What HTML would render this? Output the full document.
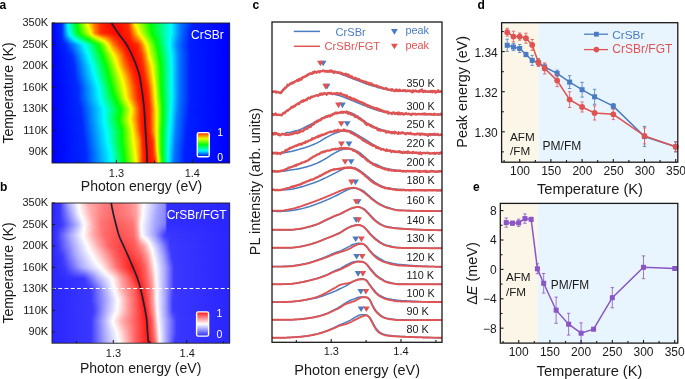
<!DOCTYPE html>
<html><head><meta charset="utf-8"><style>html,body{margin:0;padding:0;background:#fff}svg{display:block}text{font-family:"Liberation Sans",sans-serif}</style></head>
<body><div style="will-change:transform;width:685px;height:379px"><svg xmlns="http://www.w3.org/2000/svg" width="685" height="379" viewBox="0 0 685 379"><defs><linearGradient id="fg" x1="0" y1="0" x2="0" y2="1"><stop offset="0" stop-color="#fff" stop-opacity="0"/><stop offset="1" stop-color="#fff" stop-opacity="1"/></linearGradient><mask id="fm" maskContentUnits="objectBoundingBox" style="mask-type:alpha"><rect width="1" height="1" fill="url(#fg)"/></mask><linearGradient id="ga0" gradientUnits="userSpaceOnUse" x1="52" x2="229.7" y1="0" y2="0"><stop offset="0.000" stop-color="#0000ff"/><stop offset="0.056" stop-color="#0029ff"/><stop offset="0.084" stop-color="#00e8ff"/><stop offset="0.090" stop-color="#00fff4"/><stop offset="0.135" stop-color="#00ff14"/><stop offset="0.141" stop-color="#07ff00"/><stop offset="0.197" stop-color="#fcff00"/><stop offset="0.236" stop-color="#ff7b00"/><stop offset="0.276" stop-color="#ff2900"/><stop offset="0.338" stop-color="#ff0000"/><stop offset="0.428" stop-color="#ff2a00"/><stop offset="0.445" stop-color="#ff8000"/><stop offset="0.461" stop-color="#ffed00"/><stop offset="0.467" stop-color="#f7ff00"/><stop offset="0.551" stop-color="#00ff00"/><stop offset="0.670" stop-color="#00feff"/><stop offset="0.720" stop-color="#007bff"/><stop offset="0.793" stop-color="#001fff"/><stop offset="1.000" stop-color="#0000ff"/></linearGradient><linearGradient id="ga1" gradientUnits="userSpaceOnUse" x1="52" x2="229.7" y1="0" y2="0"><stop offset="0.000" stop-color="#0000ff"/><stop offset="0.056" stop-color="#0029ff"/><stop offset="0.084" stop-color="#00e1ff"/><stop offset="0.090" stop-color="#00fffc"/><stop offset="0.141" stop-color="#00ff04"/><stop offset="0.163" stop-color="#5eff00"/><stop offset="0.197" stop-color="#edff00"/><stop offset="0.203" stop-color="#fffc00"/><stop offset="0.236" stop-color="#ff8200"/><stop offset="0.264" stop-color="#ff4100"/><stop offset="0.276" stop-color="#ff2900"/><stop offset="0.338" stop-color="#ff0300"/><stop offset="0.400" stop-color="#ff1a00"/><stop offset="0.428" stop-color="#ff2800"/><stop offset="0.445" stop-color="#ff7400"/><stop offset="0.461" stop-color="#ffd800"/><stop offset="0.467" stop-color="#fff300"/><stop offset="0.473" stop-color="#f9ff00"/><stop offset="0.551" stop-color="#07ff00"/><stop offset="0.557" stop-color="#00ff06"/><stop offset="0.670" stop-color="#00feff"/><stop offset="0.720" stop-color="#007bff"/><stop offset="0.788" stop-color="#0024ff"/><stop offset="0.799" stop-color="#001dff"/><stop offset="1.000" stop-color="#0000ff"/></linearGradient><linearGradient id="ga2" gradientUnits="userSpaceOnUse" x1="52" x2="229.7" y1="0" y2="0"><stop offset="0.000" stop-color="#0000ff"/><stop offset="0.056" stop-color="#0029ff"/><stop offset="0.090" stop-color="#00fbff"/><stop offset="0.113" stop-color="#00ff95"/><stop offset="0.141" stop-color="#00ff0e"/><stop offset="0.146" stop-color="#0bff00"/><stop offset="0.197" stop-color="#deff00"/><stop offset="0.203" stop-color="#f2ff00"/><stop offset="0.208" stop-color="#fff700"/><stop offset="0.225" stop-color="#ffb700"/><stop offset="0.236" stop-color="#ff8800"/><stop offset="0.248" stop-color="#ff6800"/><stop offset="0.276" stop-color="#ff2900"/><stop offset="0.343" stop-color="#ff0600"/><stop offset="0.383" stop-color="#ff0f00"/><stop offset="0.428" stop-color="#ff2700"/><stop offset="0.439" stop-color="#ff4d00"/><stop offset="0.450" stop-color="#ff8600"/><stop offset="0.461" stop-color="#ffc400"/><stop offset="0.473" stop-color="#fff200"/><stop offset="0.478" stop-color="#f8ff00"/><stop offset="0.546" stop-color="#20ff00"/><stop offset="0.557" stop-color="#00ff00"/><stop offset="0.670" stop-color="#00feff"/><stop offset="0.720" stop-color="#007bff"/><stop offset="0.782" stop-color="#0027ff"/><stop offset="0.799" stop-color="#001dff"/><stop offset="1.000" stop-color="#0000ff"/></linearGradient><linearGradient id="ga3" gradientUnits="userSpaceOnUse" x1="52" x2="229.7" y1="0" y2="0"><stop offset="0.000" stop-color="#0000ff"/><stop offset="0.056" stop-color="#0029ff"/><stop offset="0.090" stop-color="#00f3ff"/><stop offset="0.096" stop-color="#00ffee"/><stop offset="0.146" stop-color="#00ff00"/><stop offset="0.203" stop-color="#e3ff00"/><stop offset="0.208" stop-color="#f8ff00"/><stop offset="0.214" stop-color="#fff200"/><stop offset="0.225" stop-color="#ffc300"/><stop offset="0.242" stop-color="#ff7900"/><stop offset="0.276" stop-color="#ff2900"/><stop offset="0.343" stop-color="#ff0800"/><stop offset="0.377" stop-color="#ff0900"/><stop offset="0.428" stop-color="#ff2500"/><stop offset="0.439" stop-color="#ff4300"/><stop offset="0.456" stop-color="#ff9400"/><stop offset="0.467" stop-color="#ffca00"/><stop offset="0.478" stop-color="#fff500"/><stop offset="0.484" stop-color="#f4ff00"/><stop offset="0.512" stop-color="#95ff00"/><stop offset="0.557" stop-color="#06ff00"/><stop offset="0.568" stop-color="#00ff18"/><stop offset="0.670" stop-color="#00feff"/><stop offset="0.720" stop-color="#007bff"/><stop offset="0.777" stop-color="#0028ff"/><stop offset="0.799" stop-color="#001dff"/><stop offset="1.000" stop-color="#0000ff"/></linearGradient><linearGradient id="ga4" gradientUnits="userSpaceOnUse" x1="52" x2="229.7" y1="0" y2="0"><stop offset="0.000" stop-color="#0000ff"/><stop offset="0.056" stop-color="#0029ff"/><stop offset="0.090" stop-color="#00ebff"/><stop offset="0.096" stop-color="#00fff5"/><stop offset="0.146" stop-color="#00ff0b"/><stop offset="0.152" stop-color="#0eff00"/><stop offset="0.214" stop-color="#feff00"/><stop offset="0.219" stop-color="#ffeb00"/><stop offset="0.242" stop-color="#ff7c00"/><stop offset="0.276" stop-color="#ff2900"/><stop offset="0.349" stop-color="#ff0900"/><stop offset="0.377" stop-color="#ff0600"/><stop offset="0.428" stop-color="#ff2400"/><stop offset="0.439" stop-color="#ff3800"/><stop offset="0.478" stop-color="#ffe400"/><stop offset="0.484" stop-color="#fffb00"/><stop offset="0.506" stop-color="#b4ff00"/><stop offset="0.557" stop-color="#0bff00"/><stop offset="0.563" stop-color="#00ff06"/><stop offset="0.670" stop-color="#00ffff"/><stop offset="0.720" stop-color="#007bff"/><stop offset="0.777" stop-color="#0024ff"/><stop offset="0.827" stop-color="#0018ff"/><stop offset="1.000" stop-color="#0000ff"/></linearGradient><linearGradient id="ga5" gradientUnits="userSpaceOnUse" x1="52" x2="229.7" y1="0" y2="0"><stop offset="0.000" stop-color="#0000ff"/><stop offset="0.056" stop-color="#0029ff"/><stop offset="0.096" stop-color="#00fffd"/><stop offset="0.146" stop-color="#00ff15"/><stop offset="0.152" stop-color="#04ff00"/><stop offset="0.214" stop-color="#efff00"/><stop offset="0.219" stop-color="#fff900"/><stop offset="0.242" stop-color="#ff7f00"/><stop offset="0.276" stop-color="#ff2900"/><stop offset="0.371" stop-color="#ff0200"/><stop offset="0.433" stop-color="#ff2800"/><stop offset="0.439" stop-color="#ff2e00"/><stop offset="0.467" stop-color="#ffa100"/><stop offset="0.484" stop-color="#ffeb00"/><stop offset="0.490" stop-color="#faff00"/><stop offset="0.563" stop-color="#00ff01"/><stop offset="0.670" stop-color="#00ffff"/><stop offset="0.720" stop-color="#007bff"/><stop offset="0.777" stop-color="#0021ff"/><stop offset="1.000" stop-color="#0000ff"/></linearGradient><linearGradient id="ga6" gradientUnits="userSpaceOnUse" x1="52" x2="229.7" y1="0" y2="0"><stop offset="0.000" stop-color="#0000ff"/><stop offset="0.056" stop-color="#0028ff"/><stop offset="0.096" stop-color="#00eaff"/><stop offset="0.101" stop-color="#00fffc"/><stop offset="0.152" stop-color="#00ff25"/><stop offset="0.163" stop-color="#03ff00"/><stop offset="0.219" stop-color="#d2ff00"/><stop offset="0.225" stop-color="#f0ff00"/><stop offset="0.231" stop-color="#fff000"/><stop offset="0.242" stop-color="#ffb400"/><stop offset="0.276" stop-color="#ff5800"/><stop offset="0.355" stop-color="#ff1300"/><stop offset="0.377" stop-color="#ff0700"/><stop offset="0.439" stop-color="#ff2600"/><stop offset="0.467" stop-color="#ff8b00"/><stop offset="0.495" stop-color="#fffc00"/><stop offset="0.523" stop-color="#9bff00"/><stop offset="0.563" stop-color="#0dff00"/><stop offset="0.568" stop-color="#00ff02"/><stop offset="0.664" stop-color="#00fff4"/><stop offset="0.670" stop-color="#00fcff"/><stop offset="0.720" stop-color="#0078ff"/><stop offset="0.777" stop-color="#001fff"/><stop offset="1.000" stop-color="#0000ff"/></linearGradient><linearGradient id="ga7" gradientUnits="userSpaceOnUse" x1="52" x2="229.7" y1="0" y2="0"><stop offset="0.000" stop-color="#0000ff"/><stop offset="0.056" stop-color="#0025ff"/><stop offset="0.084" stop-color="#0097ff"/><stop offset="0.101" stop-color="#00deff"/><stop offset="0.107" stop-color="#00f3ff"/><stop offset="0.113" stop-color="#00fff5"/><stop offset="0.158" stop-color="#00ff4e"/><stop offset="0.180" stop-color="#00ff05"/><stop offset="0.191" stop-color="#23ff00"/><stop offset="0.219" stop-color="#89ff00"/><stop offset="0.242" stop-color="#f7ff00"/><stop offset="0.248" stop-color="#fff700"/><stop offset="0.276" stop-color="#ffa200"/><stop offset="0.343" stop-color="#ff3000"/><stop offset="0.377" stop-color="#ff1000"/><stop offset="0.422" stop-color="#ff1600"/><stop offset="0.439" stop-color="#ff2100"/><stop offset="0.467" stop-color="#ff7400"/><stop offset="0.484" stop-color="#ffad00"/><stop offset="0.501" stop-color="#ffed00"/><stop offset="0.506" stop-color="#fcff00"/><stop offset="0.551" stop-color="#4cff00"/><stop offset="0.568" stop-color="#11ff00"/><stop offset="0.574" stop-color="#01ff00"/><stop offset="0.664" stop-color="#00fff8"/><stop offset="0.670" stop-color="#00f8ff"/><stop offset="0.709" stop-color="#008eff"/><stop offset="0.726" stop-color="#006bff"/><stop offset="0.777" stop-color="#001fff"/><stop offset="1.000" stop-color="#0000ff"/></linearGradient><linearGradient id="ga8" gradientUnits="userSpaceOnUse" x1="52" x2="229.7" y1="0" y2="0"><stop offset="0.000" stop-color="#0000ff"/><stop offset="0.056" stop-color="#0023ff"/><stop offset="0.079" stop-color="#0067ff"/><stop offset="0.107" stop-color="#00cdff"/><stop offset="0.118" stop-color="#00f2ff"/><stop offset="0.124" stop-color="#00fff9"/><stop offset="0.163" stop-color="#00ff7b"/><stop offset="0.191" stop-color="#00ff23"/><stop offset="0.203" stop-color="#04ff00"/><stop offset="0.219" stop-color="#40ff00"/><stop offset="0.242" stop-color="#a4ff00"/><stop offset="0.264" stop-color="#e8ff00"/><stop offset="0.270" stop-color="#fdff00"/><stop offset="0.315" stop-color="#ff8700"/><stop offset="0.343" stop-color="#ff4500"/><stop offset="0.377" stop-color="#ff1800"/><stop offset="0.422" stop-color="#ff1000"/><stop offset="0.439" stop-color="#ff1b00"/><stop offset="0.473" stop-color="#ff6c00"/><stop offset="0.484" stop-color="#ff8a00"/><stop offset="0.512" stop-color="#fff800"/><stop offset="0.518" stop-color="#edff00"/><stop offset="0.551" stop-color="#63ff00"/><stop offset="0.574" stop-color="#11ff00"/><stop offset="0.580" stop-color="#00ff01"/><stop offset="0.625" stop-color="#00ff89"/><stop offset="0.664" stop-color="#00fffb"/><stop offset="0.687" stop-color="#00c4ff"/><stop offset="0.709" stop-color="#0087ff"/><stop offset="0.743" stop-color="#004eff"/><stop offset="0.777" stop-color="#001eff"/><stop offset="1.000" stop-color="#0000ff"/></linearGradient><linearGradient id="ga9" gradientUnits="userSpaceOnUse" x1="52" x2="229.7" y1="0" y2="0"><stop offset="0.000" stop-color="#0000ff"/><stop offset="0.056" stop-color="#0021ff"/><stop offset="0.079" stop-color="#0051ff"/><stop offset="0.129" stop-color="#00e7ff"/><stop offset="0.135" stop-color="#00f7ff"/><stop offset="0.141" stop-color="#00fff7"/><stop offset="0.186" stop-color="#00ff7c"/><stop offset="0.219" stop-color="#00ff09"/><stop offset="0.225" stop-color="#0eff00"/><stop offset="0.242" stop-color="#51ff00"/><stop offset="0.264" stop-color="#99ff00"/><stop offset="0.281" stop-color="#daff00"/><stop offset="0.293" stop-color="#fffd00"/><stop offset="0.326" stop-color="#ff8e00"/><stop offset="0.343" stop-color="#ff5a00"/><stop offset="0.377" stop-color="#ff2100"/><stop offset="0.416" stop-color="#ff0b00"/><stop offset="0.439" stop-color="#ff1600"/><stop offset="0.484" stop-color="#ff6700"/><stop offset="0.506" stop-color="#ffbc00"/><stop offset="0.518" stop-color="#fff200"/><stop offset="0.523" stop-color="#f1ff00"/><stop offset="0.546" stop-color="#91ff00"/><stop offset="0.580" stop-color="#0dff00"/><stop offset="0.585" stop-color="#00ff08"/><stop offset="0.664" stop-color="#00ffff"/><stop offset="0.703" stop-color="#008dff"/><stop offset="0.732" stop-color="#005cff"/><stop offset="0.771" stop-color="#0022ff"/><stop offset="0.855" stop-color="#0013ff"/><stop offset="1.000" stop-color="#0000ff"/></linearGradient><linearGradient id="ga10" gradientUnits="userSpaceOnUse" x1="52" x2="229.7" y1="0" y2="0"><stop offset="0.000" stop-color="#0000ff"/><stop offset="0.056" stop-color="#001fff"/><stop offset="0.079" stop-color="#003aff"/><stop offset="0.158" stop-color="#00f9ff"/><stop offset="0.169" stop-color="#00ffeb"/><stop offset="0.186" stop-color="#00ffc2"/><stop offset="0.236" stop-color="#00ff16"/><stop offset="0.242" stop-color="#00ff02"/><stop offset="0.264" stop-color="#49ff00"/><stop offset="0.304" stop-color="#f4ff00"/><stop offset="0.310" stop-color="#fff200"/><stop offset="0.343" stop-color="#ff7000"/><stop offset="0.377" stop-color="#ff2900"/><stop offset="0.416" stop-color="#ff0600"/><stop offset="0.439" stop-color="#ff1000"/><stop offset="0.484" stop-color="#ff4400"/><stop offset="0.506" stop-color="#ff9a00"/><stop offset="0.523" stop-color="#fff000"/><stop offset="0.529" stop-color="#f1ff00"/><stop offset="0.585" stop-color="#05ff00"/><stop offset="0.597" stop-color="#00ff23"/><stop offset="0.658" stop-color="#00fff1"/><stop offset="0.664" stop-color="#00fbff"/><stop offset="0.703" stop-color="#0086ff"/><stop offset="0.737" stop-color="#0050ff"/><stop offset="0.771" stop-color="#0020ff"/><stop offset="1.000" stop-color="#0000ff"/></linearGradient><linearGradient id="ga11" gradientUnits="userSpaceOnUse" x1="52" x2="229.7" y1="0" y2="0"><stop offset="0.000" stop-color="#0000ff"/><stop offset="0.079" stop-color="#0028ff"/><stop offset="0.180" stop-color="#00f7ff"/><stop offset="0.186" stop-color="#00fff8"/><stop offset="0.259" stop-color="#00ff0d"/><stop offset="0.264" stop-color="#0aff00"/><stop offset="0.315" stop-color="#feff00"/><stop offset="0.343" stop-color="#ff8700"/><stop offset="0.377" stop-color="#ff3500"/><stop offset="0.411" stop-color="#ff0b00"/><stop offset="0.422" stop-color="#ff0300"/><stop offset="0.484" stop-color="#ff2900"/><stop offset="0.506" stop-color="#ff7d00"/><stop offset="0.529" stop-color="#fff500"/><stop offset="0.535" stop-color="#efff00"/><stop offset="0.585" stop-color="#12ff00"/><stop offset="0.591" stop-color="#00ff05"/><stop offset="0.658" stop-color="#00fff2"/><stop offset="0.664" stop-color="#00f9ff"/><stop offset="0.703" stop-color="#0082ff"/><stop offset="0.726" stop-color="#005eff"/><stop offset="0.771" stop-color="#001fff"/><stop offset="1.000" stop-color="#0000ff"/></linearGradient><linearGradient id="ga12" gradientUnits="userSpaceOnUse" x1="52" x2="229.7" y1="0" y2="0"><stop offset="0.000" stop-color="#0000ff"/><stop offset="0.079" stop-color="#0026ff"/><stop offset="0.118" stop-color="#006bff"/><stop offset="0.186" stop-color="#00fcff"/><stop offset="0.219" stop-color="#00ff99"/><stop offset="0.264" stop-color="#00ff05"/><stop offset="0.276" stop-color="#2eff00"/><stop offset="0.321" stop-color="#fcff00"/><stop offset="0.343" stop-color="#ffa100"/><stop offset="0.383" stop-color="#ff3e00"/><stop offset="0.416" stop-color="#ff0c00"/><stop offset="0.433" stop-color="#ff0c00"/><stop offset="0.456" stop-color="#ff1300"/><stop offset="0.484" stop-color="#ff2600"/><stop offset="0.501" stop-color="#ff5b00"/><stop offset="0.512" stop-color="#ff8d00"/><stop offset="0.535" stop-color="#feff00"/><stop offset="0.580" stop-color="#36ff00"/><stop offset="0.591" stop-color="#07ff00"/><stop offset="0.597" stop-color="#00ff0e"/><stop offset="0.664" stop-color="#00feff"/><stop offset="0.703" stop-color="#0086ff"/><stop offset="0.726" stop-color="#0060ff"/><stop offset="0.771" stop-color="#0020ff"/><stop offset="1.000" stop-color="#0000ff"/></linearGradient><linearGradient id="ga13" gradientUnits="userSpaceOnUse" x1="52" x2="229.7" y1="0" y2="0"><stop offset="0.000" stop-color="#0000ff"/><stop offset="0.079" stop-color="#0024ff"/><stop offset="0.113" stop-color="#0054ff"/><stop offset="0.191" stop-color="#00fffc"/><stop offset="0.225" stop-color="#00ff95"/><stop offset="0.264" stop-color="#00ff13"/><stop offset="0.270" stop-color="#04ff00"/><stop offset="0.326" stop-color="#fbff00"/><stop offset="0.343" stop-color="#ffbc00"/><stop offset="0.383" stop-color="#ff5100"/><stop offset="0.416" stop-color="#ff1300"/><stop offset="0.450" stop-color="#ff0c00"/><stop offset="0.484" stop-color="#ff2400"/><stop offset="0.501" stop-color="#ff4f00"/><stop offset="0.518" stop-color="#ff9a00"/><stop offset="0.535" stop-color="#fff100"/><stop offset="0.540" stop-color="#f1ff00"/><stop offset="0.585" stop-color="#29ff00"/><stop offset="0.597" stop-color="#00ff04"/><stop offset="0.664" stop-color="#00fffb"/><stop offset="0.687" stop-color="#00bdff"/><stop offset="0.709" stop-color="#007dff"/><stop offset="0.771" stop-color="#0022ff"/><stop offset="0.850" stop-color="#0014ff"/><stop offset="1.000" stop-color="#0000ff"/></linearGradient><linearGradient id="ga14" gradientUnits="userSpaceOnUse" x1="52" x2="229.7" y1="0" y2="0"><stop offset="0.000" stop-color="#0000ff"/><stop offset="0.079" stop-color="#0022ff"/><stop offset="0.113" stop-color="#0048ff"/><stop offset="0.191" stop-color="#00f7ff"/><stop offset="0.197" stop-color="#00fff8"/><stop offset="0.242" stop-color="#00ff6c"/><stop offset="0.264" stop-color="#00ff22"/><stop offset="0.270" stop-color="#00ff0c"/><stop offset="0.276" stop-color="#0aff00"/><stop offset="0.298" stop-color="#68ff00"/><stop offset="0.332" stop-color="#f9ff00"/><stop offset="0.343" stop-color="#ffd700"/><stop offset="0.383" stop-color="#ff6500"/><stop offset="0.416" stop-color="#ff1a00"/><stop offset="0.450" stop-color="#ff0800"/><stop offset="0.484" stop-color="#ff2100"/><stop offset="0.501" stop-color="#ff4300"/><stop offset="0.518" stop-color="#ff8a00"/><stop offset="0.529" stop-color="#ffc400"/><stop offset="0.540" stop-color="#feff00"/><stop offset="0.557" stop-color="#b0ff00"/><stop offset="0.597" stop-color="#07ff00"/><stop offset="0.602" stop-color="#00ff10"/><stop offset="0.664" stop-color="#00fff6"/><stop offset="0.670" stop-color="#00f5ff"/><stop offset="0.709" stop-color="#0080ff"/><stop offset="0.732" stop-color="#005cff"/><stop offset="0.777" stop-color="#001fff"/><stop offset="1.000" stop-color="#0000ff"/></linearGradient><linearGradient id="ga15" gradientUnits="userSpaceOnUse" x1="52" x2="229.7" y1="0" y2="0"><stop offset="0.000" stop-color="#0000ff"/><stop offset="0.084" stop-color="#0024ff"/><stop offset="0.107" stop-color="#0034ff"/><stop offset="0.124" stop-color="#0055ff"/><stop offset="0.197" stop-color="#00fbff"/><stop offset="0.203" stop-color="#00fff6"/><stop offset="0.270" stop-color="#00ff1c"/><stop offset="0.276" stop-color="#00ff08"/><stop offset="0.281" stop-color="#0cff00"/><stop offset="0.338" stop-color="#f6ff00"/><stop offset="0.343" stop-color="#fff100"/><stop offset="0.388" stop-color="#ff6900"/><stop offset="0.416" stop-color="#ff2100"/><stop offset="0.450" stop-color="#ff0400"/><stop offset="0.484" stop-color="#ff1e00"/><stop offset="0.501" stop-color="#ff3700"/><stop offset="0.523" stop-color="#ff9300"/><stop offset="0.540" stop-color="#fff300"/><stop offset="0.546" stop-color="#edff00"/><stop offset="0.597" stop-color="#12ff00"/><stop offset="0.602" stop-color="#00ff06"/><stop offset="0.664" stop-color="#00fff1"/><stop offset="0.670" stop-color="#00f9ff"/><stop offset="0.709" stop-color="#0083ff"/><stop offset="0.720" stop-color="#006eff"/><stop offset="0.777" stop-color="#001fff"/><stop offset="1.000" stop-color="#0000ff"/></linearGradient><linearGradient id="ga16" gradientUnits="userSpaceOnUse" x1="52" x2="229.7" y1="0" y2="0"><stop offset="0.000" stop-color="#0000ff"/><stop offset="0.107" stop-color="#0029ff"/><stop offset="0.124" stop-color="#004aff"/><stop offset="0.203" stop-color="#00fcff"/><stop offset="0.214" stop-color="#00ffe1"/><stop offset="0.281" stop-color="#00ff08"/><stop offset="0.287" stop-color="#0cff00"/><stop offset="0.343" stop-color="#f2ff00"/><stop offset="0.349" stop-color="#fff600"/><stop offset="0.400" stop-color="#ff5900"/><stop offset="0.416" stop-color="#ff2800"/><stop offset="0.450" stop-color="#ff0100"/><stop offset="0.501" stop-color="#ff2b00"/><stop offset="0.523" stop-color="#ff8200"/><stop offset="0.540" stop-color="#ffe600"/><stop offset="0.546" stop-color="#f9ff00"/><stop offset="0.602" stop-color="#04ff00"/><stop offset="0.625" stop-color="#00ff54"/><stop offset="0.670" stop-color="#00fdff"/><stop offset="0.715" stop-color="#0078ff"/><stop offset="0.777" stop-color="#001fff"/><stop offset="1.000" stop-color="#0000ff"/></linearGradient><linearGradient id="ga17" gradientUnits="userSpaceOnUse" x1="52" x2="229.7" y1="0" y2="0"><stop offset="0.000" stop-color="#0000ff"/><stop offset="0.107" stop-color="#0027ff"/><stop offset="0.124" stop-color="#0043ff"/><stop offset="0.208" stop-color="#00fffc"/><stop offset="0.281" stop-color="#00ff16"/><stop offset="0.287" stop-color="#00ff03"/><stop offset="0.326" stop-color="#9cff00"/><stop offset="0.349" stop-color="#f6ff00"/><stop offset="0.355" stop-color="#fff500"/><stop offset="0.405" stop-color="#ff5300"/><stop offset="0.416" stop-color="#ff3300"/><stop offset="0.450" stop-color="#ff0500"/><stop offset="0.484" stop-color="#ff1800"/><stop offset="0.501" stop-color="#ff2700"/><stop offset="0.523" stop-color="#ff7900"/><stop offset="0.546" stop-color="#fff700"/><stop offset="0.551" stop-color="#efff00"/><stop offset="0.602" stop-color="#0bff00"/><stop offset="0.608" stop-color="#00ff0c"/><stop offset="0.670" stop-color="#00ffff"/><stop offset="0.715" stop-color="#0078ff"/><stop offset="0.777" stop-color="#001fff"/><stop offset="1.000" stop-color="#0000ff"/></linearGradient><linearGradient id="ga18" gradientUnits="userSpaceOnUse" x1="52" x2="229.7" y1="0" y2="0"><stop offset="0.000" stop-color="#0000ff"/><stop offset="0.107" stop-color="#0026ff"/><stop offset="0.124" stop-color="#003dff"/><stop offset="0.208" stop-color="#00f9ff"/><stop offset="0.214" stop-color="#00fff6"/><stop offset="0.253" stop-color="#00ff7d"/><stop offset="0.287" stop-color="#00ff10"/><stop offset="0.293" stop-color="#05ff00"/><stop offset="0.355" stop-color="#faff00"/><stop offset="0.366" stop-color="#ffdc00"/><stop offset="0.411" stop-color="#ff4d00"/><stop offset="0.422" stop-color="#ff3300"/><stop offset="0.445" stop-color="#ff1000"/><stop offset="0.450" stop-color="#ff0a00"/><stop offset="0.478" stop-color="#ff1000"/><stop offset="0.501" stop-color="#ff2500"/><stop offset="0.512" stop-color="#ff4500"/><stop offset="0.523" stop-color="#ff7100"/><stop offset="0.546" stop-color="#ffe800"/><stop offset="0.551" stop-color="#feff00"/><stop offset="0.602" stop-color="#13ff00"/><stop offset="0.608" stop-color="#00ff06"/><stop offset="0.670" stop-color="#00fffc"/><stop offset="0.715" stop-color="#0078ff"/><stop offset="0.777" stop-color="#001fff"/><stop offset="1.000" stop-color="#0000ff"/></linearGradient><linearGradient id="ga19" gradientUnits="userSpaceOnUse" x1="52" x2="229.7" y1="0" y2="0"><stop offset="0.000" stop-color="#0000ff"/><stop offset="0.113" stop-color="#002aff"/><stop offset="0.124" stop-color="#0038ff"/><stop offset="0.208" stop-color="#00efff"/><stop offset="0.214" stop-color="#00feff"/><stop offset="0.231" stop-color="#00ffd2"/><stop offset="0.293" stop-color="#00ff09"/><stop offset="0.298" stop-color="#0bff00"/><stop offset="0.332" stop-color="#92ff00"/><stop offset="0.360" stop-color="#fffe00"/><stop offset="0.405" stop-color="#ff6700"/><stop offset="0.422" stop-color="#ff3d00"/><stop offset="0.439" stop-color="#ff1c00"/><stop offset="0.450" stop-color="#ff0f00"/><stop offset="0.478" stop-color="#ff0c00"/><stop offset="0.501" stop-color="#ff2200"/><stop offset="0.512" stop-color="#ff3d00"/><stop offset="0.523" stop-color="#ff6800"/><stop offset="0.551" stop-color="#fff100"/><stop offset="0.557" stop-color="#f4ff00"/><stop offset="0.608" stop-color="#00ff00"/><stop offset="0.670" stop-color="#00fffa"/><stop offset="0.681" stop-color="#00e0ff"/><stop offset="0.715" stop-color="#0078ff"/><stop offset="0.777" stop-color="#001fff"/><stop offset="1.000" stop-color="#0000ff"/></linearGradient><linearGradient id="ga20" gradientUnits="userSpaceOnUse" x1="52" x2="229.7" y1="0" y2="0"><stop offset="0.000" stop-color="#0000ff"/><stop offset="0.113" stop-color="#0028ff"/><stop offset="0.124" stop-color="#0032ff"/><stop offset="0.219" stop-color="#00fffd"/><stop offset="0.242" stop-color="#00ffbb"/><stop offset="0.298" stop-color="#00ff04"/><stop offset="0.304" stop-color="#0fff00"/><stop offset="0.360" stop-color="#f1ff00"/><stop offset="0.366" stop-color="#fff700"/><stop offset="0.405" stop-color="#ff7100"/><stop offset="0.428" stop-color="#ff3a00"/><stop offset="0.439" stop-color="#ff2100"/><stop offset="0.461" stop-color="#ff0e00"/><stop offset="0.473" stop-color="#ff0700"/><stop offset="0.501" stop-color="#ff2000"/><stop offset="0.512" stop-color="#ff3500"/><stop offset="0.529" stop-color="#ff7900"/><stop offset="0.557" stop-color="#fffc00"/><stop offset="0.568" stop-color="#cdff00"/><stop offset="0.608" stop-color="#06ff00"/><stop offset="0.619" stop-color="#00ff2a"/><stop offset="0.670" stop-color="#00fff7"/><stop offset="0.675" stop-color="#00f3ff"/><stop offset="0.715" stop-color="#0078ff"/><stop offset="0.777" stop-color="#001fff"/><stop offset="1.000" stop-color="#0000ff"/></linearGradient><linearGradient id="ga21" gradientUnits="userSpaceOnUse" x1="52" x2="229.7" y1="0" y2="0"><stop offset="0.000" stop-color="#0000ff"/><stop offset="0.124" stop-color="#002cff"/><stop offset="0.225" stop-color="#00fffc"/><stop offset="0.304" stop-color="#00ff01"/><stop offset="0.366" stop-color="#faff00"/><stop offset="0.377" stop-color="#ffdb00"/><stop offset="0.405" stop-color="#ff7b00"/><stop offset="0.439" stop-color="#ff2700"/><stop offset="0.473" stop-color="#ff0500"/><stop offset="0.484" stop-color="#ff0b00"/><stop offset="0.512" stop-color="#ff2d00"/><stop offset="0.540" stop-color="#ffa000"/><stop offset="0.557" stop-color="#ffed00"/><stop offset="0.563" stop-color="#f7ff00"/><stop offset="0.608" stop-color="#0cff00"/><stop offset="0.613" stop-color="#00ff0e"/><stop offset="0.670" stop-color="#00fff5"/><stop offset="0.675" stop-color="#00f5ff"/><stop offset="0.715" stop-color="#0078ff"/><stop offset="0.777" stop-color="#001fff"/><stop offset="1.000" stop-color="#0000ff"/></linearGradient><linearGradient id="ga22" gradientUnits="userSpaceOnUse" x1="52" x2="229.7" y1="0" y2="0"><stop offset="0.000" stop-color="#0000ff"/><stop offset="0.124" stop-color="#0029ff"/><stop offset="0.225" stop-color="#00f9ff"/><stop offset="0.231" stop-color="#00fff6"/><stop offset="0.304" stop-color="#00ff0d"/><stop offset="0.310" stop-color="#07ff00"/><stop offset="0.366" stop-color="#ecff00"/><stop offset="0.371" stop-color="#fffd00"/><stop offset="0.405" stop-color="#ff8700"/><stop offset="0.439" stop-color="#ff2f00"/><stop offset="0.473" stop-color="#ff0500"/><stop offset="0.484" stop-color="#ff0a00"/><stop offset="0.512" stop-color="#ff2800"/><stop offset="0.535" stop-color="#ff7c00"/><stop offset="0.563" stop-color="#fffc00"/><stop offset="0.580" stop-color="#a8ff00"/><stop offset="0.608" stop-color="#11ff00"/><stop offset="0.613" stop-color="#00ff0a"/><stop offset="0.670" stop-color="#00fff3"/><stop offset="0.675" stop-color="#00f6ff"/><stop offset="0.715" stop-color="#0078ff"/><stop offset="0.777" stop-color="#001fff"/><stop offset="1.000" stop-color="#0000ff"/></linearGradient><linearGradient id="ga23" gradientUnits="userSpaceOnUse" x1="52" x2="229.7" y1="0" y2="0"><stop offset="0.000" stop-color="#0000ff"/><stop offset="0.124" stop-color="#0028ff"/><stop offset="0.231" stop-color="#00fffc"/><stop offset="0.276" stop-color="#00ff70"/><stop offset="0.310" stop-color="#00ff02"/><stop offset="0.360" stop-color="#c6ff00"/><stop offset="0.371" stop-color="#f2ff00"/><stop offset="0.377" stop-color="#fff800"/><stop offset="0.411" stop-color="#ff8700"/><stop offset="0.439" stop-color="#ff3b00"/><stop offset="0.467" stop-color="#ff1000"/><stop offset="0.478" stop-color="#ff0700"/><stop offset="0.501" stop-color="#ff1700"/><stop offset="0.512" stop-color="#ff2500"/><stop offset="0.529" stop-color="#ff5e00"/><stop offset="0.557" stop-color="#ffda00"/><stop offset="0.563" stop-color="#fff500"/><stop offset="0.568" stop-color="#ecff00"/><stop offset="0.608" stop-color="#15ff00"/><stop offset="0.613" stop-color="#00ff07"/><stop offset="0.670" stop-color="#00fff3"/><stop offset="0.675" stop-color="#00f6ff"/><stop offset="0.715" stop-color="#0078ff"/><stop offset="0.777" stop-color="#001fff"/><stop offset="1.000" stop-color="#0000ff"/></linearGradient><linearGradient id="ga24" gradientUnits="userSpaceOnUse" x1="52" x2="229.7" y1="0" y2="0"><stop offset="0.000" stop-color="#0000ff"/><stop offset="0.124" stop-color="#0028ff"/><stop offset="0.141" stop-color="#0044ff"/><stop offset="0.231" stop-color="#00fcff"/><stop offset="0.248" stop-color="#00ffd2"/><stop offset="0.310" stop-color="#00ff0b"/><stop offset="0.315" stop-color="#09ff00"/><stop offset="0.377" stop-color="#f7ff00"/><stop offset="0.383" stop-color="#fff300"/><stop offset="0.411" stop-color="#ff9600"/><stop offset="0.439" stop-color="#ff4600"/><stop offset="0.467" stop-color="#ff1400"/><stop offset="0.478" stop-color="#ff0a00"/><stop offset="0.495" stop-color="#ff0d00"/><stop offset="0.512" stop-color="#ff2200"/><stop offset="0.523" stop-color="#ff4000"/><stop offset="0.546" stop-color="#ff9d00"/><stop offset="0.563" stop-color="#ffee00"/><stop offset="0.568" stop-color="#f3ff00"/><stop offset="0.608" stop-color="#19ff00"/><stop offset="0.613" stop-color="#00ff05"/><stop offset="0.670" stop-color="#00fff3"/><stop offset="0.675" stop-color="#00f6ff"/><stop offset="0.715" stop-color="#0078ff"/><stop offset="0.777" stop-color="#001fff"/><stop offset="1.000" stop-color="#0000ff"/></linearGradient><linearGradient id="ga25" gradientUnits="userSpaceOnUse" x1="52" x2="229.7" y1="0" y2="0"><stop offset="0.000" stop-color="#0000ff"/><stop offset="0.124" stop-color="#0027ff"/><stop offset="0.135" stop-color="#0035ff"/><stop offset="0.231" stop-color="#00f6ff"/><stop offset="0.236" stop-color="#00fffb"/><stop offset="0.259" stop-color="#00ffb7"/><stop offset="0.315" stop-color="#00ff01"/><stop offset="0.383" stop-color="#fcff00"/><stop offset="0.416" stop-color="#ff9400"/><stop offset="0.445" stop-color="#ff4500"/><stop offset="0.461" stop-color="#ff1f00"/><stop offset="0.484" stop-color="#ff0b00"/><stop offset="0.495" stop-color="#ff0900"/><stop offset="0.512" stop-color="#ff1f00"/><stop offset="0.523" stop-color="#ff3800"/><stop offset="0.551" stop-color="#ffb000"/><stop offset="0.563" stop-color="#ffe700"/><stop offset="0.568" stop-color="#faff00"/><stop offset="0.613" stop-color="#00ff02"/><stop offset="0.670" stop-color="#00fff3"/><stop offset="0.675" stop-color="#00f6ff"/><stop offset="0.715" stop-color="#0078ff"/><stop offset="0.777" stop-color="#001fff"/><stop offset="1.000" stop-color="#0000ff"/></linearGradient><linearGradient id="ga26" gradientUnits="userSpaceOnUse" x1="52" x2="229.7" y1="0" y2="0"><stop offset="0.000" stop-color="#0000ff"/><stop offset="0.129" stop-color="#002aff"/><stop offset="0.231" stop-color="#00f0ff"/><stop offset="0.236" stop-color="#00fcff"/><stop offset="0.242" stop-color="#00fff6"/><stop offset="0.315" stop-color="#00ff0b"/><stop offset="0.321" stop-color="#08ff00"/><stop offset="0.383" stop-color="#edff00"/><stop offset="0.388" stop-color="#fffc00"/><stop offset="0.439" stop-color="#ff5e00"/><stop offset="0.461" stop-color="#ff2400"/><stop offset="0.490" stop-color="#ff0700"/><stop offset="0.495" stop-color="#ff0600"/><stop offset="0.518" stop-color="#ff2600"/><stop offset="0.523" stop-color="#ff3000"/><stop offset="0.546" stop-color="#ff8d00"/><stop offset="0.568" stop-color="#fffd00"/><stop offset="0.613" stop-color="#01ff00"/><stop offset="0.670" stop-color="#00fff3"/><stop offset="0.675" stop-color="#00f6ff"/><stop offset="0.715" stop-color="#0078ff"/><stop offset="0.777" stop-color="#001fff"/><stop offset="1.000" stop-color="#0000ff"/></linearGradient><linearGradient id="ga27" gradientUnits="userSpaceOnUse" x1="52" x2="229.7" y1="0" y2="0"><stop offset="0.000" stop-color="#0000ff"/><stop offset="0.129" stop-color="#0028ff"/><stop offset="0.152" stop-color="#0050ff"/><stop offset="0.242" stop-color="#00fffe"/><stop offset="0.321" stop-color="#00ff03"/><stop offset="0.355" stop-color="#78ff00"/><stop offset="0.388" stop-color="#f3ff00"/><stop offset="0.394" stop-color="#fff700"/><stop offset="0.450" stop-color="#ff4800"/><stop offset="0.461" stop-color="#ff2800"/><stop offset="0.490" stop-color="#ff0500"/><stop offset="0.495" stop-color="#ff0300"/><stop offset="0.523" stop-color="#ff2900"/><stop offset="0.546" stop-color="#ff8400"/><stop offset="0.568" stop-color="#fff500"/><stop offset="0.574" stop-color="#e9ff00"/><stop offset="0.613" stop-color="#03ff00"/><stop offset="0.670" stop-color="#00fff3"/><stop offset="0.675" stop-color="#00f6ff"/><stop offset="0.715" stop-color="#0078ff"/><stop offset="0.777" stop-color="#001fff"/><stop offset="1.000" stop-color="#0000ff"/></linearGradient><linearGradient id="ga28" gradientUnits="userSpaceOnUse" x1="52" x2="229.7" y1="0" y2="0"><stop offset="0.000" stop-color="#0000ff"/><stop offset="0.129" stop-color="#0027ff"/><stop offset="0.152" stop-color="#004aff"/><stop offset="0.242" stop-color="#00f8ff"/><stop offset="0.248" stop-color="#00fff5"/><stop offset="0.281" stop-color="#00ff8d"/><stop offset="0.321" stop-color="#00ff0d"/><stop offset="0.326" stop-color="#08ff00"/><stop offset="0.394" stop-color="#fdff00"/><stop offset="0.456" stop-color="#ff3f00"/><stop offset="0.467" stop-color="#ff2700"/><stop offset="0.495" stop-color="#ff0400"/><stop offset="0.523" stop-color="#ff2600"/><stop offset="0.540" stop-color="#ff6200"/><stop offset="0.557" stop-color="#ffb300"/><stop offset="0.568" stop-color="#ffed00"/><stop offset="0.574" stop-color="#f1ff00"/><stop offset="0.613" stop-color="#04ff00"/><stop offset="0.636" stop-color="#00ff60"/><stop offset="0.670" stop-color="#00fff3"/><stop offset="0.675" stop-color="#00f6ff"/><stop offset="0.715" stop-color="#0078ff"/><stop offset="0.777" stop-color="#001fff"/><stop offset="1.000" stop-color="#0000ff"/></linearGradient><linearGradient id="ga29" gradientUnits="userSpaceOnUse" x1="52" x2="229.7" y1="0" y2="0"><stop offset="0.000" stop-color="#0000ff"/><stop offset="0.129" stop-color="#0027ff"/><stop offset="0.146" stop-color="#003aff"/><stop offset="0.242" stop-color="#00f1ff"/><stop offset="0.248" stop-color="#00fffe"/><stop offset="0.270" stop-color="#00ffbe"/><stop offset="0.326" stop-color="#00ff02"/><stop offset="0.394" stop-color="#f3ff00"/><stop offset="0.400" stop-color="#fff800"/><stop offset="0.456" stop-color="#ff4700"/><stop offset="0.473" stop-color="#ff2200"/><stop offset="0.495" stop-color="#ff0600"/><stop offset="0.512" stop-color="#ff1300"/><stop offset="0.523" stop-color="#ff2200"/><stop offset="0.540" stop-color="#ff5800"/><stop offset="0.563" stop-color="#ffc700"/><stop offset="0.574" stop-color="#f9ff00"/><stop offset="0.613" stop-color="#04ff00"/><stop offset="0.636" stop-color="#00ff60"/><stop offset="0.670" stop-color="#00fff3"/><stop offset="0.675" stop-color="#00f6ff"/><stop offset="0.715" stop-color="#0078ff"/><stop offset="0.777" stop-color="#001fff"/><stop offset="1.000" stop-color="#0000ff"/></linearGradient><linearGradient id="ga30" gradientUnits="userSpaceOnUse" x1="52" x2="229.7" y1="0" y2="0"><stop offset="0.000" stop-color="#0000ff"/><stop offset="0.135" stop-color="#002aff"/><stop offset="0.152" stop-color="#003fff"/><stop offset="0.242" stop-color="#00e9ff"/><stop offset="0.253" stop-color="#00fffa"/><stop offset="0.264" stop-color="#00ffde"/><stop offset="0.326" stop-color="#00ff0c"/><stop offset="0.332" stop-color="#08ff00"/><stop offset="0.400" stop-color="#fdff00"/><stop offset="0.461" stop-color="#ff3f00"/><stop offset="0.478" stop-color="#ff1d00"/><stop offset="0.495" stop-color="#ff0800"/><stop offset="0.506" stop-color="#ff0900"/><stop offset="0.523" stop-color="#ff1f00"/><stop offset="0.535" stop-color="#ff3a00"/><stop offset="0.540" stop-color="#ff4d00"/><stop offset="0.563" stop-color="#ffbe00"/><stop offset="0.574" stop-color="#fffd00"/><stop offset="0.591" stop-color="#96ff00"/><stop offset="0.613" stop-color="#04ff00"/><stop offset="0.636" stop-color="#00ff60"/><stop offset="0.670" stop-color="#00fff3"/><stop offset="0.675" stop-color="#00f6ff"/><stop offset="0.715" stop-color="#0078ff"/><stop offset="0.777" stop-color="#001fff"/><stop offset="1.000" stop-color="#0000ff"/></linearGradient><linearGradient id="ga31" gradientUnits="userSpaceOnUse" x1="52" x2="229.7" y1="0" y2="0"><stop offset="0.000" stop-color="#0000ff"/><stop offset="0.135" stop-color="#0028ff"/><stop offset="0.146" stop-color="#0030ff"/><stop offset="0.248" stop-color="#00edff"/><stop offset="0.253" stop-color="#00faff"/><stop offset="0.264" stop-color="#00ffeb"/><stop offset="0.332" stop-color="#00ff02"/><stop offset="0.400" stop-color="#f4ff00"/><stop offset="0.405" stop-color="#fff600"/><stop offset="0.461" stop-color="#ff4700"/><stop offset="0.478" stop-color="#ff2000"/><stop offset="0.501" stop-color="#ff0500"/><stop offset="0.512" stop-color="#ff0e00"/><stop offset="0.529" stop-color="#ff2600"/><stop offset="0.535" stop-color="#ff3100"/><stop offset="0.540" stop-color="#ff4300"/><stop offset="0.563" stop-color="#ffb500"/><stop offset="0.574" stop-color="#fff500"/><stop offset="0.580" stop-color="#e6ff00"/><stop offset="0.613" stop-color="#04ff00"/><stop offset="0.636" stop-color="#00ff60"/><stop offset="0.670" stop-color="#00fff3"/><stop offset="0.675" stop-color="#00f6ff"/><stop offset="0.715" stop-color="#0078ff"/><stop offset="0.777" stop-color="#001fff"/><stop offset="1.000" stop-color="#0000ff"/></linearGradient><linearGradient id="ga32" gradientUnits="userSpaceOnUse" x1="52" x2="229.7" y1="0" y2="0"><stop offset="0.000" stop-color="#0000ff"/><stop offset="0.146" stop-color="#002aff"/><stop offset="0.259" stop-color="#00faff"/><stop offset="0.264" stop-color="#00fff8"/><stop offset="0.332" stop-color="#00ff0b"/><stop offset="0.338" stop-color="#09ff00"/><stop offset="0.405" stop-color="#ffff00"/><stop offset="0.461" stop-color="#ff4f00"/><stop offset="0.473" stop-color="#ff2e00"/><stop offset="0.501" stop-color="#ff0400"/><stop offset="0.506" stop-color="#ff0400"/><stop offset="0.535" stop-color="#ff2800"/><stop offset="0.540" stop-color="#ff3900"/><stop offset="0.557" stop-color="#ff8c00"/><stop offset="0.574" stop-color="#ffed00"/><stop offset="0.580" stop-color="#edff00"/><stop offset="0.613" stop-color="#04ff00"/><stop offset="0.636" stop-color="#00ff60"/><stop offset="0.670" stop-color="#00fff3"/><stop offset="0.675" stop-color="#00f6ff"/><stop offset="0.715" stop-color="#0078ff"/><stop offset="0.777" stop-color="#001fff"/><stop offset="1.000" stop-color="#0000ff"/></linearGradient><linearGradient id="ga33" gradientUnits="userSpaceOnUse" x1="52" x2="229.7" y1="0" y2="0"><stop offset="0.000" stop-color="#0000ff"/><stop offset="0.146" stop-color="#0029ff"/><stop offset="0.264" stop-color="#00fffd"/><stop offset="0.338" stop-color="#00ff03"/><stop offset="0.371" stop-color="#78ff00"/><stop offset="0.405" stop-color="#f6ff00"/><stop offset="0.411" stop-color="#fff500"/><stop offset="0.461" stop-color="#ff5400"/><stop offset="0.473" stop-color="#ff3200"/><stop offset="0.495" stop-color="#ff0e00"/><stop offset="0.506" stop-color="#ff0400"/><stop offset="0.535" stop-color="#ff2400"/><stop offset="0.540" stop-color="#ff3400"/><stop offset="0.557" stop-color="#ff8600"/><stop offset="0.574" stop-color="#ffe800"/><stop offset="0.580" stop-color="#f3ff00"/><stop offset="0.613" stop-color="#08ff00"/><stop offset="0.619" stop-color="#00ff14"/><stop offset="0.670" stop-color="#00fff3"/><stop offset="0.675" stop-color="#00f6ff"/><stop offset="0.715" stop-color="#0078ff"/><stop offset="0.777" stop-color="#001fff"/><stop offset="1.000" stop-color="#0000ff"/></linearGradient><linearGradient id="ga34" gradientUnits="userSpaceOnUse" x1="52" x2="229.7" y1="0" y2="0"><stop offset="0.000" stop-color="#0000ff"/><stop offset="0.146" stop-color="#0029ff"/><stop offset="0.264" stop-color="#00feff"/><stop offset="0.338" stop-color="#00ff0f"/><stop offset="0.343" stop-color="#04ff00"/><stop offset="0.377" stop-color="#80ff00"/><stop offset="0.405" stop-color="#eeff00"/><stop offset="0.411" stop-color="#fffc00"/><stop offset="0.456" stop-color="#ff6900"/><stop offset="0.478" stop-color="#ff2900"/><stop offset="0.501" stop-color="#ff0800"/><stop offset="0.512" stop-color="#ff0700"/><stop offset="0.535" stop-color="#ff2200"/><stop offset="0.540" stop-color="#ff3000"/><stop offset="0.546" stop-color="#ff4600"/><stop offset="0.568" stop-color="#ffc300"/><stop offset="0.574" stop-color="#ffe400"/><stop offset="0.580" stop-color="#f8ff00"/><stop offset="0.613" stop-color="#0dff00"/><stop offset="0.619" stop-color="#00ff11"/><stop offset="0.670" stop-color="#00fff2"/><stop offset="0.675" stop-color="#00f6ff"/><stop offset="0.715" stop-color="#0078ff"/><stop offset="0.777" stop-color="#001fff"/><stop offset="1.000" stop-color="#0000ff"/></linearGradient><linearGradient id="ga35" gradientUnits="userSpaceOnUse" x1="52" x2="229.7" y1="0" y2="0"><stop offset="0.000" stop-color="#0000ff"/><stop offset="0.146" stop-color="#0029ff"/><stop offset="0.264" stop-color="#00fcff"/><stop offset="0.276" stop-color="#00ffe1"/><stop offset="0.343" stop-color="#00ff09"/><stop offset="0.349" stop-color="#0aff00"/><stop offset="0.366" stop-color="#47ff00"/><stop offset="0.411" stop-color="#faff00"/><stop offset="0.422" stop-color="#ffdc00"/><stop offset="0.461" stop-color="#ff5c00"/><stop offset="0.478" stop-color="#ff2c00"/><stop offset="0.501" stop-color="#ff0a00"/><stop offset="0.512" stop-color="#ff0500"/><stop offset="0.535" stop-color="#ff2100"/><stop offset="0.540" stop-color="#ff2d00"/><stop offset="0.546" stop-color="#ff4000"/><stop offset="0.580" stop-color="#fcff00"/><stop offset="0.613" stop-color="#12ff00"/><stop offset="0.619" stop-color="#00ff0d"/><stop offset="0.670" stop-color="#00fff2"/><stop offset="0.675" stop-color="#00f6ff"/><stop offset="0.715" stop-color="#0078ff"/><stop offset="0.777" stop-color="#001fff"/><stop offset="1.000" stop-color="#0000ff"/></linearGradient><linearGradient id="ga36" gradientUnits="userSpaceOnUse" x1="52" x2="229.7" y1="0" y2="0"><stop offset="0.000" stop-color="#0000ff"/><stop offset="0.146" stop-color="#0029ff"/><stop offset="0.264" stop-color="#00f9ff"/><stop offset="0.270" stop-color="#00fff8"/><stop offset="0.349" stop-color="#00ff04"/><stop offset="0.360" stop-color="#22ff00"/><stop offset="0.411" stop-color="#f3ff00"/><stop offset="0.416" stop-color="#fff500"/><stop offset="0.456" stop-color="#ff7100"/><stop offset="0.478" stop-color="#ff2f00"/><stop offset="0.495" stop-color="#ff1400"/><stop offset="0.512" stop-color="#ff0300"/><stop offset="0.540" stop-color="#ff2900"/><stop offset="0.546" stop-color="#ff3a00"/><stop offset="0.580" stop-color="#fffd00"/><stop offset="0.613" stop-color="#17ff00"/><stop offset="0.619" stop-color="#00ff0a"/><stop offset="0.670" stop-color="#00fff2"/><stop offset="0.675" stop-color="#00f6ff"/><stop offset="0.715" stop-color="#0078ff"/><stop offset="0.777" stop-color="#001fff"/><stop offset="1.000" stop-color="#0000ff"/></linearGradient><linearGradient id="ga37" gradientUnits="userSpaceOnUse" x1="52" x2="229.7" y1="0" y2="0"><stop offset="0.000" stop-color="#0000ff"/><stop offset="0.146" stop-color="#0029ff"/><stop offset="0.270" stop-color="#00fffc"/><stop offset="0.355" stop-color="#00ff01"/><stop offset="0.366" stop-color="#2bff00"/><stop offset="0.411" stop-color="#ebff00"/><stop offset="0.416" stop-color="#fffb00"/><stop offset="0.461" stop-color="#ff6400"/><stop offset="0.484" stop-color="#ff2500"/><stop offset="0.512" stop-color="#ff0200"/><stop offset="0.540" stop-color="#ff2500"/><stop offset="0.546" stop-color="#ff3300"/><stop offset="0.580" stop-color="#fff800"/><stop offset="0.585" stop-color="#e0ff00"/><stop offset="0.613" stop-color="#1cff00"/><stop offset="0.619" stop-color="#00ff07"/><stop offset="0.670" stop-color="#00fff2"/><stop offset="0.675" stop-color="#00f6ff"/><stop offset="0.715" stop-color="#0078ff"/><stop offset="0.777" stop-color="#001fff"/><stop offset="1.000" stop-color="#0000ff"/></linearGradient><linearGradient id="ga38" gradientUnits="userSpaceOnUse" x1="52" x2="229.7" y1="0" y2="0"><stop offset="0.000" stop-color="#0000ff"/><stop offset="0.146" stop-color="#0029ff"/><stop offset="0.270" stop-color="#00fdff"/><stop offset="0.355" stop-color="#00ff0f"/><stop offset="0.360" stop-color="#04ff00"/><stop offset="0.416" stop-color="#f6ff00"/><stop offset="0.422" stop-color="#fff400"/><stop offset="0.461" stop-color="#ff6c00"/><stop offset="0.484" stop-color="#ff2a00"/><stop offset="0.512" stop-color="#ff0100"/><stop offset="0.540" stop-color="#ff2300"/><stop offset="0.546" stop-color="#ff2f00"/><stop offset="0.580" stop-color="#fff200"/><stop offset="0.585" stop-color="#e7ff00"/><stop offset="0.613" stop-color="#21ff00"/><stop offset="0.619" stop-color="#00ff04"/><stop offset="0.670" stop-color="#00fff3"/><stop offset="0.675" stop-color="#00f5ff"/><stop offset="0.709" stop-color="#0086ff"/><stop offset="0.720" stop-color="#006fff"/><stop offset="0.777" stop-color="#001fff"/><stop offset="1.000" stop-color="#0000ff"/></linearGradient><linearGradient id="ga39" gradientUnits="userSpaceOnUse" x1="52" x2="229.7" y1="0" y2="0"><stop offset="0.000" stop-color="#0000ff"/><stop offset="0.146" stop-color="#0028ff"/><stop offset="0.180" stop-color="#005cff"/><stop offset="0.270" stop-color="#00f6ff"/><stop offset="0.276" stop-color="#00fffa"/><stop offset="0.343" stop-color="#00ff3e"/><stop offset="0.360" stop-color="#00ff0b"/><stop offset="0.366" stop-color="#0bff00"/><stop offset="0.400" stop-color="#95ff00"/><stop offset="0.422" stop-color="#f3ff00"/><stop offset="0.428" stop-color="#fff600"/><stop offset="0.461" stop-color="#ff7c00"/><stop offset="0.484" stop-color="#ff3400"/><stop offset="0.506" stop-color="#ff0c00"/><stop offset="0.512" stop-color="#ff0400"/><stop offset="0.529" stop-color="#ff1300"/><stop offset="0.546" stop-color="#ff2c00"/><stop offset="0.557" stop-color="#ff6800"/><stop offset="0.580" stop-color="#ffea00"/><stop offset="0.585" stop-color="#f0ff00"/><stop offset="0.619" stop-color="#01ff00"/><stop offset="0.670" stop-color="#00fff6"/><stop offset="0.675" stop-color="#00f3ff"/><stop offset="0.709" stop-color="#0084ff"/><stop offset="0.720" stop-color="#006eff"/><stop offset="0.777" stop-color="#001fff"/><stop offset="1.000" stop-color="#0000ff"/></linearGradient><linearGradient id="ga40" gradientUnits="userSpaceOnUse" x1="52" x2="229.7" y1="0" y2="0"><stop offset="0.000" stop-color="#0000ff"/><stop offset="0.146" stop-color="#0027ff"/><stop offset="0.169" stop-color="#0044ff"/><stop offset="0.270" stop-color="#00efff"/><stop offset="0.276" stop-color="#00fcff"/><stop offset="0.298" stop-color="#00ffcb"/><stop offset="0.360" stop-color="#00ff1b"/><stop offset="0.366" stop-color="#00ff06"/><stop offset="0.377" stop-color="#22ff00"/><stop offset="0.394" stop-color="#65ff00"/><stop offset="0.422" stop-color="#dcff00"/><stop offset="0.428" stop-color="#f2ff00"/><stop offset="0.433" stop-color="#fff600"/><stop offset="0.478" stop-color="#ff5000"/><stop offset="0.495" stop-color="#ff2200"/><stop offset="0.512" stop-color="#ff0600"/><stop offset="0.523" stop-color="#ff0a00"/><stop offset="0.546" stop-color="#ff2900"/><stop offset="0.551" stop-color="#ff4000"/><stop offset="0.580" stop-color="#ffe200"/><stop offset="0.585" stop-color="#f8ff00"/><stop offset="0.619" stop-color="#05ff00"/><stop offset="0.630" stop-color="#00ff35"/><stop offset="0.670" stop-color="#00fff8"/><stop offset="0.675" stop-color="#00f1ff"/><stop offset="0.709" stop-color="#0082ff"/><stop offset="0.720" stop-color="#006dff"/><stop offset="0.777" stop-color="#001eff"/><stop offset="1.000" stop-color="#0000ff"/></linearGradient><linearGradient id="ga41" gradientUnits="userSpaceOnUse" x1="52" x2="229.7" y1="0" y2="0"><stop offset="0.000" stop-color="#0000ff"/><stop offset="0.152" stop-color="#002bff"/><stop offset="0.169" stop-color="#003fff"/><stop offset="0.276" stop-color="#00f4ff"/><stop offset="0.281" stop-color="#00fffe"/><stop offset="0.298" stop-color="#00ffd7"/><stop offset="0.360" stop-color="#00ff2a"/><stop offset="0.371" stop-color="#00ff05"/><stop offset="0.383" stop-color="#21ff00"/><stop offset="0.394" stop-color="#4dff00"/><stop offset="0.428" stop-color="#dcff00"/><stop offset="0.433" stop-color="#f3ff00"/><stop offset="0.439" stop-color="#fff400"/><stop offset="0.484" stop-color="#ff4800"/><stop offset="0.495" stop-color="#ff2600"/><stop offset="0.512" stop-color="#ff0800"/><stop offset="0.518" stop-color="#ff0400"/><stop offset="0.546" stop-color="#ff2700"/><stop offset="0.551" stop-color="#ff3800"/><stop offset="0.585" stop-color="#fffd00"/><stop offset="0.597" stop-color="#b1ff00"/><stop offset="0.619" stop-color="#09ff00"/><stop offset="0.625" stop-color="#00ff17"/><stop offset="0.670" stop-color="#00fffb"/><stop offset="0.692" stop-color="#00b7ff"/><stop offset="0.709" stop-color="#0080ff"/><stop offset="0.737" stop-color="#0053ff"/><stop offset="0.771" stop-color="#0022ff"/><stop offset="0.850" stop-color="#0014ff"/><stop offset="1.000" stop-color="#0000ff"/></linearGradient><linearGradient id="ga42" gradientUnits="userSpaceOnUse" x1="52" x2="229.7" y1="0" y2="0"><stop offset="0.000" stop-color="#0000ff"/><stop offset="0.152" stop-color="#0029ff"/><stop offset="0.163" stop-color="#0031ff"/><stop offset="0.287" stop-color="#00fffd"/><stop offset="0.298" stop-color="#00ffe3"/><stop offset="0.371" stop-color="#00ff18"/><stop offset="0.377" stop-color="#00ff07"/><stop offset="0.383" stop-color="#0aff00"/><stop offset="0.394" stop-color="#35ff00"/><stop offset="0.439" stop-color="#f6ff00"/><stop offset="0.445" stop-color="#fff100"/><stop offset="0.484" stop-color="#ff5200"/><stop offset="0.495" stop-color="#ff2b00"/><stop offset="0.518" stop-color="#ff0300"/><stop offset="0.546" stop-color="#ff2400"/><stop offset="0.551" stop-color="#ff3100"/><stop offset="0.585" stop-color="#fff400"/><stop offset="0.591" stop-color="#e4ff00"/><stop offset="0.619" stop-color="#0dff00"/><stop offset="0.625" stop-color="#00ff15"/><stop offset="0.670" stop-color="#00fffe"/><stop offset="0.709" stop-color="#007dff"/><stop offset="0.771" stop-color="#0020ff"/><stop offset="1.000" stop-color="#0000ff"/></linearGradient><linearGradient id="ga43" gradientUnits="userSpaceOnUse" x1="52" x2="229.7" y1="0" y2="0"><stop offset="0.000" stop-color="#0000ff"/><stop offset="0.163" stop-color="#002cff"/><stop offset="0.293" stop-color="#00ffff"/><stop offset="0.383" stop-color="#00ff0c"/><stop offset="0.388" stop-color="#05ff00"/><stop offset="0.445" stop-color="#faff00"/><stop offset="0.456" stop-color="#ffd300"/><stop offset="0.484" stop-color="#ff5c00"/><stop offset="0.495" stop-color="#ff2f00"/><stop offset="0.518" stop-color="#ff0200"/><stop offset="0.551" stop-color="#ff2a00"/><stop offset="0.585" stop-color="#ffeb00"/><stop offset="0.591" stop-color="#edff00"/><stop offset="0.619" stop-color="#12ff00"/><stop offset="0.625" stop-color="#00ff12"/><stop offset="0.670" stop-color="#00fdff"/><stop offset="0.709" stop-color="#007bff"/><stop offset="0.771" stop-color="#001fff"/><stop offset="1.000" stop-color="#0000ff"/></linearGradient><linearGradient id="ga44" gradientUnits="userSpaceOnUse" x1="52" x2="229.7" y1="0" y2="0"><stop offset="0.000" stop-color="#0000ff"/><stop offset="0.163" stop-color="#002cff"/><stop offset="0.293" stop-color="#00ffff"/><stop offset="0.383" stop-color="#00ff05"/><stop offset="0.388" stop-color="#0dff00"/><stop offset="0.445" stop-color="#ffff00"/><stop offset="0.495" stop-color="#ff2f00"/><stop offset="0.518" stop-color="#ff0300"/><stop offset="0.529" stop-color="#ff0c00"/><stop offset="0.551" stop-color="#ff2a00"/><stop offset="0.585" stop-color="#ffeb00"/><stop offset="0.591" stop-color="#edff00"/><stop offset="0.619" stop-color="#12ff00"/><stop offset="0.625" stop-color="#00ff12"/><stop offset="0.664" stop-color="#00ffe8"/><stop offset="0.670" stop-color="#00fbff"/><stop offset="0.709" stop-color="#0079ff"/><stop offset="0.771" stop-color="#001eff"/><stop offset="1.000" stop-color="#0000ff"/></linearGradient><linearGradient id="ga45" gradientUnits="userSpaceOnUse" x1="52" x2="229.7" y1="0" y2="0"><stop offset="0.000" stop-color="#0000ff"/><stop offset="0.163" stop-color="#002bff"/><stop offset="0.219" stop-color="#0085ff"/><stop offset="0.293" stop-color="#00ffff"/><stop offset="0.383" stop-color="#02ff00"/><stop offset="0.394" stop-color="#2dff00"/><stop offset="0.439" stop-color="#ecff00"/><stop offset="0.445" stop-color="#fffb00"/><stop offset="0.495" stop-color="#ff2f00"/><stop offset="0.518" stop-color="#ff0400"/><stop offset="0.523" stop-color="#ff0400"/><stop offset="0.551" stop-color="#ff2a00"/><stop offset="0.585" stop-color="#ffeb00"/><stop offset="0.591" stop-color="#edff00"/><stop offset="0.619" stop-color="#12ff00"/><stop offset="0.625" stop-color="#00ff13"/><stop offset="0.664" stop-color="#00ffec"/><stop offset="0.670" stop-color="#00f8ff"/><stop offset="0.703" stop-color="#0086ff"/><stop offset="0.715" stop-color="#006fff"/><stop offset="0.771" stop-color="#001eff"/><stop offset="1.000" stop-color="#0000ff"/></linearGradient><linearGradient id="ga46" gradientUnits="userSpaceOnUse" x1="52" x2="229.7" y1="0" y2="0"><stop offset="0.000" stop-color="#0000ff"/><stop offset="0.163" stop-color="#002aff"/><stop offset="0.180" stop-color="#0041ff"/><stop offset="0.293" stop-color="#00ffff"/><stop offset="0.377" stop-color="#00ff0b"/><stop offset="0.383" stop-color="#09ff00"/><stop offset="0.416" stop-color="#93ff00"/><stop offset="0.439" stop-color="#f2ff00"/><stop offset="0.445" stop-color="#fff600"/><stop offset="0.495" stop-color="#ff2f00"/><stop offset="0.518" stop-color="#ff0500"/><stop offset="0.523" stop-color="#ff0300"/><stop offset="0.551" stop-color="#ff2a00"/><stop offset="0.585" stop-color="#ffeb00"/><stop offset="0.591" stop-color="#edff00"/><stop offset="0.619" stop-color="#12ff00"/><stop offset="0.625" stop-color="#00ff13"/><stop offset="0.664" stop-color="#00ffef"/><stop offset="0.670" stop-color="#00f5ff"/><stop offset="0.703" stop-color="#0083ff"/><stop offset="0.720" stop-color="#0065ff"/><stop offset="0.771" stop-color="#001eff"/><stop offset="1.000" stop-color="#0000ff"/></linearGradient><linearGradient id="ga47" gradientUnits="userSpaceOnUse" x1="52" x2="229.7" y1="0" y2="0"><stop offset="0.000" stop-color="#0000ff"/><stop offset="0.169" stop-color="#002cff"/><stop offset="0.293" stop-color="#00ffff"/><stop offset="0.377" stop-color="#00ff05"/><stop offset="0.388" stop-color="#25ff00"/><stop offset="0.439" stop-color="#f7ff00"/><stop offset="0.445" stop-color="#fff100"/><stop offset="0.495" stop-color="#ff2f00"/><stop offset="0.518" stop-color="#ff0600"/><stop offset="0.523" stop-color="#ff0200"/><stop offset="0.551" stop-color="#ff2a00"/><stop offset="0.585" stop-color="#ffeb00"/><stop offset="0.591" stop-color="#edff00"/><stop offset="0.619" stop-color="#12ff00"/><stop offset="0.625" stop-color="#00ff13"/><stop offset="0.664" stop-color="#00fff3"/><stop offset="0.670" stop-color="#00f3ff"/><stop offset="0.703" stop-color="#007fff"/><stop offset="0.765" stop-color="#0021ff"/><stop offset="1.000" stop-color="#0000ff"/></linearGradient><linearGradient id="ga48" gradientUnits="userSpaceOnUse" x1="52" x2="229.7" y1="0" y2="0"><stop offset="0.000" stop-color="#0000ff"/><stop offset="0.169" stop-color="#002aff"/><stop offset="0.293" stop-color="#00ffff"/><stop offset="0.377" stop-color="#00ff00"/><stop offset="0.439" stop-color="#fdff00"/><stop offset="0.478" stop-color="#ff7200"/><stop offset="0.495" stop-color="#ff2f00"/><stop offset="0.523" stop-color="#ff0100"/><stop offset="0.551" stop-color="#ff2a00"/><stop offset="0.585" stop-color="#ffeb00"/><stop offset="0.591" stop-color="#edff00"/><stop offset="0.619" stop-color="#12ff00"/><stop offset="0.625" stop-color="#00ff14"/><stop offset="0.664" stop-color="#00fff7"/><stop offset="0.670" stop-color="#00f0ff"/><stop offset="0.703" stop-color="#007cff"/><stop offset="0.765" stop-color="#0020ff"/><stop offset="1.000" stop-color="#0000ff"/></linearGradient><linearGradient id="ga49" gradientUnits="userSpaceOnUse" x1="52" x2="229.7" y1="0" y2="0"><stop offset="0.000" stop-color="#0000ff"/><stop offset="0.169" stop-color="#0029ff"/><stop offset="0.293" stop-color="#00fdff"/><stop offset="0.332" stop-color="#00ff8d"/><stop offset="0.377" stop-color="#00ff04"/><stop offset="0.394" stop-color="#3fff00"/><stop offset="0.439" stop-color="#f8ff00"/><stop offset="0.445" stop-color="#fff200"/><stop offset="0.484" stop-color="#ff5f00"/><stop offset="0.495" stop-color="#ff3200"/><stop offset="0.506" stop-color="#ff1a00"/><stop offset="0.523" stop-color="#ff0100"/><stop offset="0.551" stop-color="#ff2a00"/><stop offset="0.585" stop-color="#ffeb00"/><stop offset="0.591" stop-color="#edff00"/><stop offset="0.619" stop-color="#0fff00"/><stop offset="0.625" stop-color="#00ff16"/><stop offset="0.664" stop-color="#00fffa"/><stop offset="0.675" stop-color="#00daff"/><stop offset="0.703" stop-color="#007aff"/><stop offset="0.765" stop-color="#001fff"/><stop offset="1.000" stop-color="#0000ff"/></linearGradient><linearGradient id="ga50" gradientUnits="userSpaceOnUse" x1="52" x2="229.7" y1="0" y2="0"><stop offset="0.000" stop-color="#0000ff"/><stop offset="0.169" stop-color="#0029ff"/><stop offset="0.293" stop-color="#00f8ff"/><stop offset="0.298" stop-color="#00fff7"/><stop offset="0.355" stop-color="#00ff52"/><stop offset="0.377" stop-color="#00ff0e"/><stop offset="0.383" stop-color="#07ff00"/><stop offset="0.411" stop-color="#77ff00"/><stop offset="0.439" stop-color="#ecff00"/><stop offset="0.445" stop-color="#fffc00"/><stop offset="0.484" stop-color="#ff6400"/><stop offset="0.495" stop-color="#ff3500"/><stop offset="0.501" stop-color="#ff2500"/><stop offset="0.523" stop-color="#ff0200"/><stop offset="0.551" stop-color="#ff2a00"/><stop offset="0.574" stop-color="#ffa800"/><stop offset="0.585" stop-color="#ffeb00"/><stop offset="0.591" stop-color="#edff00"/><stop offset="0.619" stop-color="#0aff00"/><stop offset="0.625" stop-color="#00ff1a"/><stop offset="0.664" stop-color="#00fffd"/><stop offset="0.698" stop-color="#0088ff"/><stop offset="0.703" stop-color="#0078ff"/><stop offset="0.760" stop-color="#0024ff"/><stop offset="0.782" stop-color="#001cff"/><stop offset="1.000" stop-color="#0000ff"/></linearGradient><linearGradient id="ga51" gradientUnits="userSpaceOnUse" x1="52" x2="229.7" y1="0" y2="0"><stop offset="0.000" stop-color="#0000ff"/><stop offset="0.169" stop-color="#0028ff"/><stop offset="0.219" stop-color="#0079ff"/><stop offset="0.298" stop-color="#00fffd"/><stop offset="0.321" stop-color="#00ffbf"/><stop offset="0.383" stop-color="#00ff04"/><stop offset="0.394" stop-color="#24ff00"/><stop offset="0.445" stop-color="#f7ff00"/><stop offset="0.450" stop-color="#fff100"/><stop offset="0.495" stop-color="#ff3900"/><stop offset="0.501" stop-color="#ff2600"/><stop offset="0.523" stop-color="#ff0300"/><stop offset="0.540" stop-color="#ff1800"/><stop offset="0.551" stop-color="#ff2a00"/><stop offset="0.574" stop-color="#ffa700"/><stop offset="0.585" stop-color="#ffeb00"/><stop offset="0.591" stop-color="#ecff00"/><stop offset="0.619" stop-color="#06ff00"/><stop offset="0.630" stop-color="#00ff3e"/><stop offset="0.664" stop-color="#00feff"/><stop offset="0.698" stop-color="#0085ff"/><stop offset="0.703" stop-color="#0076ff"/><stop offset="0.765" stop-color="#001eff"/><stop offset="1.000" stop-color="#0000ff"/></linearGradient><linearGradient id="ga52" gradientUnits="userSpaceOnUse" x1="52" x2="229.7" y1="0" y2="0"><stop offset="0.000" stop-color="#0000ff"/><stop offset="0.174" stop-color="#002cff"/><stop offset="0.298" stop-color="#00fbff"/><stop offset="0.310" stop-color="#00ffe9"/><stop offset="0.383" stop-color="#00ff0f"/><stop offset="0.388" stop-color="#04ff00"/><stop offset="0.400" stop-color="#2eff00"/><stop offset="0.445" stop-color="#edff00"/><stop offset="0.450" stop-color="#fffa00"/><stop offset="0.490" stop-color="#ff5600"/><stop offset="0.501" stop-color="#ff2700"/><stop offset="0.523" stop-color="#ff0300"/><stop offset="0.535" stop-color="#ff0f00"/><stop offset="0.551" stop-color="#ff2a00"/><stop offset="0.568" stop-color="#ff8300"/><stop offset="0.585" stop-color="#ffea00"/><stop offset="0.591" stop-color="#ecff00"/><stop offset="0.619" stop-color="#01ff00"/><stop offset="0.658" stop-color="#00ffe5"/><stop offset="0.664" stop-color="#00fcff"/><stop offset="0.698" stop-color="#0081ff"/><stop offset="0.732" stop-color="#004bff"/><stop offset="0.760" stop-color="#0021ff"/><stop offset="1.000" stop-color="#0000ff"/></linearGradient><linearGradient id="ga53" gradientUnits="userSpaceOnUse" x1="52" x2="229.7" y1="0" y2="0"><stop offset="0.000" stop-color="#0000ff"/><stop offset="0.174" stop-color="#002bff"/><stop offset="0.304" stop-color="#00fffe"/><stop offset="0.349" stop-color="#00ff7e"/><stop offset="0.388" stop-color="#00ff09"/><stop offset="0.394" stop-color="#09ff00"/><stop offset="0.450" stop-color="#faff00"/><stop offset="0.461" stop-color="#ffd400"/><stop offset="0.501" stop-color="#ff2800"/><stop offset="0.523" stop-color="#ff0400"/><stop offset="0.529" stop-color="#ff0500"/><stop offset="0.551" stop-color="#ff2a00"/><stop offset="0.568" stop-color="#ff8100"/><stop offset="0.585" stop-color="#ffea00"/><stop offset="0.591" stop-color="#ecff00"/><stop offset="0.613" stop-color="#2aff00"/><stop offset="0.619" stop-color="#00ff03"/><stop offset="0.658" stop-color="#00ffe9"/><stop offset="0.664" stop-color="#00f9ff"/><stop offset="0.698" stop-color="#007eff"/><stop offset="0.760" stop-color="#0020ff"/><stop offset="1.000" stop-color="#0000ff"/></linearGradient><linearGradient id="ga54" gradientUnits="userSpaceOnUse" x1="52" x2="229.7" y1="0" y2="0"><stop offset="0.000" stop-color="#0000ff"/><stop offset="0.174" stop-color="#0029ff"/><stop offset="0.304" stop-color="#00faff"/><stop offset="0.310" stop-color="#00fff8"/><stop offset="0.394" stop-color="#00ff02"/><stop offset="0.450" stop-color="#f1ff00"/><stop offset="0.456" stop-color="#fff400"/><stop offset="0.501" stop-color="#ff2c00"/><stop offset="0.523" stop-color="#ff0500"/><stop offset="0.529" stop-color="#ff0400"/><stop offset="0.551" stop-color="#ff2900"/><stop offset="0.568" stop-color="#ff7c00"/><stop offset="0.585" stop-color="#ffe900"/><stop offset="0.591" stop-color="#ebff00"/><stop offset="0.613" stop-color="#27ff00"/><stop offset="0.619" stop-color="#00ff07"/><stop offset="0.658" stop-color="#00ffec"/><stop offset="0.664" stop-color="#00f6ff"/><stop offset="0.698" stop-color="#007bff"/><stop offset="0.760" stop-color="#001fff"/><stop offset="1.000" stop-color="#0000ff"/></linearGradient><linearGradient id="ga55" gradientUnits="userSpaceOnUse" x1="52" x2="229.7" y1="0" y2="0"><stop offset="0.000" stop-color="#0000ff"/><stop offset="0.174" stop-color="#0029ff"/><stop offset="0.304" stop-color="#00f8ff"/><stop offset="0.310" stop-color="#00fffa"/><stop offset="0.394" stop-color="#00ff02"/><stop offset="0.450" stop-color="#ecff00"/><stop offset="0.456" stop-color="#fffa00"/><stop offset="0.495" stop-color="#ff5200"/><stop offset="0.501" stop-color="#ff3500"/><stop offset="0.506" stop-color="#ff2200"/><stop offset="0.523" stop-color="#ff0600"/><stop offset="0.529" stop-color="#ff0400"/><stop offset="0.551" stop-color="#ff2600"/><stop offset="0.568" stop-color="#ff6f00"/><stop offset="0.585" stop-color="#ffe600"/><stop offset="0.591" stop-color="#ebff00"/><stop offset="0.613" stop-color="#27ff00"/><stop offset="0.619" stop-color="#00ff07"/><stop offset="0.658" stop-color="#00fff0"/><stop offset="0.664" stop-color="#00f4ff"/><stop offset="0.692" stop-color="#008aff"/><stop offset="0.698" stop-color="#0079ff"/><stop offset="0.760" stop-color="#001eff"/><stop offset="1.000" stop-color="#0000ff"/></linearGradient><linearGradient id="ga56" gradientUnits="userSpaceOnUse" x1="52" x2="229.7" y1="0" y2="0"><stop offset="0.000" stop-color="#0000ff"/><stop offset="0.174" stop-color="#0028ff"/><stop offset="0.197" stop-color="#0048ff"/><stop offset="0.310" stop-color="#00fffd"/><stop offset="0.394" stop-color="#00ff02"/><stop offset="0.456" stop-color="#ffff00"/><stop offset="0.495" stop-color="#ff5f00"/><stop offset="0.501" stop-color="#ff3e00"/><stop offset="0.506" stop-color="#ff2400"/><stop offset="0.523" stop-color="#ff0800"/><stop offset="0.529" stop-color="#ff0300"/><stop offset="0.551" stop-color="#ff2200"/><stop offset="0.568" stop-color="#ff6100"/><stop offset="0.585" stop-color="#ffe300"/><stop offset="0.591" stop-color="#ebff00"/><stop offset="0.613" stop-color="#27ff00"/><stop offset="0.619" stop-color="#00ff07"/><stop offset="0.658" stop-color="#00fff4"/><stop offset="0.664" stop-color="#00f1ff"/><stop offset="0.692" stop-color="#0087ff"/><stop offset="0.698" stop-color="#0077ff"/><stop offset="0.760" stop-color="#001eff"/><stop offset="1.000" stop-color="#0000ff"/></linearGradient><linearGradient id="ga57" gradientUnits="userSpaceOnUse" x1="52" x2="229.7" y1="0" y2="0"><stop offset="0.000" stop-color="#0000ff"/><stop offset="0.174" stop-color="#0028ff"/><stop offset="0.191" stop-color="#003cff"/><stop offset="0.310" stop-color="#00feff"/><stop offset="0.321" stop-color="#00ffe2"/><stop offset="0.394" stop-color="#00ff02"/><stop offset="0.456" stop-color="#f9ff00"/><stop offset="0.467" stop-color="#ffd900"/><stop offset="0.495" stop-color="#ff6b00"/><stop offset="0.506" stop-color="#ff2600"/><stop offset="0.529" stop-color="#ff0300"/><stop offset="0.551" stop-color="#ff1f00"/><stop offset="0.563" stop-color="#ff3d00"/><stop offset="0.568" stop-color="#ff5400"/><stop offset="0.580" stop-color="#ffae00"/><stop offset="0.585" stop-color="#ffe100"/><stop offset="0.591" stop-color="#ebff00"/><stop offset="0.613" stop-color="#27ff00"/><stop offset="0.619" stop-color="#00ff07"/><stop offset="0.658" stop-color="#00fff7"/><stop offset="0.664" stop-color="#00eeff"/><stop offset="0.692" stop-color="#0083ff"/><stop offset="0.709" stop-color="#0065ff"/><stop offset="0.754" stop-color="#0022ff"/><stop offset="0.822" stop-color="#0016ff"/><stop offset="1.000" stop-color="#0000ff"/></linearGradient><linearGradient id="ga58" gradientUnits="userSpaceOnUse" x1="52" x2="229.7" y1="0" y2="0"><stop offset="0.000" stop-color="#0000ff"/><stop offset="0.180" stop-color="#002aff"/><stop offset="0.287" stop-color="#00d5ff"/><stop offset="0.310" stop-color="#00fbff"/><stop offset="0.315" stop-color="#00fff7"/><stop offset="0.394" stop-color="#00ff02"/><stop offset="0.456" stop-color="#f4ff00"/><stop offset="0.461" stop-color="#fff400"/><stop offset="0.495" stop-color="#ff7800"/><stop offset="0.506" stop-color="#ff2900"/><stop offset="0.529" stop-color="#ff0200"/><stop offset="0.557" stop-color="#ff2600"/><stop offset="0.563" stop-color="#ff3100"/><stop offset="0.568" stop-color="#ff4600"/><stop offset="0.580" stop-color="#ffa600"/><stop offset="0.585" stop-color="#ffde00"/><stop offset="0.591" stop-color="#ebff00"/><stop offset="0.613" stop-color="#27ff00"/><stop offset="0.619" stop-color="#00ff07"/><stop offset="0.658" stop-color="#00fffb"/><stop offset="0.681" stop-color="#00aaff"/><stop offset="0.692" stop-color="#007fff"/><stop offset="0.754" stop-color="#0021ff"/><stop offset="1.000" stop-color="#0000ff"/></linearGradient><linearGradient id="ga59" gradientUnits="userSpaceOnUse" x1="52" x2="229.7" y1="0" y2="0"><stop offset="0.000" stop-color="#0000ff"/><stop offset="0.180" stop-color="#0028ff"/><stop offset="0.293" stop-color="#00dcff"/><stop offset="0.315" stop-color="#00fffb"/><stop offset="0.394" stop-color="#00ff02"/><stop offset="0.456" stop-color="#eeff00"/><stop offset="0.461" stop-color="#fffa00"/><stop offset="0.495" stop-color="#ff8400"/><stop offset="0.501" stop-color="#ff5b00"/><stop offset="0.506" stop-color="#ff2b00"/><stop offset="0.529" stop-color="#ff0200"/><stop offset="0.563" stop-color="#ff2600"/><stop offset="0.568" stop-color="#ff3900"/><stop offset="0.580" stop-color="#ff9f00"/><stop offset="0.585" stop-color="#ffdb00"/><stop offset="0.591" stop-color="#ebff00"/><stop offset="0.613" stop-color="#27ff00"/><stop offset="0.619" stop-color="#00ff07"/><stop offset="0.658" stop-color="#00fffe"/><stop offset="0.692" stop-color="#007bff"/><stop offset="0.754" stop-color="#001fff"/><stop offset="1.000" stop-color="#0000ff"/></linearGradient><linearGradient id="ga60" gradientUnits="userSpaceOnUse" x1="52" x2="229.7" y1="0" y2="0"><stop offset="0.000" stop-color="#0000ff"/><stop offset="0.186" stop-color="#002cff"/><stop offset="0.315" stop-color="#00ffff"/><stop offset="0.360" stop-color="#00ff73"/><stop offset="0.394" stop-color="#00ff06"/><stop offset="0.400" stop-color="#0fff00"/><stop offset="0.461" stop-color="#feff00"/><stop offset="0.495" stop-color="#ff8600"/><stop offset="0.506" stop-color="#ff3000"/><stop offset="0.518" stop-color="#ff1700"/><stop offset="0.529" stop-color="#ff0300"/><stop offset="0.540" stop-color="#ff0b00"/><stop offset="0.563" stop-color="#ff2400"/><stop offset="0.568" stop-color="#ff3500"/><stop offset="0.580" stop-color="#ff9700"/><stop offset="0.585" stop-color="#ffd300"/><stop offset="0.591" stop-color="#f1ff00"/><stop offset="0.613" stop-color="#28ff00"/><stop offset="0.619" stop-color="#00ff07"/><stop offset="0.653" stop-color="#00ffdf"/><stop offset="0.658" stop-color="#00fdff"/><stop offset="0.692" stop-color="#0079ff"/><stop offset="0.754" stop-color="#001fff"/><stop offset="1.000" stop-color="#0000ff"/></linearGradient><linearGradient id="ga61" gradientUnits="userSpaceOnUse" x1="52" x2="229.7" y1="0" y2="0"><stop offset="0.000" stop-color="#0000ff"/><stop offset="0.186" stop-color="#002bff"/><stop offset="0.315" stop-color="#00faff"/><stop offset="0.326" stop-color="#00ffe7"/><stop offset="0.394" stop-color="#00ff0b"/><stop offset="0.400" stop-color="#0aff00"/><stop offset="0.461" stop-color="#f9ff00"/><stop offset="0.473" stop-color="#ffdb00"/><stop offset="0.495" stop-color="#ff8600"/><stop offset="0.506" stop-color="#ff3500"/><stop offset="0.512" stop-color="#ff2300"/><stop offset="0.529" stop-color="#ff0400"/><stop offset="0.540" stop-color="#ff0a00"/><stop offset="0.563" stop-color="#ff2400"/><stop offset="0.568" stop-color="#ff3200"/><stop offset="0.580" stop-color="#ff8f00"/><stop offset="0.585" stop-color="#ffcb00"/><stop offset="0.591" stop-color="#f7ff00"/><stop offset="0.613" stop-color="#29ff00"/><stop offset="0.619" stop-color="#00ff07"/><stop offset="0.653" stop-color="#00ffe4"/><stop offset="0.658" stop-color="#00f9ff"/><stop offset="0.687" stop-color="#0089ff"/><stop offset="0.692" stop-color="#0078ff"/><stop offset="0.748" stop-color="#0024ff"/><stop offset="0.771" stop-color="#001cff"/><stop offset="1.000" stop-color="#0000ff"/></linearGradient><linearGradient id="ga62" gradientUnits="userSpaceOnUse" x1="52" x2="229.7" y1="0" y2="0"><stop offset="0.000" stop-color="#0000ff"/><stop offset="0.186" stop-color="#002aff"/><stop offset="0.321" stop-color="#00fffc"/><stop offset="0.332" stop-color="#00ffde"/><stop offset="0.394" stop-color="#00ff10"/><stop offset="0.400" stop-color="#05ff00"/><stop offset="0.461" stop-color="#f4ff00"/><stop offset="0.467" stop-color="#fff500"/><stop offset="0.495" stop-color="#ff8600"/><stop offset="0.506" stop-color="#ff3b00"/><stop offset="0.512" stop-color="#ff2500"/><stop offset="0.529" stop-color="#ff0500"/><stop offset="0.535" stop-color="#ff0300"/><stop offset="0.563" stop-color="#ff2300"/><stop offset="0.568" stop-color="#ff3000"/><stop offset="0.580" stop-color="#ff8800"/><stop offset="0.591" stop-color="#fdff00"/><stop offset="0.613" stop-color="#2aff00"/><stop offset="0.619" stop-color="#00ff07"/><stop offset="0.653" stop-color="#00ffe8"/><stop offset="0.658" stop-color="#00f6ff"/><stop offset="0.687" stop-color="#0085ff"/><stop offset="0.692" stop-color="#0076ff"/><stop offset="0.748" stop-color="#0022ff"/><stop offset="0.810" stop-color="#0017ff"/><stop offset="1.000" stop-color="#0000ff"/></linearGradient><linearGradient id="ga63" gradientUnits="userSpaceOnUse" x1="52" x2="229.7" y1="0" y2="0"><stop offset="0.000" stop-color="#0000ff"/><stop offset="0.186" stop-color="#0029ff"/><stop offset="0.214" stop-color="#0051ff"/><stop offset="0.321" stop-color="#00fcff"/><stop offset="0.326" stop-color="#00fff7"/><stop offset="0.400" stop-color="#00ff00"/><stop offset="0.461" stop-color="#efff00"/><stop offset="0.467" stop-color="#fffa00"/><stop offset="0.495" stop-color="#ff8600"/><stop offset="0.506" stop-color="#ff4100"/><stop offset="0.512" stop-color="#ff2700"/><stop offset="0.529" stop-color="#ff0700"/><stop offset="0.535" stop-color="#ff0200"/><stop offset="0.568" stop-color="#ff2d00"/><stop offset="0.580" stop-color="#ff8000"/><stop offset="0.591" stop-color="#fffb00"/><stop offset="0.613" stop-color="#2bff00"/><stop offset="0.619" stop-color="#00ff08"/><stop offset="0.653" stop-color="#00ffed"/><stop offset="0.658" stop-color="#00f3ff"/><stop offset="0.687" stop-color="#0081ff"/><stop offset="0.698" stop-color="#006cff"/><stop offset="0.748" stop-color="#0021ff"/><stop offset="1.000" stop-color="#0000ff"/></linearGradient><linearGradient id="ga64" gradientUnits="userSpaceOnUse" x1="52" x2="229.7" y1="0" y2="0"><stop offset="0.000" stop-color="#0000ff"/><stop offset="0.191" stop-color="#002cff"/><stop offset="0.326" stop-color="#00ffff"/><stop offset="0.371" stop-color="#00ff67"/><stop offset="0.400" stop-color="#00ff05"/><stop offset="0.411" stop-color="#26ff00"/><stop offset="0.467" stop-color="#ffff00"/><stop offset="0.495" stop-color="#ff8700"/><stop offset="0.512" stop-color="#ff2800"/><stop offset="0.529" stop-color="#ff0800"/><stop offset="0.535" stop-color="#ff0200"/><stop offset="0.568" stop-color="#ff2b00"/><stop offset="0.580" stop-color="#ff7800"/><stop offset="0.585" stop-color="#ffb300"/><stop offset="0.591" stop-color="#fff500"/><stop offset="0.597" stop-color="#d0ff00"/><stop offset="0.613" stop-color="#2cff00"/><stop offset="0.619" stop-color="#00ff08"/><stop offset="0.653" stop-color="#00fff1"/><stop offset="0.658" stop-color="#00f0ff"/><stop offset="0.687" stop-color="#007dff"/><stop offset="0.748" stop-color="#001fff"/><stop offset="1.000" stop-color="#0000ff"/></linearGradient><linearGradient id="ga65" gradientUnits="userSpaceOnUse" x1="52" x2="229.7" y1="0" y2="0"><stop offset="0.000" stop-color="#0000ff"/><stop offset="0.191" stop-color="#002aff"/><stop offset="0.326" stop-color="#00fbff"/><stop offset="0.332" stop-color="#00fff5"/><stop offset="0.400" stop-color="#00ff0a"/><stop offset="0.405" stop-color="#0bff00"/><stop offset="0.467" stop-color="#faff00"/><stop offset="0.478" stop-color="#ffd300"/><stop offset="0.495" stop-color="#ff8700"/><stop offset="0.512" stop-color="#ff2900"/><stop offset="0.535" stop-color="#ff0100"/><stop offset="0.568" stop-color="#ff2900"/><stop offset="0.580" stop-color="#ff6d00"/><stop offset="0.585" stop-color="#ffa700"/><stop offset="0.591" stop-color="#ffea00"/><stop offset="0.597" stop-color="#daff00"/><stop offset="0.613" stop-color="#31ff00"/><stop offset="0.619" stop-color="#00ff05"/><stop offset="0.653" stop-color="#00fff3"/><stop offset="0.658" stop-color="#00efff"/><stop offset="0.687" stop-color="#007bff"/><stop offset="0.748" stop-color="#001fff"/><stop offset="1.000" stop-color="#0000ff"/></linearGradient><linearGradient id="ga66" gradientUnits="userSpaceOnUse" x1="52" x2="229.7" y1="0" y2="0"><stop offset="0.000" stop-color="#0000ff"/><stop offset="0.191" stop-color="#002aff"/><stop offset="0.326" stop-color="#00f9ff"/><stop offset="0.332" stop-color="#00fff8"/><stop offset="0.400" stop-color="#00ff0f"/><stop offset="0.405" stop-color="#06ff00"/><stop offset="0.467" stop-color="#f5ff00"/><stop offset="0.473" stop-color="#fff200"/><stop offset="0.495" stop-color="#ff8800"/><stop offset="0.512" stop-color="#ff2900"/><stop offset="0.535" stop-color="#ff0100"/><stop offset="0.568" stop-color="#ff2700"/><stop offset="0.580" stop-color="#ff6000"/><stop offset="0.585" stop-color="#ff9900"/><stop offset="0.591" stop-color="#ffdb00"/><stop offset="0.597" stop-color="#e8ff00"/><stop offset="0.619" stop-color="#02ff00"/><stop offset="0.653" stop-color="#00fff3"/><stop offset="0.658" stop-color="#00eeff"/><stop offset="0.687" stop-color="#007aff"/><stop offset="0.748" stop-color="#001fff"/><stop offset="1.000" stop-color="#0000ff"/></linearGradient><linearGradient id="ga67" gradientUnits="userSpaceOnUse" x1="52" x2="229.7" y1="0" y2="0"><stop offset="0.000" stop-color="#0000ff"/><stop offset="0.191" stop-color="#002aff"/><stop offset="0.326" stop-color="#00f7ff"/><stop offset="0.332" stop-color="#00fffb"/><stop offset="0.371" stop-color="#00ff76"/><stop offset="0.405" stop-color="#01ff00"/><stop offset="0.467" stop-color="#f0ff00"/><stop offset="0.473" stop-color="#fff700"/><stop offset="0.501" stop-color="#ff6900"/><stop offset="0.512" stop-color="#ff2900"/><stop offset="0.535" stop-color="#ff0100"/><stop offset="0.568" stop-color="#ff2400"/><stop offset="0.580" stop-color="#ff5200"/><stop offset="0.585" stop-color="#ff8b00"/><stop offset="0.591" stop-color="#ffcb00"/><stop offset="0.597" stop-color="#f6ff00"/><stop offset="0.619" stop-color="#08ff00"/><stop offset="0.625" stop-color="#00ff25"/><stop offset="0.653" stop-color="#00fff3"/><stop offset="0.658" stop-color="#00eeff"/><stop offset="0.681" stop-color="#008dff"/><stop offset="0.687" stop-color="#0079ff"/><stop offset="0.748" stop-color="#001fff"/><stop offset="1.000" stop-color="#0000ff"/></linearGradient><linearGradient id="ga68" gradientUnits="userSpaceOnUse" x1="52" x2="229.7" y1="0" y2="0"><stop offset="0.000" stop-color="#0000ff"/><stop offset="0.191" stop-color="#002aff"/><stop offset="0.332" stop-color="#00ffff"/><stop offset="0.349" stop-color="#00ffc9"/><stop offset="0.405" stop-color="#00ff04"/><stop offset="0.416" stop-color="#26ff00"/><stop offset="0.473" stop-color="#fffd00"/><stop offset="0.506" stop-color="#ff4900"/><stop offset="0.512" stop-color="#ff2900"/><stop offset="0.535" stop-color="#ff0100"/><stop offset="0.568" stop-color="#ff2200"/><stop offset="0.580" stop-color="#ff4400"/><stop offset="0.591" stop-color="#ffbc00"/><stop offset="0.597" stop-color="#fffa00"/><stop offset="0.608" stop-color="#89ff00"/><stop offset="0.619" stop-color="#0eff00"/><stop offset="0.625" stop-color="#00ff21"/><stop offset="0.653" stop-color="#00fff2"/><stop offset="0.658" stop-color="#00eeff"/><stop offset="0.681" stop-color="#008bff"/><stop offset="0.687" stop-color="#0078ff"/><stop offset="0.748" stop-color="#001fff"/><stop offset="1.000" stop-color="#0000ff"/></linearGradient><linearGradient id="ga69" gradientUnits="userSpaceOnUse" x1="52" x2="229.7" y1="0" y2="0"><stop offset="0.000" stop-color="#0000ff"/><stop offset="0.191" stop-color="#0029ff"/><stop offset="0.332" stop-color="#00fcff"/><stop offset="0.338" stop-color="#00fff5"/><stop offset="0.405" stop-color="#00ff09"/><stop offset="0.411" stop-color="#0bff00"/><stop offset="0.473" stop-color="#fbff00"/><stop offset="0.478" stop-color="#ffe700"/><stop offset="0.512" stop-color="#ff2900"/><stop offset="0.535" stop-color="#ff0100"/><stop offset="0.568" stop-color="#ff2000"/><stop offset="0.580" stop-color="#ff3600"/><stop offset="0.591" stop-color="#ffad00"/><stop offset="0.597" stop-color="#ffec00"/><stop offset="0.602" stop-color="#d3ff00"/><stop offset="0.619" stop-color="#15ff00"/><stop offset="0.625" stop-color="#00ff1d"/><stop offset="0.653" stop-color="#00fff2"/><stop offset="0.658" stop-color="#00edff"/><stop offset="0.681" stop-color="#0089ff"/><stop offset="0.687" stop-color="#0077ff"/><stop offset="0.748" stop-color="#001fff"/><stop offset="1.000" stop-color="#0000ff"/></linearGradient><linearGradient id="ga70" gradientUnits="userSpaceOnUse" x1="52" x2="229.7" y1="0" y2="0"><stop offset="0.000" stop-color="#0000ff"/><stop offset="0.191" stop-color="#0029ff"/><stop offset="0.332" stop-color="#00f9ff"/><stop offset="0.338" stop-color="#00fff9"/><stop offset="0.405" stop-color="#00ff0e"/><stop offset="0.411" stop-color="#07ff00"/><stop offset="0.473" stop-color="#f6ff00"/><stop offset="0.478" stop-color="#ffeb00"/><stop offset="0.512" stop-color="#ff2900"/><stop offset="0.535" stop-color="#ff0000"/><stop offset="0.580" stop-color="#ff2a00"/><stop offset="0.591" stop-color="#ff9f00"/><stop offset="0.597" stop-color="#ffdf00"/><stop offset="0.602" stop-color="#deff00"/><stop offset="0.619" stop-color="#1aff00"/><stop offset="0.625" stop-color="#00ff1a"/><stop offset="0.653" stop-color="#00fff2"/><stop offset="0.658" stop-color="#00edff"/><stop offset="0.681" stop-color="#0087ff"/><stop offset="0.687" stop-color="#0076ff"/><stop offset="0.748" stop-color="#001fff"/><stop offset="1.000" stop-color="#0000ff"/></linearGradient><linearGradient id="gb0" gradientUnits="userSpaceOnUse" x1="52" x2="229.7" y1="0" y2="0"><stop offset="0.000" stop-color="#2a26ff"/><stop offset="0.045" stop-color="#3b37ff"/><stop offset="0.090" stop-color="#aaa8ff"/><stop offset="0.146" stop-color="#ffffff"/><stop offset="0.203" stop-color="#ffabab"/><stop offset="0.338" stop-color="#ff6a6a"/><stop offset="0.433" stop-color="#ff8a8a"/><stop offset="0.467" stop-color="#ffa0a0"/><stop offset="0.501" stop-color="#ffe2e2"/><stop offset="0.512" stop-color="#fff9f9"/><stop offset="0.518" stop-color="#fcfcff"/><stop offset="0.608" stop-color="#a19fff"/><stop offset="0.636" stop-color="#8a88ff"/><stop offset="0.642" stop-color="#6663ff"/><stop offset="0.647" stop-color="#322fff"/><stop offset="1.000" stop-color="#2a26ff"/></linearGradient><linearGradient id="gb1" gradientUnits="userSpaceOnUse" x1="52" x2="229.7" y1="0" y2="0"><stop offset="0.000" stop-color="#2a26ff"/><stop offset="0.045" stop-color="#3b37ff"/><stop offset="0.090" stop-color="#a4a2ff"/><stop offset="0.146" stop-color="#fbfbff"/><stop offset="0.152" stop-color="#fffafa"/><stop offset="0.203" stop-color="#ffafaf"/><stop offset="0.293" stop-color="#ff7d7d"/><stop offset="0.343" stop-color="#ff6b6b"/><stop offset="0.433" stop-color="#ff8888"/><stop offset="0.473" stop-color="#ffa6a6"/><stop offset="0.512" stop-color="#fffafa"/><stop offset="0.518" stop-color="#fbfbff"/><stop offset="0.602" stop-color="#a4a2ff"/><stop offset="0.636" stop-color="#8a88ff"/><stop offset="0.642" stop-color="#6663ff"/><stop offset="0.647" stop-color="#322fff"/><stop offset="1.000" stop-color="#2a26ff"/></linearGradient><linearGradient id="gb2" gradientUnits="userSpaceOnUse" x1="52" x2="229.7" y1="0" y2="0"><stop offset="0.000" stop-color="#2a26ff"/><stop offset="0.045" stop-color="#3b37ff"/><stop offset="0.090" stop-color="#9f9dff"/><stop offset="0.152" stop-color="#fffefe"/><stop offset="0.208" stop-color="#ffafaf"/><stop offset="0.281" stop-color="#ff8181"/><stop offset="0.343" stop-color="#ff6969"/><stop offset="0.433" stop-color="#ff8686"/><stop offset="0.473" stop-color="#ffa5a5"/><stop offset="0.512" stop-color="#fffbfb"/><stop offset="0.518" stop-color="#fbfbff"/><stop offset="0.597" stop-color="#a7a6ff"/><stop offset="0.636" stop-color="#8a88ff"/><stop offset="0.642" stop-color="#6663ff"/><stop offset="0.647" stop-color="#322fff"/><stop offset="1.000" stop-color="#2a26ff"/></linearGradient><linearGradient id="gb3" gradientUnits="userSpaceOnUse" x1="52" x2="229.7" y1="0" y2="0"><stop offset="0.000" stop-color="#2a26ff"/><stop offset="0.045" stop-color="#3b37ff"/><stop offset="0.096" stop-color="#a2a1ff"/><stop offset="0.152" stop-color="#fdfdff"/><stop offset="0.208" stop-color="#ffb2b2"/><stop offset="0.276" stop-color="#ff8282"/><stop offset="0.343" stop-color="#ff6868"/><stop offset="0.433" stop-color="#ff8585"/><stop offset="0.473" stop-color="#ffa3a3"/><stop offset="0.512" stop-color="#fffcfc"/><stop offset="0.529" stop-color="#eeedff"/><stop offset="0.597" stop-color="#a6a4ff"/><stop offset="0.636" stop-color="#8a88ff"/><stop offset="0.642" stop-color="#6663ff"/><stop offset="0.647" stop-color="#322fff"/><stop offset="1.000" stop-color="#2a26ff"/></linearGradient><linearGradient id="gb4" gradientUnits="userSpaceOnUse" x1="52" x2="229.7" y1="0" y2="0"><stop offset="0.000" stop-color="#2a26ff"/><stop offset="0.045" stop-color="#3b37ff"/><stop offset="0.107" stop-color="#b0afff"/><stop offset="0.152" stop-color="#fafaff"/><stop offset="0.158" stop-color="#fffbfb"/><stop offset="0.214" stop-color="#ffafaf"/><stop offset="0.276" stop-color="#ff8181"/><stop offset="0.343" stop-color="#ff6767"/><stop offset="0.433" stop-color="#ff8383"/><stop offset="0.473" stop-color="#ffa2a2"/><stop offset="0.512" stop-color="#fffdfd"/><stop offset="0.591" stop-color="#a9a7ff"/><stop offset="0.636" stop-color="#8a88ff"/><stop offset="0.642" stop-color="#6663ff"/><stop offset="0.647" stop-color="#322fff"/><stop offset="1.000" stop-color="#2a26ff"/></linearGradient><linearGradient id="gb5" gradientUnits="userSpaceOnUse" x1="52" x2="229.7" y1="0" y2="0"><stop offset="0.000" stop-color="#2a26ff"/><stop offset="0.045" stop-color="#3b37ff"/><stop offset="0.124" stop-color="#c8c7ff"/><stop offset="0.158" stop-color="#fffefe"/><stop offset="0.219" stop-color="#ffabab"/><stop offset="0.276" stop-color="#ff8080"/><stop offset="0.349" stop-color="#ff6767"/><stop offset="0.439" stop-color="#ff8686"/><stop offset="0.473" stop-color="#ffa0a0"/><stop offset="0.495" stop-color="#ffd4d4"/><stop offset="0.512" stop-color="#fffefe"/><stop offset="0.591" stop-color="#a7a5ff"/><stop offset="0.636" stop-color="#8a88ff"/><stop offset="0.642" stop-color="#6663ff"/><stop offset="0.647" stop-color="#322fff"/><stop offset="1.000" stop-color="#2a26ff"/></linearGradient><linearGradient id="gb6" gradientUnits="userSpaceOnUse" x1="52" x2="229.7" y1="0" y2="0"><stop offset="0.000" stop-color="#2a26ff"/><stop offset="0.045" stop-color="#3b37ff"/><stop offset="0.158" stop-color="#fafaff"/><stop offset="0.163" stop-color="#fffdfd"/><stop offset="0.225" stop-color="#ffa8a8"/><stop offset="0.276" stop-color="#ff7e7e"/><stop offset="0.349" stop-color="#ff6565"/><stop offset="0.439" stop-color="#ff8383"/><stop offset="0.473" stop-color="#ff9f9f"/><stop offset="0.478" stop-color="#ffa8a8"/><stop offset="0.506" stop-color="#fff3f3"/><stop offset="0.512" stop-color="#fefeff"/><stop offset="0.585" stop-color="#a9a7ff"/><stop offset="0.636" stop-color="#8987ff"/><stop offset="0.642" stop-color="#6562ff"/><stop offset="0.647" stop-color="#322fff"/><stop offset="1.000" stop-color="#2a26ff"/></linearGradient><linearGradient id="gb7" gradientUnits="userSpaceOnUse" x1="52" x2="229.7" y1="0" y2="0"><stop offset="0.000" stop-color="#2a26ff"/><stop offset="0.045" stop-color="#3a36ff"/><stop offset="0.101" stop-color="#9492ff"/><stop offset="0.163" stop-color="#f9f9ff"/><stop offset="0.169" stop-color="#fffdfd"/><stop offset="0.225" stop-color="#ffabab"/><stop offset="0.276" stop-color="#ff7c7c"/><stop offset="0.349" stop-color="#ff6363"/><stop offset="0.439" stop-color="#ff7f7f"/><stop offset="0.461" stop-color="#ff9090"/><stop offset="0.478" stop-color="#ffa7a7"/><stop offset="0.501" stop-color="#ffebeb"/><stop offset="0.506" stop-color="#fff7f7"/><stop offset="0.512" stop-color="#fbfbff"/><stop offset="0.585" stop-color="#a8a6ff"/><stop offset="0.636" stop-color="#8785ff"/><stop offset="0.642" stop-color="#6461ff"/><stop offset="0.647" stop-color="#322fff"/><stop offset="1.000" stop-color="#2a26ff"/></linearGradient><linearGradient id="gb8" gradientUnits="userSpaceOnUse" x1="52" x2="229.7" y1="0" y2="0"><stop offset="0.000" stop-color="#2a26ff"/><stop offset="0.045" stop-color="#3936ff"/><stop offset="0.068" stop-color="#5754ff"/><stop offset="0.169" stop-color="#fafaff"/><stop offset="0.174" stop-color="#fffbfb"/><stop offset="0.231" stop-color="#ffa6a6"/><stop offset="0.276" stop-color="#ff7979"/><stop offset="0.355" stop-color="#ff6060"/><stop offset="0.445" stop-color="#ff7d7d"/><stop offset="0.456" stop-color="#ff8383"/><stop offset="0.478" stop-color="#ffa6a6"/><stop offset="0.501" stop-color="#fff0f0"/><stop offset="0.506" stop-color="#fffbfb"/><stop offset="0.518" stop-color="#f2f2ff"/><stop offset="0.585" stop-color="#a6a5ff"/><stop offset="0.636" stop-color="#8683ff"/><stop offset="0.642" stop-color="#6360ff"/><stop offset="0.647" stop-color="#322fff"/><stop offset="1.000" stop-color="#2a26ff"/></linearGradient><linearGradient id="gb9" gradientUnits="userSpaceOnUse" x1="52" x2="229.7" y1="0" y2="0"><stop offset="0.000" stop-color="#2a26ff"/><stop offset="0.051" stop-color="#3d3aff"/><stop offset="0.062" stop-color="#4a47ff"/><stop offset="0.146" stop-color="#cdccff"/><stop offset="0.174" stop-color="#fcfcff"/><stop offset="0.180" stop-color="#fff9f9"/><stop offset="0.231" stop-color="#ffa8a8"/><stop offset="0.276" stop-color="#ff7777"/><stop offset="0.355" stop-color="#ff5d5d"/><stop offset="0.450" stop-color="#ff7b7b"/><stop offset="0.461" stop-color="#ff8787"/><stop offset="0.478" stop-color="#ffa4a4"/><stop offset="0.501" stop-color="#fff5f5"/><stop offset="0.506" stop-color="#ffffff"/><stop offset="0.580" stop-color="#a9a8ff"/><stop offset="0.636" stop-color="#8482ff"/><stop offset="0.642" stop-color="#625fff"/><stop offset="0.647" stop-color="#322fff"/><stop offset="1.000" stop-color="#2a26ff"/></linearGradient><linearGradient id="gb10" gradientUnits="userSpaceOnUse" x1="52" x2="229.7" y1="0" y2="0"><stop offset="0.000" stop-color="#2a26ff"/><stop offset="0.056" stop-color="#3e3aff"/><stop offset="0.141" stop-color="#bab9ff"/><stop offset="0.180" stop-color="#ffffff"/><stop offset="0.236" stop-color="#ffa3a3"/><stop offset="0.276" stop-color="#ff7575"/><stop offset="0.355" stop-color="#ff5a5a"/><stop offset="0.456" stop-color="#ff7878"/><stop offset="0.478" stop-color="#ffa3a3"/><stop offset="0.501" stop-color="#fffbfb"/><stop offset="0.506" stop-color="#fbfbff"/><stop offset="0.580" stop-color="#a8a6ff"/><stop offset="0.636" stop-color="#8380ff"/><stop offset="0.642" stop-color="#615eff"/><stop offset="0.647" stop-color="#322fff"/><stop offset="1.000" stop-color="#2a26ff"/></linearGradient><linearGradient id="gb11" gradientUnits="userSpaceOnUse" x1="52" x2="229.7" y1="0" y2="0"><stop offset="0.000" stop-color="#2a26ff"/><stop offset="0.056" stop-color="#3d39ff"/><stop offset="0.141" stop-color="#b5b4ff"/><stop offset="0.180" stop-color="#fbfaff"/><stop offset="0.186" stop-color="#fffafa"/><stop offset="0.236" stop-color="#ffa4a4"/><stop offset="0.276" stop-color="#ff7474"/><stop offset="0.360" stop-color="#ff5858"/><stop offset="0.456" stop-color="#ff7373"/><stop offset="0.478" stop-color="#ffa2a2"/><stop offset="0.501" stop-color="#fffefe"/><stop offset="0.580" stop-color="#a6a4ff"/><stop offset="0.636" stop-color="#7e7cff"/><stop offset="0.642" stop-color="#5f5cff"/><stop offset="0.647" stop-color="#332fff"/><stop offset="1.000" stop-color="#2a26ff"/></linearGradient><linearGradient id="gb12" gradientUnits="userSpaceOnUse" x1="52" x2="229.7" y1="0" y2="0"><stop offset="0.000" stop-color="#2a26ff"/><stop offset="0.056" stop-color="#4541ff"/><stop offset="0.146" stop-color="#c5c4ff"/><stop offset="0.180" stop-color="#fdfdff"/><stop offset="0.225" stop-color="#ffb5b5"/><stop offset="0.276" stop-color="#ff7575"/><stop offset="0.360" stop-color="#ff5757"/><stop offset="0.456" stop-color="#ff7171"/><stop offset="0.478" stop-color="#ff9f9f"/><stop offset="0.501" stop-color="#fffcfc"/><stop offset="0.529" stop-color="#dfdeff"/><stop offset="0.585" stop-color="#9f9eff"/><stop offset="0.636" stop-color="#716eff"/><stop offset="0.642" stop-color="#5855ff"/><stop offset="0.647" stop-color="#3431ff"/><stop offset="1.000" stop-color="#2a26ff"/></linearGradient><linearGradient id="gb13" gradientUnits="userSpaceOnUse" x1="52" x2="229.7" y1="0" y2="0"><stop offset="0.000" stop-color="#2a26ff"/><stop offset="0.034" stop-color="#3b37ff"/><stop offset="0.062" stop-color="#5552ff"/><stop offset="0.158" stop-color="#dddcff"/><stop offset="0.180" stop-color="#ffffff"/><stop offset="0.236" stop-color="#ffa5a5"/><stop offset="0.281" stop-color="#ff7373"/><stop offset="0.360" stop-color="#ff5656"/><stop offset="0.428" stop-color="#ff6666"/><stop offset="0.456" stop-color="#ff6f6f"/><stop offset="0.467" stop-color="#ff8383"/><stop offset="0.478" stop-color="#ff9c9c"/><stop offset="0.495" stop-color="#ffe1e1"/><stop offset="0.501" stop-color="#fff9f9"/><stop offset="0.506" stop-color="#fafaff"/><stop offset="0.636" stop-color="#6461ff"/><stop offset="0.642" stop-color="#514dff"/><stop offset="0.647" stop-color="#3632ff"/><stop offset="1.000" stop-color="#2a26ff"/></linearGradient><linearGradient id="gb14" gradientUnits="userSpaceOnUse" x1="52" x2="229.7" y1="0" y2="0"><stop offset="0.000" stop-color="#2a26ff"/><stop offset="0.034" stop-color="#3d3aff"/><stop offset="0.068" stop-color="#6562ff"/><stop offset="0.118" stop-color="#acabff"/><stop offset="0.174" stop-color="#f9f9ff"/><stop offset="0.180" stop-color="#fffcfc"/><stop offset="0.236" stop-color="#ffa5a5"/><stop offset="0.281" stop-color="#ff7474"/><stop offset="0.310" stop-color="#ff6565"/><stop offset="0.371" stop-color="#ff5454"/><stop offset="0.456" stop-color="#ff6d6d"/><stop offset="0.467" stop-color="#ff7f7f"/><stop offset="0.484" stop-color="#ffabab"/><stop offset="0.501" stop-color="#fff7f7"/><stop offset="0.506" stop-color="#fafaff"/><stop offset="0.597" stop-color="#8c89ff"/><stop offset="0.636" stop-color="#5754ff"/><stop offset="0.647" stop-color="#3734ff"/><stop offset="1.000" stop-color="#2a26ff"/></linearGradient><linearGradient id="gb15" gradientUnits="userSpaceOnUse" x1="52" x2="229.7" y1="0" y2="0"><stop offset="0.000" stop-color="#2a26ff"/><stop offset="0.028" stop-color="#3936ff"/><stop offset="0.073" stop-color="#7673ff"/><stop offset="0.113" stop-color="#aeacff"/><stop offset="0.174" stop-color="#fcfcff"/><stop offset="0.180" stop-color="#fffafa"/><stop offset="0.236" stop-color="#ffa5a5"/><stop offset="0.293" stop-color="#ff6b6b"/><stop offset="0.371" stop-color="#ff5151"/><stop offset="0.456" stop-color="#ff6a6a"/><stop offset="0.461" stop-color="#ff6f6f"/><stop offset="0.484" stop-color="#ffa7a7"/><stop offset="0.501" stop-color="#fff4f4"/><stop offset="0.506" stop-color="#fbfbff"/><stop offset="0.580" stop-color="#a19fff"/><stop offset="0.647" stop-color="#3935ff"/><stop offset="1.000" stop-color="#2a26ff"/></linearGradient><linearGradient id="gb16" gradientUnits="userSpaceOnUse" x1="52" x2="229.7" y1="0" y2="0"><stop offset="0.000" stop-color="#2a26ff"/><stop offset="0.028" stop-color="#3b37ff"/><stop offset="0.107" stop-color="#afaeff"/><stop offset="0.174" stop-color="#ffffff"/><stop offset="0.236" stop-color="#ffa5a5"/><stop offset="0.293" stop-color="#ff6a6a"/><stop offset="0.377" stop-color="#ff4f4f"/><stop offset="0.461" stop-color="#ff6b6b"/><stop offset="0.484" stop-color="#ffa3a3"/><stop offset="0.501" stop-color="#fff2f2"/><stop offset="0.506" stop-color="#fcfbff"/><stop offset="0.580" stop-color="#a09eff"/><stop offset="0.636" stop-color="#3d39ff"/><stop offset="1.000" stop-color="#2a26ff"/></linearGradient><linearGradient id="gb17" gradientUnits="userSpaceOnUse" x1="52" x2="229.7" y1="0" y2="0"><stop offset="0.000" stop-color="#2a26ff"/><stop offset="0.028" stop-color="#3b37ff"/><stop offset="0.107" stop-color="#adabff"/><stop offset="0.174" stop-color="#fbfbff"/><stop offset="0.180" stop-color="#fffcfc"/><stop offset="0.242" stop-color="#ffa5a5"/><stop offset="0.298" stop-color="#ff6b6b"/><stop offset="0.377" stop-color="#ff4d4d"/><stop offset="0.461" stop-color="#ff6868"/><stop offset="0.484" stop-color="#ff9b9b"/><stop offset="0.501" stop-color="#ffe1e1"/><stop offset="0.506" stop-color="#fff0f0"/><stop offset="0.518" stop-color="#ffffff"/><stop offset="0.580" stop-color="#a9a7ff"/><stop offset="0.636" stop-color="#4441ff"/><stop offset="0.670" stop-color="#3a36ff"/><stop offset="1.000" stop-color="#2a26ff"/></linearGradient><linearGradient id="gb18" gradientUnits="userSpaceOnUse" x1="52" x2="229.7" y1="0" y2="0"><stop offset="0.000" stop-color="#2a26ff"/><stop offset="0.028" stop-color="#3a37ff"/><stop offset="0.118" stop-color="#b7b5ff"/><stop offset="0.180" stop-color="#fdfdff"/><stop offset="0.191" stop-color="#fff2f2"/><stop offset="0.242" stop-color="#ffacac"/><stop offset="0.298" stop-color="#ff6f6f"/><stop offset="0.349" stop-color="#ff5555"/><stop offset="0.383" stop-color="#ff4c4c"/><stop offset="0.422" stop-color="#ff5555"/><stop offset="0.461" stop-color="#ff6464"/><stop offset="0.484" stop-color="#ff9292"/><stop offset="0.501" stop-color="#ffcece"/><stop offset="0.512" stop-color="#ffe3e3"/><stop offset="0.529" stop-color="#fffefe"/><stop offset="0.585" stop-color="#a9a8ff"/><stop offset="0.636" stop-color="#4e4bff"/><stop offset="0.664" stop-color="#3a37ff"/><stop offset="1.000" stop-color="#2a26ff"/></linearGradient><linearGradient id="gb19" gradientUnits="userSpaceOnUse" x1="52" x2="229.7" y1="0" y2="0"><stop offset="0.000" stop-color="#2a26ff"/><stop offset="0.034" stop-color="#3f3bff"/><stop offset="0.118" stop-color="#b3b1ff"/><stop offset="0.186" stop-color="#fefeff"/><stop offset="0.259" stop-color="#ff9d9d"/><stop offset="0.310" stop-color="#ff6a6a"/><stop offset="0.343" stop-color="#ff5656"/><stop offset="0.388" stop-color="#ff4949"/><stop offset="0.411" stop-color="#ff4c4c"/><stop offset="0.461" stop-color="#ff6161"/><stop offset="0.484" stop-color="#ff8989"/><stop offset="0.506" stop-color="#ffc7c7"/><stop offset="0.523" stop-color="#ffe1e1"/><stop offset="0.535" stop-color="#fff7f7"/><stop offset="0.540" stop-color="#fdfdff"/><stop offset="0.613" stop-color="#8381ff"/><stop offset="0.636" stop-color="#5956ff"/><stop offset="0.664" stop-color="#3b37ff"/><stop offset="1.000" stop-color="#2a26ff"/></linearGradient><linearGradient id="gb20" gradientUnits="userSpaceOnUse" x1="52" x2="229.7" y1="0" y2="0"><stop offset="0.000" stop-color="#2a26ff"/><stop offset="0.034" stop-color="#3d3aff"/><stop offset="0.124" stop-color="#b5b4ff"/><stop offset="0.191" stop-color="#ffffff"/><stop offset="0.270" stop-color="#ff9696"/><stop offset="0.321" stop-color="#ff6262"/><stop offset="0.377" stop-color="#ff4848"/><stop offset="0.405" stop-color="#ff4545"/><stop offset="0.461" stop-color="#ff5e5e"/><stop offset="0.484" stop-color="#ff8080"/><stop offset="0.506" stop-color="#ffb2b2"/><stop offset="0.523" stop-color="#ffcdcd"/><stop offset="0.546" stop-color="#fffefe"/><stop offset="0.613" stop-color="#8e8cff"/><stop offset="0.642" stop-color="#5b58ff"/><stop offset="0.664" stop-color="#3b37ff"/><stop offset="1.000" stop-color="#2a26ff"/></linearGradient><linearGradient id="gb21" gradientUnits="userSpaceOnUse" x1="52" x2="229.7" y1="0" y2="0"><stop offset="0.000" stop-color="#2a26ff"/><stop offset="0.034" stop-color="#3c38ff"/><stop offset="0.124" stop-color="#b2b0ff"/><stop offset="0.197" stop-color="#ffffff"/><stop offset="0.270" stop-color="#ff9b9b"/><stop offset="0.326" stop-color="#ff5c5c"/><stop offset="0.400" stop-color="#ff3e3e"/><stop offset="0.467" stop-color="#ff5f5f"/><stop offset="0.518" stop-color="#ffacac"/><stop offset="0.551" stop-color="#fffcfc"/><stop offset="0.608" stop-color="#a4a2ff"/><stop offset="0.664" stop-color="#3b38ff"/><stop offset="1.000" stop-color="#2a26ff"/></linearGradient><linearGradient id="gb22" gradientUnits="userSpaceOnUse" x1="52" x2="229.7" y1="0" y2="0"><stop offset="0.000" stop-color="#2a26ff"/><stop offset="0.034" stop-color="#3a37ff"/><stop offset="0.129" stop-color="#b4b2ff"/><stop offset="0.203" stop-color="#fffefe"/><stop offset="0.281" stop-color="#ff9595"/><stop offset="0.326" stop-color="#ff6060"/><stop offset="0.400" stop-color="#ff3c3c"/><stop offset="0.467" stop-color="#ff5a5a"/><stop offset="0.518" stop-color="#ff9e9e"/><stop offset="0.557" stop-color="#fffefe"/><stop offset="0.619" stop-color="#9795ff"/><stop offset="0.664" stop-color="#3e3aff"/><stop offset="1.000" stop-color="#2a26ff"/></linearGradient><linearGradient id="gb23" gradientUnits="userSpaceOnUse" x1="52" x2="229.7" y1="0" y2="0"><stop offset="0.000" stop-color="#2a26ff"/><stop offset="0.039" stop-color="#3f3bff"/><stop offset="0.073" stop-color="#6764ff"/><stop offset="0.135" stop-color="#b6b5ff"/><stop offset="0.203" stop-color="#fbfbff"/><stop offset="0.208" stop-color="#fffcfc"/><stop offset="0.298" stop-color="#ff8a8a"/><stop offset="0.332" stop-color="#ff6464"/><stop offset="0.400" stop-color="#ff3d3d"/><stop offset="0.433" stop-color="#ff4444"/><stop offset="0.473" stop-color="#ff5c5c"/><stop offset="0.518" stop-color="#ff9797"/><stop offset="0.551" stop-color="#ffe8e8"/><stop offset="0.557" stop-color="#fff6f6"/><stop offset="0.563" stop-color="#fdfdff"/><stop offset="0.625" stop-color="#9290ff"/><stop offset="0.664" stop-color="#423fff"/><stop offset="0.681" stop-color="#3a37ff"/><stop offset="1.000" stop-color="#2a26ff"/></linearGradient><linearGradient id="gb24" gradientUnits="userSpaceOnUse" x1="52" x2="229.7" y1="0" y2="0"><stop offset="0.000" stop-color="#2a26ff"/><stop offset="0.039" stop-color="#3d39ff"/><stop offset="0.062" stop-color="#524fff"/><stop offset="0.135" stop-color="#b3b2ff"/><stop offset="0.208" stop-color="#fcfbff"/><stop offset="0.214" stop-color="#fffcfc"/><stop offset="0.332" stop-color="#ff6b6b"/><stop offset="0.371" stop-color="#ff4d4d"/><stop offset="0.405" stop-color="#ff3d3d"/><stop offset="0.433" stop-color="#ff3f3f"/><stop offset="0.473" stop-color="#ff5858"/><stop offset="0.506" stop-color="#ff7e7e"/><stop offset="0.523" stop-color="#ff9b9b"/><stop offset="0.546" stop-color="#ffcfcf"/><stop offset="0.563" stop-color="#fffbfb"/><stop offset="0.568" stop-color="#f7f7ff"/><stop offset="0.625" stop-color="#9896ff"/><stop offset="0.664" stop-color="#4743ff"/><stop offset="0.675" stop-color="#3b37ff"/><stop offset="1.000" stop-color="#2a26ff"/></linearGradient><linearGradient id="gb25" gradientUnits="userSpaceOnUse" x1="52" x2="229.7" y1="0" y2="0"><stop offset="0.000" stop-color="#2a26ff"/><stop offset="0.051" stop-color="#423eff"/><stop offset="0.062" stop-color="#4d4aff"/><stop offset="0.135" stop-color="#b0aeff"/><stop offset="0.214" stop-color="#fcfcff"/><stop offset="0.225" stop-color="#fff6f6"/><stop offset="0.338" stop-color="#ff6c6c"/><stop offset="0.366" stop-color="#ff5252"/><stop offset="0.411" stop-color="#ff3b3b"/><stop offset="0.428" stop-color="#ff3737"/><stop offset="0.478" stop-color="#ff5858"/><stop offset="0.501" stop-color="#ff6c6c"/><stop offset="0.535" stop-color="#ffaaaa"/><stop offset="0.546" stop-color="#ffc5c5"/><stop offset="0.563" stop-color="#fff4f4"/><stop offset="0.568" stop-color="#fcfcff"/><stop offset="0.630" stop-color="#9290ff"/><stop offset="0.664" stop-color="#4b48ff"/><stop offset="0.675" stop-color="#3b38ff"/><stop offset="1.000" stop-color="#2a26ff"/></linearGradient><linearGradient id="gb26" gradientUnits="userSpaceOnUse" x1="52" x2="229.7" y1="0" y2="0"><stop offset="0.000" stop-color="#2a26ff"/><stop offset="0.056" stop-color="#403cff"/><stop offset="0.135" stop-color="#adabff"/><stop offset="0.225" stop-color="#fffefe"/><stop offset="0.360" stop-color="#ff5858"/><stop offset="0.428" stop-color="#ff3232"/><stop offset="0.495" stop-color="#ff5f5f"/><stop offset="0.512" stop-color="#ff7777"/><stop offset="0.540" stop-color="#ffabab"/><stop offset="0.568" stop-color="#fffdfd"/><stop offset="0.625" stop-color="#a4a3ff"/><stop offset="0.670" stop-color="#4542ff"/><stop offset="0.675" stop-color="#3b38ff"/><stop offset="1.000" stop-color="#2a26ff"/></linearGradient><linearGradient id="gb27" gradientUnits="userSpaceOnUse" x1="52" x2="229.7" y1="0" y2="0"><stop offset="0.000" stop-color="#2a26ff"/><stop offset="0.056" stop-color="#3b37ff"/><stop offset="0.141" stop-color="#aeadff"/><stop offset="0.231" stop-color="#fefeff"/><stop offset="0.338" stop-color="#ff7878"/><stop offset="0.360" stop-color="#ff5b5b"/><stop offset="0.428" stop-color="#ff2e2e"/><stop offset="0.501" stop-color="#ff5c5c"/><stop offset="0.540" stop-color="#ffa2a2"/><stop offset="0.568" stop-color="#fff7f7"/><stop offset="0.574" stop-color="#fafaff"/><stop offset="0.625" stop-color="#aaa9ff"/><stop offset="0.675" stop-color="#3c39ff"/><stop offset="1.000" stop-color="#2a26ff"/></linearGradient><linearGradient id="gb28" gradientUnits="userSpaceOnUse" x1="52" x2="229.7" y1="0" y2="0"><stop offset="0.000" stop-color="#2a26ff"/><stop offset="0.056" stop-color="#3a37ff"/><stop offset="0.124" stop-color="#9391ff"/><stop offset="0.146" stop-color="#adacff"/><stop offset="0.236" stop-color="#fefeff"/><stop offset="0.293" stop-color="#ffbcbc"/><stop offset="0.360" stop-color="#ff6161"/><stop offset="0.428" stop-color="#ff2d2d"/><stop offset="0.461" stop-color="#ff3c3c"/><stop offset="0.501" stop-color="#ff5858"/><stop offset="0.535" stop-color="#ff9191"/><stop offset="0.546" stop-color="#ffadad"/><stop offset="0.574" stop-color="#ffffff"/><stop offset="0.630" stop-color="#a2a0ff"/><stop offset="0.675" stop-color="#413dff"/><stop offset="0.698" stop-color="#3a36ff"/><stop offset="1.000" stop-color="#2a26ff"/></linearGradient><linearGradient id="gb29" gradientUnits="userSpaceOnUse" x1="52" x2="229.7" y1="0" y2="0"><stop offset="0.000" stop-color="#2a26ff"/><stop offset="0.056" stop-color="#3a36ff"/><stop offset="0.084" stop-color="#5855ff"/><stop offset="0.141" stop-color="#a2a0ff"/><stop offset="0.197" stop-color="#d5d5ff"/><stop offset="0.242" stop-color="#fdfdff"/><stop offset="0.264" stop-color="#ffe9e9"/><stop offset="0.360" stop-color="#ff6767"/><stop offset="0.428" stop-color="#ff2d2d"/><stop offset="0.450" stop-color="#ff2d2d"/><stop offset="0.501" stop-color="#ff5454"/><stop offset="0.523" stop-color="#ff7474"/><stop offset="0.540" stop-color="#ff9797"/><stop offset="0.574" stop-color="#fff9f9"/><stop offset="0.580" stop-color="#f8f8ff"/><stop offset="0.630" stop-color="#a6a4ff"/><stop offset="0.675" stop-color="#4542ff"/><stop offset="0.687" stop-color="#3b37ff"/><stop offset="1.000" stop-color="#2a26ff"/></linearGradient><linearGradient id="gb30" gradientUnits="userSpaceOnUse" x1="52" x2="229.7" y1="0" y2="0"><stop offset="0.000" stop-color="#2a26ff"/><stop offset="0.062" stop-color="#3d39ff"/><stop offset="0.079" stop-color="#4c49ff"/><stop offset="0.146" stop-color="#a2a0ff"/><stop offset="0.186" stop-color="#c7c6ff"/><stop offset="0.253" stop-color="#fffdfd"/><stop offset="0.287" stop-color="#ffd6d6"/><stop offset="0.366" stop-color="#ff6666"/><stop offset="0.416" stop-color="#ff3636"/><stop offset="0.439" stop-color="#ff2929"/><stop offset="0.450" stop-color="#ff2626"/><stop offset="0.501" stop-color="#ff4f4f"/><stop offset="0.523" stop-color="#ff6d6d"/><stop offset="0.546" stop-color="#ffa1a1"/><stop offset="0.574" stop-color="#fff4f4"/><stop offset="0.580" stop-color="#fcfcff"/><stop offset="0.636" stop-color="#9f9eff"/><stop offset="0.675" stop-color="#4a46ff"/><stop offset="0.687" stop-color="#3b37ff"/><stop offset="1.000" stop-color="#2a26ff"/></linearGradient><linearGradient id="gb31" gradientUnits="userSpaceOnUse" x1="52" x2="229.7" y1="0" y2="0"><stop offset="0.000" stop-color="#2a26ff"/><stop offset="0.068" stop-color="#3e3aff"/><stop offset="0.084" stop-color="#4f4cff"/><stop offset="0.163" stop-color="#b0aeff"/><stop offset="0.259" stop-color="#fdfdff"/><stop offset="0.276" stop-color="#fff0f0"/><stop offset="0.360" stop-color="#ff7272"/><stop offset="0.394" stop-color="#ff4c4c"/><stop offset="0.445" stop-color="#ff2222"/><stop offset="0.450" stop-color="#ff1f1f"/><stop offset="0.512" stop-color="#ff5858"/><stop offset="0.523" stop-color="#ff6565"/><stop offset="0.551" stop-color="#ffaaaa"/><stop offset="0.580" stop-color="#ffffff"/><stop offset="0.636" stop-color="#a4a2ff"/><stop offset="0.681" stop-color="#4441ff"/><stop offset="0.687" stop-color="#3b38ff"/><stop offset="1.000" stop-color="#2a26ff"/></linearGradient><linearGradient id="gb32" gradientUnits="userSpaceOnUse" x1="52" x2="229.7" y1="0" y2="0"><stop offset="0.000" stop-color="#2a26ff"/><stop offset="0.073" stop-color="#3c39ff"/><stop offset="0.169" stop-color="#afaeff"/><stop offset="0.270" stop-color="#fefeff"/><stop offset="0.281" stop-color="#fff1f1"/><stop offset="0.360" stop-color="#ff7878"/><stop offset="0.388" stop-color="#ff5353"/><stop offset="0.450" stop-color="#ff1818"/><stop offset="0.523" stop-color="#ff5e5e"/><stop offset="0.557" stop-color="#ffb5b5"/><stop offset="0.580" stop-color="#fffbfb"/><stop offset="0.591" stop-color="#efefff"/><stop offset="0.636" stop-color="#a9a7ff"/><stop offset="0.687" stop-color="#3c38ff"/><stop offset="1.000" stop-color="#2a26ff"/></linearGradient><linearGradient id="gb33" gradientUnits="userSpaceOnUse" x1="52" x2="229.7" y1="0" y2="0"><stop offset="0.000" stop-color="#2a26ff"/><stop offset="0.073" stop-color="#3a36ff"/><stop offset="0.169" stop-color="#9e9cff"/><stop offset="0.281" stop-color="#fffdfd"/><stop offset="0.383" stop-color="#ff6565"/><stop offset="0.450" stop-color="#ff1d1d"/><stop offset="0.484" stop-color="#ff3333"/><stop offset="0.523" stop-color="#ff5b5b"/><stop offset="0.557" stop-color="#ffafaf"/><stop offset="0.580" stop-color="#fff7f7"/><stop offset="0.585" stop-color="#fafaff"/><stop offset="0.636" stop-color="#aaa8ff"/><stop offset="0.687" stop-color="#3c38ff"/><stop offset="1.000" stop-color="#2a26ff"/></linearGradient><linearGradient id="gb34" gradientUnits="userSpaceOnUse" x1="52" x2="229.7" y1="0" y2="0"><stop offset="0.000" stop-color="#2a26ff"/><stop offset="0.073" stop-color="#3834ff"/><stop offset="0.169" stop-color="#8886ff"/><stop offset="0.191" stop-color="#9997ff"/><stop offset="0.281" stop-color="#f4f4ff"/><stop offset="0.287" stop-color="#fbfbff"/><stop offset="0.293" stop-color="#fffbfb"/><stop offset="0.388" stop-color="#ff6d6d"/><stop offset="0.450" stop-color="#ff2626"/><stop offset="0.478" stop-color="#ff2929"/><stop offset="0.523" stop-color="#ff5a5a"/><stop offset="0.557" stop-color="#ffaaaa"/><stop offset="0.580" stop-color="#fff4f4"/><stop offset="0.585" stop-color="#fbfbff"/><stop offset="0.636" stop-color="#aaa8ff"/><stop offset="0.687" stop-color="#3c38ff"/><stop offset="1.000" stop-color="#2a26ff"/></linearGradient><linearGradient id="gb35" gradientUnits="userSpaceOnUse" x1="52" x2="229.7" y1="0" y2="0"><stop offset="0.000" stop-color="#2a26ff"/><stop offset="0.079" stop-color="#3936ff"/><stop offset="0.174" stop-color="#7572ff"/><stop offset="0.191" stop-color="#8280ff"/><stop offset="0.259" stop-color="#d1d0ff"/><stop offset="0.293" stop-color="#f5f5ff"/><stop offset="0.298" stop-color="#fcfcff"/><stop offset="0.310" stop-color="#fff2f2"/><stop offset="0.355" stop-color="#ffb1b1"/><stop offset="0.388" stop-color="#ff7c7c"/><stop offset="0.450" stop-color="#ff2f2f"/><stop offset="0.478" stop-color="#ff2424"/><stop offset="0.523" stop-color="#ff5858"/><stop offset="0.563" stop-color="#ffb3b3"/><stop offset="0.580" stop-color="#fff1f1"/><stop offset="0.585" stop-color="#fcfcff"/><stop offset="0.636" stop-color="#aaa8ff"/><stop offset="0.687" stop-color="#3c38ff"/><stop offset="1.000" stop-color="#2a26ff"/></linearGradient><linearGradient id="gb36" gradientUnits="userSpaceOnUse" x1="52" x2="229.7" y1="0" y2="0"><stop offset="0.000" stop-color="#2a26ff"/><stop offset="0.084" stop-color="#3935ff"/><stop offset="0.186" stop-color="#6562ff"/><stop offset="0.259" stop-color="#c4c3ff"/><stop offset="0.310" stop-color="#fcfcff"/><stop offset="0.321" stop-color="#fff4f4"/><stop offset="0.355" stop-color="#ffc2c2"/><stop offset="0.388" stop-color="#ff8b8b"/><stop offset="0.456" stop-color="#ff3333"/><stop offset="0.478" stop-color="#ff2020"/><stop offset="0.529" stop-color="#ff6060"/><stop offset="0.563" stop-color="#ffadad"/><stop offset="0.580" stop-color="#ffeded"/><stop offset="0.585" stop-color="#fefeff"/><stop offset="0.636" stop-color="#aaa8ff"/><stop offset="0.687" stop-color="#3c38ff"/><stop offset="1.000" stop-color="#2a26ff"/></linearGradient><linearGradient id="gb37" gradientUnits="userSpaceOnUse" x1="52" x2="229.7" y1="0" y2="0"><stop offset="0.000" stop-color="#2a26ff"/><stop offset="0.101" stop-color="#3835ff"/><stop offset="0.180" stop-color="#4946ff"/><stop offset="0.231" stop-color="#918eff"/><stop offset="0.259" stop-color="#b7b6ff"/><stop offset="0.326" stop-color="#ffffff"/><stop offset="0.349" stop-color="#ffdddd"/><stop offset="0.388" stop-color="#ff9a9a"/><stop offset="0.445" stop-color="#ff4b4b"/><stop offset="0.473" stop-color="#ff1f1f"/><stop offset="0.478" stop-color="#ff1b1b"/><stop offset="0.529" stop-color="#ff5e5e"/><stop offset="0.563" stop-color="#ffa6a6"/><stop offset="0.585" stop-color="#ffffff"/><stop offset="0.636" stop-color="#aaa8ff"/><stop offset="0.687" stop-color="#3c38ff"/><stop offset="1.000" stop-color="#2a26ff"/></linearGradient><linearGradient id="gb38" gradientUnits="userSpaceOnUse" x1="52" x2="229.7" y1="0" y2="0"><stop offset="0.000" stop-color="#2a26ff"/><stop offset="0.180" stop-color="#3b37ff"/><stop offset="0.197" stop-color="#504cff"/><stop offset="0.259" stop-color="#acaaff"/><stop offset="0.338" stop-color="#fffefe"/><stop offset="0.394" stop-color="#ff9c9c"/><stop offset="0.445" stop-color="#ff5454"/><stop offset="0.473" stop-color="#ff2121"/><stop offset="0.478" stop-color="#ff1b1b"/><stop offset="0.523" stop-color="#ff5353"/><stop offset="0.557" stop-color="#ff9595"/><stop offset="0.563" stop-color="#ffa1a1"/><stop offset="0.585" stop-color="#fffdfd"/><stop offset="0.636" stop-color="#aaa8ff"/><stop offset="0.687" stop-color="#3c38ff"/><stop offset="1.000" stop-color="#2a26ff"/></linearGradient><linearGradient id="gb39" gradientUnits="userSpaceOnUse" x1="52" x2="229.7" y1="0" y2="0"><stop offset="0.000" stop-color="#2a26ff"/><stop offset="0.180" stop-color="#3a36ff"/><stop offset="0.219" stop-color="#6663ff"/><stop offset="0.259" stop-color="#a19fff"/><stop offset="0.338" stop-color="#fcfcff"/><stop offset="0.349" stop-color="#ffeeee"/><stop offset="0.394" stop-color="#ff9f9f"/><stop offset="0.445" stop-color="#ff5a5a"/><stop offset="0.478" stop-color="#ff2323"/><stop offset="0.501" stop-color="#ff2f2f"/><stop offset="0.535" stop-color="#ff6262"/><stop offset="0.563" stop-color="#ff9f9f"/><stop offset="0.585" stop-color="#fffbfb"/><stop offset="0.597" stop-color="#ededff"/><stop offset="0.642" stop-color="#9d9cff"/><stop offset="0.687" stop-color="#3c38ff"/><stop offset="1.000" stop-color="#2a26ff"/></linearGradient><linearGradient id="gb40" gradientUnits="userSpaceOnUse" x1="52" x2="229.7" y1="0" y2="0"><stop offset="0.000" stop-color="#2a26ff"/><stop offset="0.186" stop-color="#3c39ff"/><stop offset="0.219" stop-color="#5b58ff"/><stop offset="0.264" stop-color="#9d9cff"/><stop offset="0.343" stop-color="#fffdfd"/><stop offset="0.394" stop-color="#ffa2a2"/><stop offset="0.456" stop-color="#ff5050"/><stop offset="0.478" stop-color="#ff2b2b"/><stop offset="0.495" stop-color="#ff2727"/><stop offset="0.506" stop-color="#ff3232"/><stop offset="0.540" stop-color="#ff6969"/><stop offset="0.563" stop-color="#ff9c9c"/><stop offset="0.574" stop-color="#ffc7c7"/><stop offset="0.585" stop-color="#fff8f8"/><stop offset="0.591" stop-color="#f8f8ff"/><stop offset="0.642" stop-color="#9d9cff"/><stop offset="0.687" stop-color="#3c38ff"/><stop offset="1.000" stop-color="#2a26ff"/></linearGradient><linearGradient id="gb41" gradientUnits="userSpaceOnUse" x1="52" x2="229.7" y1="0" y2="0"><stop offset="0.000" stop-color="#2a26ff"/><stop offset="0.186" stop-color="#3b37ff"/><stop offset="0.219" stop-color="#514dff"/><stop offset="0.276" stop-color="#a2a1ff"/><stop offset="0.343" stop-color="#fdfdff"/><stop offset="0.355" stop-color="#ffeeee"/><stop offset="0.400" stop-color="#ff9e9e"/><stop offset="0.461" stop-color="#ff5050"/><stop offset="0.478" stop-color="#ff3333"/><stop offset="0.495" stop-color="#ff2323"/><stop offset="0.501" stop-color="#ff2525"/><stop offset="0.540" stop-color="#ff6565"/><stop offset="0.563" stop-color="#ff9999"/><stop offset="0.574" stop-color="#ffc3c3"/><stop offset="0.585" stop-color="#fff5f5"/><stop offset="0.591" stop-color="#f9f9ff"/><stop offset="0.642" stop-color="#9d9cff"/><stop offset="0.687" stop-color="#3c38ff"/><stop offset="1.000" stop-color="#2a26ff"/></linearGradient><linearGradient id="gb42" gradientUnits="userSpaceOnUse" x1="52" x2="229.7" y1="0" y2="0"><stop offset="0.000" stop-color="#2a26ff"/><stop offset="0.191" stop-color="#3c38ff"/><stop offset="0.219" stop-color="#4643ff"/><stop offset="0.343" stop-color="#f8f8ff"/><stop offset="0.349" stop-color="#fffdfd"/><stop offset="0.394" stop-color="#ffa8a8"/><stop offset="0.467" stop-color="#ff5252"/><stop offset="0.495" stop-color="#ff2020"/><stop offset="0.501" stop-color="#ff2020"/><stop offset="0.540" stop-color="#ff6060"/><stop offset="0.568" stop-color="#ffa6a6"/><stop offset="0.585" stop-color="#fff2f2"/><stop offset="0.591" stop-color="#fafaff"/><stop offset="0.642" stop-color="#9d9cff"/><stop offset="0.687" stop-color="#3c38ff"/><stop offset="1.000" stop-color="#2a26ff"/></linearGradient><linearGradient id="gb43" gradientUnits="userSpaceOnUse" x1="52" x2="229.7" y1="0" y2="0"><stop offset="0.000" stop-color="#2a26ff"/><stop offset="0.219" stop-color="#3b38ff"/><stop offset="0.349" stop-color="#fdfcff"/><stop offset="0.360" stop-color="#ffecec"/><stop offset="0.394" stop-color="#ffabab"/><stop offset="0.467" stop-color="#ff5c5c"/><stop offset="0.495" stop-color="#ff1c1c"/><stop offset="0.501" stop-color="#ff1b1b"/><stop offset="0.540" stop-color="#ff5c5c"/><stop offset="0.568" stop-color="#ffa2a2"/><stop offset="0.585" stop-color="#ffefef"/><stop offset="0.591" stop-color="#fbfbff"/><stop offset="0.642" stop-color="#9d9cff"/><stop offset="0.687" stop-color="#3c38ff"/><stop offset="1.000" stop-color="#2a26ff"/></linearGradient><linearGradient id="gb44" gradientUnits="userSpaceOnUse" x1="52" x2="229.7" y1="0" y2="0"><stop offset="0.000" stop-color="#2a26ff"/><stop offset="0.219" stop-color="#3b38ff"/><stop offset="0.349" stop-color="#f8f7ff"/><stop offset="0.355" stop-color="#fffdfd"/><stop offset="0.394" stop-color="#ffb3b3"/><stop offset="0.467" stop-color="#ff5d5d"/><stop offset="0.495" stop-color="#ff2121"/><stop offset="0.501" stop-color="#ff1e1e"/><stop offset="0.518" stop-color="#ff3333"/><stop offset="0.546" stop-color="#ff6767"/><stop offset="0.568" stop-color="#ffa2a2"/><stop offset="0.585" stop-color="#ffefef"/><stop offset="0.591" stop-color="#fbfbff"/><stop offset="0.642" stop-color="#9d9bff"/><stop offset="0.681" stop-color="#4542ff"/><stop offset="0.687" stop-color="#3c38ff"/><stop offset="1.000" stop-color="#2a26ff"/></linearGradient><linearGradient id="gb45" gradientUnits="userSpaceOnUse" x1="52" x2="229.7" y1="0" y2="0"><stop offset="0.000" stop-color="#2a26ff"/><stop offset="0.219" stop-color="#3b38ff"/><stop offset="0.355" stop-color="#fbfbff"/><stop offset="0.360" stop-color="#fffafa"/><stop offset="0.400" stop-color="#ffb3b3"/><stop offset="0.467" stop-color="#ff5f5f"/><stop offset="0.495" stop-color="#ff2525"/><stop offset="0.501" stop-color="#ff2020"/><stop offset="0.512" stop-color="#ff2525"/><stop offset="0.546" stop-color="#ff6565"/><stop offset="0.568" stop-color="#ffa2a2"/><stop offset="0.585" stop-color="#ffefef"/><stop offset="0.591" stop-color="#fbfbff"/><stop offset="0.642" stop-color="#9d9bff"/><stop offset="0.681" stop-color="#433fff"/><stop offset="0.687" stop-color="#3b38ff"/><stop offset="1.000" stop-color="#2a26ff"/></linearGradient><linearGradient id="gb46" gradientUnits="userSpaceOnUse" x1="52" x2="229.7" y1="0" y2="0"><stop offset="0.000" stop-color="#2a26ff"/><stop offset="0.219" stop-color="#3b38ff"/><stop offset="0.360" stop-color="#fefeff"/><stop offset="0.383" stop-color="#ffd9d9"/><stop offset="0.416" stop-color="#ffa0a0"/><stop offset="0.473" stop-color="#ff5656"/><stop offset="0.495" stop-color="#ff2a2a"/><stop offset="0.506" stop-color="#ff2222"/><stop offset="0.512" stop-color="#ff2121"/><stop offset="0.546" stop-color="#ff6262"/><stop offset="0.568" stop-color="#ffa2a2"/><stop offset="0.585" stop-color="#ffefef"/><stop offset="0.591" stop-color="#fbfbff"/><stop offset="0.642" stop-color="#9d9bff"/><stop offset="0.681" stop-color="#413dff"/><stop offset="0.692" stop-color="#3b37ff"/><stop offset="1.000" stop-color="#2a26ff"/></linearGradient><linearGradient id="gb47" gradientUnits="userSpaceOnUse" x1="52" x2="229.7" y1="0" y2="0"><stop offset="0.000" stop-color="#2a26ff"/><stop offset="0.219" stop-color="#3b38ff"/><stop offset="0.366" stop-color="#fffefe"/><stop offset="0.422" stop-color="#ff9d9d"/><stop offset="0.473" stop-color="#ff5959"/><stop offset="0.501" stop-color="#ff2626"/><stop offset="0.512" stop-color="#ff1c1c"/><stop offset="0.546" stop-color="#ff6060"/><stop offset="0.568" stop-color="#ffa2a2"/><stop offset="0.585" stop-color="#ffefef"/><stop offset="0.591" stop-color="#fbfbff"/><stop offset="0.636" stop-color="#aaa8ff"/><stop offset="0.681" stop-color="#3e3bff"/><stop offset="0.709" stop-color="#3a36ff"/><stop offset="1.000" stop-color="#2a26ff"/></linearGradient><linearGradient id="gb48" gradientUnits="userSpaceOnUse" x1="52" x2="229.7" y1="0" y2="0"><stop offset="0.000" stop-color="#2a26ff"/><stop offset="0.219" stop-color="#3b38ff"/><stop offset="0.366" stop-color="#f9f9ff"/><stop offset="0.371" stop-color="#fffefe"/><stop offset="0.422" stop-color="#ffa2a2"/><stop offset="0.478" stop-color="#ff5151"/><stop offset="0.512" stop-color="#ff1818"/><stop offset="0.546" stop-color="#ff5d5d"/><stop offset="0.568" stop-color="#ffa2a2"/><stop offset="0.585" stop-color="#ffefef"/><stop offset="0.591" stop-color="#fbfbff"/><stop offset="0.636" stop-color="#aaa8ff"/><stop offset="0.681" stop-color="#3c38ff"/><stop offset="1.000" stop-color="#2a26ff"/></linearGradient><linearGradient id="gb49" gradientUnits="userSpaceOnUse" x1="52" x2="229.7" y1="0" y2="0"><stop offset="0.000" stop-color="#2a26ff"/><stop offset="0.219" stop-color="#3b38ff"/><stop offset="0.360" stop-color="#f1f0ff"/><stop offset="0.371" stop-color="#ffffff"/><stop offset="0.422" stop-color="#ffa3a3"/><stop offset="0.478" stop-color="#ff5252"/><stop offset="0.512" stop-color="#ff1919"/><stop offset="0.535" stop-color="#ff4242"/><stop offset="0.546" stop-color="#ff5a5a"/><stop offset="0.568" stop-color="#ffa0a0"/><stop offset="0.585" stop-color="#ffeded"/><stop offset="0.591" stop-color="#fcfcff"/><stop offset="0.636" stop-color="#aaa8ff"/><stop offset="0.681" stop-color="#3b38ff"/><stop offset="1.000" stop-color="#2a26ff"/></linearGradient><linearGradient id="gb50" gradientUnits="userSpaceOnUse" x1="52" x2="229.7" y1="0" y2="0"><stop offset="0.000" stop-color="#2a26ff"/><stop offset="0.219" stop-color="#3b37ff"/><stop offset="0.242" stop-color="#5451ff"/><stop offset="0.315" stop-color="#bab9ff"/><stop offset="0.371" stop-color="#fffdfd"/><stop offset="0.422" stop-color="#ffa3a3"/><stop offset="0.484" stop-color="#ff4949"/><stop offset="0.512" stop-color="#ff1c1c"/><stop offset="0.523" stop-color="#ff2727"/><stop offset="0.551" stop-color="#ff6868"/><stop offset="0.568" stop-color="#ff9d9d"/><stop offset="0.585" stop-color="#ffeaea"/><stop offset="0.591" stop-color="#fefeff"/><stop offset="0.636" stop-color="#aaa8ff"/><stop offset="0.681" stop-color="#3b38ff"/><stop offset="1.000" stop-color="#2a26ff"/></linearGradient><linearGradient id="gb51" gradientUnits="userSpaceOnUse" x1="52" x2="229.7" y1="0" y2="0"><stop offset="0.000" stop-color="#2a26ff"/><stop offset="0.219" stop-color="#3b37ff"/><stop offset="0.236" stop-color="#4945ff"/><stop offset="0.310" stop-color="#b4b3ff"/><stop offset="0.366" stop-color="#fbfbff"/><stop offset="0.371" stop-color="#fffbfb"/><stop offset="0.422" stop-color="#ffa3a3"/><stop offset="0.501" stop-color="#ff3030"/><stop offset="0.512" stop-color="#ff1f1f"/><stop offset="0.523" stop-color="#ff2323"/><stop offset="0.551" stop-color="#ff6565"/><stop offset="0.568" stop-color="#ff9999"/><stop offset="0.580" stop-color="#ffcbcb"/><stop offset="0.591" stop-color="#fffefe"/><stop offset="0.642" stop-color="#9c9aff"/><stop offset="0.681" stop-color="#3b38ff"/><stop offset="1.000" stop-color="#2a26ff"/></linearGradient><linearGradient id="gb52" gradientUnits="userSpaceOnUse" x1="52" x2="229.7" y1="0" y2="0"><stop offset="0.000" stop-color="#2a26ff"/><stop offset="0.225" stop-color="#3d39ff"/><stop offset="0.242" stop-color="#4e4bff"/><stop offset="0.304" stop-color="#afadff"/><stop offset="0.366" stop-color="#fcfcff"/><stop offset="0.377" stop-color="#fff0f0"/><stop offset="0.428" stop-color="#ff9b9b"/><stop offset="0.512" stop-color="#ff2121"/><stop offset="0.523" stop-color="#ff1f1f"/><stop offset="0.546" stop-color="#ff5252"/><stop offset="0.568" stop-color="#ff9696"/><stop offset="0.580" stop-color="#ffc6c6"/><stop offset="0.591" stop-color="#fffdfd"/><stop offset="0.642" stop-color="#9c9aff"/><stop offset="0.681" stop-color="#3b38ff"/><stop offset="1.000" stop-color="#2a26ff"/></linearGradient><linearGradient id="gb53" gradientUnits="userSpaceOnUse" x1="52" x2="229.7" y1="0" y2="0"><stop offset="0.000" stop-color="#2a26ff"/><stop offset="0.231" stop-color="#3d39ff"/><stop offset="0.248" stop-color="#5552ff"/><stop offset="0.304" stop-color="#b0aeff"/><stop offset="0.366" stop-color="#fefeff"/><stop offset="0.433" stop-color="#ff9393"/><stop offset="0.518" stop-color="#ff1f1f"/><stop offset="0.523" stop-color="#ff1b1b"/><stop offset="0.546" stop-color="#ff4f4f"/><stop offset="0.574" stop-color="#ffa6a6"/><stop offset="0.591" stop-color="#fffbfb"/><stop offset="0.602" stop-color="#ebeaff"/><stop offset="0.642" stop-color="#9c9aff"/><stop offset="0.681" stop-color="#3b38ff"/><stop offset="1.000" stop-color="#2a26ff"/></linearGradient><linearGradient id="gb54" gradientUnits="userSpaceOnUse" x1="52" x2="229.7" y1="0" y2="0"><stop offset="0.000" stop-color="#2a26ff"/><stop offset="0.231" stop-color="#3c38ff"/><stop offset="0.242" stop-color="#4b47ff"/><stop offset="0.304" stop-color="#b2b0ff"/><stop offset="0.366" stop-color="#fffdfd"/><stop offset="0.428" stop-color="#ff9a9a"/><stop offset="0.523" stop-color="#ff1818"/><stop offset="0.535" stop-color="#ff2f2f"/><stop offset="0.563" stop-color="#ff7d7d"/><stop offset="0.574" stop-color="#ffa1a1"/><stop offset="0.591" stop-color="#fff8f8"/><stop offset="0.597" stop-color="#f7f6ff"/><stop offset="0.642" stop-color="#9d9bff"/><stop offset="0.681" stop-color="#3d39ff"/><stop offset="1.000" stop-color="#2a26ff"/></linearGradient><linearGradient id="gb55" gradientUnits="userSpaceOnUse" x1="52" x2="229.7" y1="0" y2="0"><stop offset="0.000" stop-color="#2a26ff"/><stop offset="0.225" stop-color="#3d39ff"/><stop offset="0.236" stop-color="#4542ff"/><stop offset="0.304" stop-color="#b6b4ff"/><stop offset="0.360" stop-color="#fffefe"/><stop offset="0.428" stop-color="#ff9797"/><stop offset="0.523" stop-color="#ff1a1a"/><stop offset="0.535" stop-color="#ff2b2b"/><stop offset="0.563" stop-color="#ff7777"/><stop offset="0.574" stop-color="#ff9d9d"/><stop offset="0.591" stop-color="#fff4f4"/><stop offset="0.597" stop-color="#f8f8ff"/><stop offset="0.642" stop-color="#9f9dff"/><stop offset="0.681" stop-color="#4541ff"/><stop offset="0.709" stop-color="#3a36ff"/><stop offset="1.000" stop-color="#2a26ff"/></linearGradient><linearGradient id="gb56" gradientUnits="userSpaceOnUse" x1="52" x2="229.7" y1="0" y2="0"><stop offset="0.000" stop-color="#2a26ff"/><stop offset="0.219" stop-color="#3b37ff"/><stop offset="0.236" stop-color="#4946ff"/><stop offset="0.310" stop-color="#c1c0ff"/><stop offset="0.355" stop-color="#ffffff"/><stop offset="0.416" stop-color="#ffa2a2"/><stop offset="0.523" stop-color="#ff1c1c"/><stop offset="0.535" stop-color="#ff2626"/><stop offset="0.563" stop-color="#ff7070"/><stop offset="0.574" stop-color="#ff9898"/><stop offset="0.591" stop-color="#fff0f0"/><stop offset="0.597" stop-color="#faf9ff"/><stop offset="0.647" stop-color="#9594ff"/><stop offset="0.681" stop-color="#4c49ff"/><stop offset="0.703" stop-color="#3a37ff"/><stop offset="1.000" stop-color="#2a26ff"/></linearGradient><linearGradient id="gb57" gradientUnits="userSpaceOnUse" x1="52" x2="229.7" y1="0" y2="0"><stop offset="0.000" stop-color="#2a26ff"/><stop offset="0.219" stop-color="#3b37ff"/><stop offset="0.242" stop-color="#5754ff"/><stop offset="0.315" stop-color="#cecdff"/><stop offset="0.349" stop-color="#fefeff"/><stop offset="0.405" stop-color="#ffacac"/><stop offset="0.523" stop-color="#ff1e1e"/><stop offset="0.535" stop-color="#ff2222"/><stop offset="0.563" stop-color="#ff6a6a"/><stop offset="0.580" stop-color="#ffadad"/><stop offset="0.591" stop-color="#ffebeb"/><stop offset="0.597" stop-color="#fbfbff"/><stop offset="0.664" stop-color="#7674ff"/><stop offset="0.681" stop-color="#5350ff"/><stop offset="0.703" stop-color="#3b37ff"/><stop offset="1.000" stop-color="#2a26ff"/></linearGradient><linearGradient id="gb58" gradientUnits="userSpaceOnUse" x1="52" x2="229.7" y1="0" y2="0"><stop offset="0.000" stop-color="#2a26ff"/><stop offset="0.219" stop-color="#3b38ff"/><stop offset="0.253" stop-color="#6e6bff"/><stop offset="0.343" stop-color="#fdfdff"/><stop offset="0.360" stop-color="#ffe8e8"/><stop offset="0.400" stop-color="#ffacac"/><stop offset="0.523" stop-color="#ff2020"/><stop offset="0.535" stop-color="#ff1e1e"/><stop offset="0.563" stop-color="#ff6464"/><stop offset="0.580" stop-color="#ffa8a8"/><stop offset="0.591" stop-color="#ffe7e7"/><stop offset="0.597" stop-color="#fdfdff"/><stop offset="0.687" stop-color="#5350ff"/><stop offset="0.703" stop-color="#3b37ff"/><stop offset="1.000" stop-color="#2a26ff"/></linearGradient><linearGradient id="gb59" gradientUnits="userSpaceOnUse" x1="52" x2="229.7" y1="0" y2="0"><stop offset="0.000" stop-color="#2a26ff"/><stop offset="0.219" stop-color="#3b38ff"/><stop offset="0.338" stop-color="#fbfbff"/><stop offset="0.343" stop-color="#fffbfb"/><stop offset="0.400" stop-color="#ffa6a6"/><stop offset="0.495" stop-color="#ff4242"/><stop offset="0.529" stop-color="#ff1b1b"/><stop offset="0.535" stop-color="#ff1919"/><stop offset="0.563" stop-color="#ff5d5d"/><stop offset="0.580" stop-color="#ffa3a3"/><stop offset="0.591" stop-color="#ffe3e3"/><stop offset="0.597" stop-color="#fefeff"/><stop offset="0.703" stop-color="#3b37ff"/><stop offset="1.000" stop-color="#2a26ff"/></linearGradient><linearGradient id="gb60" gradientUnits="userSpaceOnUse" x1="52" x2="229.7" y1="0" y2="0"><stop offset="0.000" stop-color="#2a26ff"/><stop offset="0.219" stop-color="#3b38ff"/><stop offset="0.343" stop-color="#ffffff"/><stop offset="0.400" stop-color="#ffabab"/><stop offset="0.529" stop-color="#ff1c1c"/><stop offset="0.535" stop-color="#ff1919"/><stop offset="0.563" stop-color="#ff5a5a"/><stop offset="0.580" stop-color="#ff9e9e"/><stop offset="0.597" stop-color="#fffafa"/><stop offset="0.602" stop-color="#f6f6ff"/><stop offset="0.670" stop-color="#7775ff"/><stop offset="0.703" stop-color="#3b37ff"/><stop offset="1.000" stop-color="#2a26ff"/></linearGradient><linearGradient id="gb61" gradientUnits="userSpaceOnUse" x1="52" x2="229.7" y1="0" y2="0"><stop offset="0.000" stop-color="#2a26ff"/><stop offset="0.219" stop-color="#3b38ff"/><stop offset="0.310" stop-color="#c8c7ff"/><stop offset="0.343" stop-color="#f9f9ff"/><stop offset="0.349" stop-color="#fffdfd"/><stop offset="0.405" stop-color="#ffaaaa"/><stop offset="0.535" stop-color="#ff1919"/><stop offset="0.563" stop-color="#ff5858"/><stop offset="0.580" stop-color="#ff9a9a"/><stop offset="0.597" stop-color="#fff3f3"/><stop offset="0.602" stop-color="#f9f9ff"/><stop offset="0.658" stop-color="#8c89ff"/><stop offset="0.703" stop-color="#3b37ff"/><stop offset="1.000" stop-color="#2a26ff"/></linearGradient><linearGradient id="gb62" gradientUnits="userSpaceOnUse" x1="52" x2="229.7" y1="0" y2="0"><stop offset="0.000" stop-color="#2a26ff"/><stop offset="0.219" stop-color="#3b38ff"/><stop offset="0.310" stop-color="#c5c4ff"/><stop offset="0.349" stop-color="#fafaff"/><stop offset="0.355" stop-color="#fffcfc"/><stop offset="0.411" stop-color="#ffa8a8"/><stop offset="0.512" stop-color="#ff3030"/><stop offset="0.535" stop-color="#ff1919"/><stop offset="0.546" stop-color="#ff2e2e"/><stop offset="0.563" stop-color="#ff5555"/><stop offset="0.574" stop-color="#ff7e7e"/><stop offset="0.585" stop-color="#ffb1b1"/><stop offset="0.597" stop-color="#ffeded"/><stop offset="0.602" stop-color="#fcfcff"/><stop offset="0.647" stop-color="#a09eff"/><stop offset="0.703" stop-color="#3b37ff"/><stop offset="1.000" stop-color="#2a26ff"/></linearGradient><linearGradient id="gb63" gradientUnits="userSpaceOnUse" x1="52" x2="229.7" y1="0" y2="0"><stop offset="0.000" stop-color="#2a26ff"/><stop offset="0.219" stop-color="#3b38ff"/><stop offset="0.304" stop-color="#bbbaff"/><stop offset="0.355" stop-color="#fbfbff"/><stop offset="0.360" stop-color="#fffbfb"/><stop offset="0.428" stop-color="#ff9696"/><stop offset="0.495" stop-color="#ff4343"/><stop offset="0.535" stop-color="#ff1919"/><stop offset="0.540" stop-color="#ff1f1f"/><stop offset="0.568" stop-color="#ff6363"/><stop offset="0.585" stop-color="#ffabab"/><stop offset="0.597" stop-color="#ffe6e6"/><stop offset="0.602" stop-color="#fffefe"/><stop offset="0.647" stop-color="#a09eff"/><stop offset="0.703" stop-color="#3b37ff"/><stop offset="1.000" stop-color="#2a26ff"/></linearGradient><linearGradient id="gb64" gradientUnits="userSpaceOnUse" x1="52" x2="229.7" y1="0" y2="0"><stop offset="0.000" stop-color="#2a26ff"/><stop offset="0.219" stop-color="#3b38ff"/><stop offset="0.298" stop-color="#b1b0ff"/><stop offset="0.360" stop-color="#fcfcff"/><stop offset="0.366" stop-color="#fffbfb"/><stop offset="0.428" stop-color="#ff9a9a"/><stop offset="0.484" stop-color="#ff5050"/><stop offset="0.535" stop-color="#ff1919"/><stop offset="0.540" stop-color="#ff1d1d"/><stop offset="0.568" stop-color="#ff5e5e"/><stop offset="0.585" stop-color="#ffa5a5"/><stop offset="0.602" stop-color="#fffbfb"/><stop offset="0.613" stop-color="#e8e7ff"/><stop offset="0.647" stop-color="#a09eff"/><stop offset="0.703" stop-color="#3b37ff"/><stop offset="1.000" stop-color="#2a26ff"/></linearGradient><linearGradient id="gb65" gradientUnits="userSpaceOnUse" x1="52" x2="229.7" y1="0" y2="0"><stop offset="0.000" stop-color="#2a26ff"/><stop offset="0.219" stop-color="#3b38ff"/><stop offset="0.298" stop-color="#b0aeff"/><stop offset="0.366" stop-color="#fefeff"/><stop offset="0.433" stop-color="#ff9595"/><stop offset="0.478" stop-color="#ff5656"/><stop offset="0.535" stop-color="#ff1a1a"/><stop offset="0.540" stop-color="#ff1c1c"/><stop offset="0.568" stop-color="#ff5b5b"/><stop offset="0.585" stop-color="#ffa0a0"/><stop offset="0.602" stop-color="#fff9f9"/><stop offset="0.608" stop-color="#f5f5ff"/><stop offset="0.647" stop-color="#a09eff"/><stop offset="0.703" stop-color="#3b37ff"/><stop offset="1.000" stop-color="#2a26ff"/></linearGradient><linearGradient id="gb66" gradientUnits="userSpaceOnUse" x1="52" x2="229.7" y1="0" y2="0"><stop offset="0.000" stop-color="#2a26ff"/><stop offset="0.219" stop-color="#3b38ff"/><stop offset="0.298" stop-color="#aeadff"/><stop offset="0.366" stop-color="#fbfbff"/><stop offset="0.371" stop-color="#fffbfb"/><stop offset="0.456" stop-color="#ff7575"/><stop offset="0.484" stop-color="#ff5050"/><stop offset="0.535" stop-color="#ff1b1b"/><stop offset="0.540" stop-color="#ff1b1b"/><stop offset="0.568" stop-color="#ff5959"/><stop offset="0.585" stop-color="#ff9c9c"/><stop offset="0.597" stop-color="#ffd8d8"/><stop offset="0.602" stop-color="#fff8f8"/><stop offset="0.608" stop-color="#f5f5ff"/><stop offset="0.653" stop-color="#9492ff"/><stop offset="0.692" stop-color="#4a46ff"/><stop offset="0.703" stop-color="#3b37ff"/><stop offset="1.000" stop-color="#2a26ff"/></linearGradient><linearGradient id="gb67" gradientUnits="userSpaceOnUse" x1="52" x2="229.7" y1="0" y2="0"><stop offset="0.000" stop-color="#2a26ff"/><stop offset="0.219" stop-color="#3b38ff"/><stop offset="0.304" stop-color="#b4b2ff"/><stop offset="0.371" stop-color="#fffefe"/><stop offset="0.473" stop-color="#ff5c5c"/><stop offset="0.535" stop-color="#ff1c1c"/><stop offset="0.540" stop-color="#ff1b1b"/><stop offset="0.551" stop-color="#ff3030"/><stop offset="0.568" stop-color="#ff5656"/><stop offset="0.585" stop-color="#ff9797"/><stop offset="0.591" stop-color="#ffb2b2"/><stop offset="0.602" stop-color="#fff8f8"/><stop offset="0.608" stop-color="#f5f5ff"/><stop offset="0.658" stop-color="#8886ff"/><stop offset="0.692" stop-color="#4642ff"/><stop offset="0.703" stop-color="#3b37ff"/><stop offset="1.000" stop-color="#2a26ff"/></linearGradient><linearGradient id="gb68" gradientUnits="userSpaceOnUse" x1="52" x2="229.7" y1="0" y2="0"><stop offset="0.000" stop-color="#2a26ff"/><stop offset="0.219" stop-color="#3b38ff"/><stop offset="0.304" stop-color="#b2b1ff"/><stop offset="0.371" stop-color="#fcfcff"/><stop offset="0.377" stop-color="#fffbfb"/><stop offset="0.473" stop-color="#ff5c5c"/><stop offset="0.540" stop-color="#ff1a1a"/><stop offset="0.551" stop-color="#ff2d2d"/><stop offset="0.574" stop-color="#ff6464"/><stop offset="0.591" stop-color="#ffacac"/><stop offset="0.602" stop-color="#fff7f7"/><stop offset="0.608" stop-color="#f5f5ff"/><stop offset="0.670" stop-color="#706dff"/><stop offset="0.692" stop-color="#423fff"/><stop offset="0.709" stop-color="#3a37ff"/><stop offset="1.000" stop-color="#2a26ff"/></linearGradient><linearGradient id="gb69" gradientUnits="userSpaceOnUse" x1="52" x2="229.7" y1="0" y2="0"><stop offset="0.000" stop-color="#2a26ff"/><stop offset="0.219" stop-color="#3b38ff"/><stop offset="0.304" stop-color="#b1afff"/><stop offset="0.377" stop-color="#ffffff"/><stop offset="0.473" stop-color="#ff5c5c"/><stop offset="0.540" stop-color="#ff1919"/><stop offset="0.546" stop-color="#ff1e1e"/><stop offset="0.574" stop-color="#ff6060"/><stop offset="0.591" stop-color="#ffa7a7"/><stop offset="0.602" stop-color="#fff7f7"/><stop offset="0.608" stop-color="#f5f5ff"/><stop offset="0.692" stop-color="#3e3bff"/><stop offset="0.805" stop-color="#3531ff"/><stop offset="1.000" stop-color="#2a26ff"/></linearGradient><linearGradient id="gb70" gradientUnits="userSpaceOnUse" x1="52" x2="229.7" y1="0" y2="0"><stop offset="0.000" stop-color="#2a26ff"/><stop offset="0.219" stop-color="#3b38ff"/><stop offset="0.304" stop-color="#b0aeff"/><stop offset="0.377" stop-color="#fcfcff"/><stop offset="0.383" stop-color="#fffafa"/><stop offset="0.473" stop-color="#ff5c5c"/><stop offset="0.540" stop-color="#ff1919"/><stop offset="0.546" stop-color="#ff1c1c"/><stop offset="0.574" stop-color="#ff5c5c"/><stop offset="0.591" stop-color="#ffa2a2"/><stop offset="0.602" stop-color="#fff7f7"/><stop offset="0.608" stop-color="#f5f5ff"/><stop offset="0.692" stop-color="#3b37ff"/><stop offset="1.000" stop-color="#2a26ff"/></linearGradient><linearGradient id="cba" x1="0" y1="1" x2="0" y2="0"><stop offset="0" stop-color="#0000ff"/><stop offset="0.25" stop-color="#00f7ff"/><stop offset="0.5" stop-color="#00ff0f"/><stop offset="0.75" stop-color="#e8ff00"/><stop offset="1" stop-color="#ff1f00"/></linearGradient><linearGradient id="cbb" x1="0" y1="1" x2="0" y2="0"><stop offset="0" stop-color="#2a26ff"/><stop offset="0.5" stop-color="#ffffff"/><stop offset="1" stop-color="#ff1616"/></linearGradient></defs>
<rect x="0" y="0" width="685" height="379" fill="#fff"/>
<rect x="52" y="23" width="177.7" height="2" fill="url(#ga0)"/>
<rect x="52" y="23" width="177.7" height="2" fill="url(#ga1)" mask="url(#fm)"/>
<rect x="52" y="25" width="177.7" height="2" fill="url(#ga1)"/>
<rect x="52" y="25" width="177.7" height="2" fill="url(#ga2)" mask="url(#fm)"/>
<rect x="52" y="27" width="177.7" height="2" fill="url(#ga2)"/>
<rect x="52" y="27" width="177.7" height="2" fill="url(#ga3)" mask="url(#fm)"/>
<rect x="52" y="29" width="177.7" height="2" fill="url(#ga3)"/>
<rect x="52" y="29" width="177.7" height="2" fill="url(#ga4)" mask="url(#fm)"/>
<rect x="52" y="31" width="177.7" height="2" fill="url(#ga4)"/>
<rect x="52" y="31" width="177.7" height="2" fill="url(#ga5)" mask="url(#fm)"/>
<rect x="52" y="33" width="177.7" height="2" fill="url(#ga5)"/>
<rect x="52" y="33" width="177.7" height="2" fill="url(#ga6)" mask="url(#fm)"/>
<rect x="52" y="35" width="177.7" height="2" fill="url(#ga6)"/>
<rect x="52" y="35" width="177.7" height="2" fill="url(#ga7)" mask="url(#fm)"/>
<rect x="52" y="37" width="177.7" height="2" fill="url(#ga7)"/>
<rect x="52" y="37" width="177.7" height="2" fill="url(#ga8)" mask="url(#fm)"/>
<rect x="52" y="39" width="177.7" height="2" fill="url(#ga8)"/>
<rect x="52" y="39" width="177.7" height="2" fill="url(#ga9)" mask="url(#fm)"/>
<rect x="52" y="41" width="177.7" height="2" fill="url(#ga9)"/>
<rect x="52" y="41" width="177.7" height="2" fill="url(#ga10)" mask="url(#fm)"/>
<rect x="52" y="43" width="177.7" height="2" fill="url(#ga10)"/>
<rect x="52" y="43" width="177.7" height="2" fill="url(#ga11)" mask="url(#fm)"/>
<rect x="52" y="45" width="177.7" height="2" fill="url(#ga11)"/>
<rect x="52" y="45" width="177.7" height="2" fill="url(#ga12)" mask="url(#fm)"/>
<rect x="52" y="47" width="177.7" height="2" fill="url(#ga12)"/>
<rect x="52" y="47" width="177.7" height="2" fill="url(#ga13)" mask="url(#fm)"/>
<rect x="52" y="49" width="177.7" height="2" fill="url(#ga13)"/>
<rect x="52" y="49" width="177.7" height="2" fill="url(#ga14)" mask="url(#fm)"/>
<rect x="52" y="51" width="177.7" height="2" fill="url(#ga14)"/>
<rect x="52" y="51" width="177.7" height="2" fill="url(#ga15)" mask="url(#fm)"/>
<rect x="52" y="53" width="177.7" height="2" fill="url(#ga15)"/>
<rect x="52" y="53" width="177.7" height="2" fill="url(#ga16)" mask="url(#fm)"/>
<rect x="52" y="55" width="177.7" height="2" fill="url(#ga16)"/>
<rect x="52" y="55" width="177.7" height="2" fill="url(#ga17)" mask="url(#fm)"/>
<rect x="52" y="57" width="177.7" height="2" fill="url(#ga17)"/>
<rect x="52" y="57" width="177.7" height="2" fill="url(#ga18)" mask="url(#fm)"/>
<rect x="52" y="59" width="177.7" height="2" fill="url(#ga18)"/>
<rect x="52" y="59" width="177.7" height="2" fill="url(#ga19)" mask="url(#fm)"/>
<rect x="52" y="61" width="177.7" height="2" fill="url(#ga19)"/>
<rect x="52" y="61" width="177.7" height="2" fill="url(#ga20)" mask="url(#fm)"/>
<rect x="52" y="63" width="177.7" height="2" fill="url(#ga20)"/>
<rect x="52" y="63" width="177.7" height="2" fill="url(#ga21)" mask="url(#fm)"/>
<rect x="52" y="65" width="177.7" height="2" fill="url(#ga21)"/>
<rect x="52" y="65" width="177.7" height="2" fill="url(#ga22)" mask="url(#fm)"/>
<rect x="52" y="67" width="177.7" height="2" fill="url(#ga22)"/>
<rect x="52" y="67" width="177.7" height="2" fill="url(#ga23)" mask="url(#fm)"/>
<rect x="52" y="69" width="177.7" height="2" fill="url(#ga23)"/>
<rect x="52" y="69" width="177.7" height="2" fill="url(#ga24)" mask="url(#fm)"/>
<rect x="52" y="71" width="177.7" height="2" fill="url(#ga24)"/>
<rect x="52" y="71" width="177.7" height="2" fill="url(#ga25)" mask="url(#fm)"/>
<rect x="52" y="73" width="177.7" height="2" fill="url(#ga25)"/>
<rect x="52" y="73" width="177.7" height="2" fill="url(#ga26)" mask="url(#fm)"/>
<rect x="52" y="75" width="177.7" height="2" fill="url(#ga26)"/>
<rect x="52" y="75" width="177.7" height="2" fill="url(#ga27)" mask="url(#fm)"/>
<rect x="52" y="77" width="177.7" height="2" fill="url(#ga27)"/>
<rect x="52" y="77" width="177.7" height="2" fill="url(#ga28)" mask="url(#fm)"/>
<rect x="52" y="79" width="177.7" height="2" fill="url(#ga28)"/>
<rect x="52" y="79" width="177.7" height="2" fill="url(#ga29)" mask="url(#fm)"/>
<rect x="52" y="81" width="177.7" height="2" fill="url(#ga29)"/>
<rect x="52" y="81" width="177.7" height="2" fill="url(#ga30)" mask="url(#fm)"/>
<rect x="52" y="83" width="177.7" height="2" fill="url(#ga30)"/>
<rect x="52" y="83" width="177.7" height="2" fill="url(#ga31)" mask="url(#fm)"/>
<rect x="52" y="85" width="177.7" height="2" fill="url(#ga31)"/>
<rect x="52" y="85" width="177.7" height="2" fill="url(#ga32)" mask="url(#fm)"/>
<rect x="52" y="87" width="177.7" height="2" fill="url(#ga32)"/>
<rect x="52" y="87" width="177.7" height="2" fill="url(#ga33)" mask="url(#fm)"/>
<rect x="52" y="89" width="177.7" height="2" fill="url(#ga33)"/>
<rect x="52" y="89" width="177.7" height="2" fill="url(#ga34)" mask="url(#fm)"/>
<rect x="52" y="91" width="177.7" height="2" fill="url(#ga34)"/>
<rect x="52" y="91" width="177.7" height="2" fill="url(#ga35)" mask="url(#fm)"/>
<rect x="52" y="93" width="177.7" height="2" fill="url(#ga35)"/>
<rect x="52" y="93" width="177.7" height="2" fill="url(#ga36)" mask="url(#fm)"/>
<rect x="52" y="95" width="177.7" height="2" fill="url(#ga36)"/>
<rect x="52" y="95" width="177.7" height="2" fill="url(#ga37)" mask="url(#fm)"/>
<rect x="52" y="97" width="177.7" height="2" fill="url(#ga37)"/>
<rect x="52" y="97" width="177.7" height="2" fill="url(#ga38)" mask="url(#fm)"/>
<rect x="52" y="99" width="177.7" height="2" fill="url(#ga38)"/>
<rect x="52" y="99" width="177.7" height="2" fill="url(#ga39)" mask="url(#fm)"/>
<rect x="52" y="101" width="177.7" height="2" fill="url(#ga39)"/>
<rect x="52" y="101" width="177.7" height="2" fill="url(#ga40)" mask="url(#fm)"/>
<rect x="52" y="103" width="177.7" height="2" fill="url(#ga40)"/>
<rect x="52" y="103" width="177.7" height="2" fill="url(#ga41)" mask="url(#fm)"/>
<rect x="52" y="105" width="177.7" height="2" fill="url(#ga41)"/>
<rect x="52" y="105" width="177.7" height="2" fill="url(#ga42)" mask="url(#fm)"/>
<rect x="52" y="107" width="177.7" height="2" fill="url(#ga42)"/>
<rect x="52" y="107" width="177.7" height="2" fill="url(#ga43)" mask="url(#fm)"/>
<rect x="52" y="109" width="177.7" height="2" fill="url(#ga43)"/>
<rect x="52" y="109" width="177.7" height="2" fill="url(#ga44)" mask="url(#fm)"/>
<rect x="52" y="111" width="177.7" height="2" fill="url(#ga44)"/>
<rect x="52" y="111" width="177.7" height="2" fill="url(#ga45)" mask="url(#fm)"/>
<rect x="52" y="113" width="177.7" height="2" fill="url(#ga45)"/>
<rect x="52" y="113" width="177.7" height="2" fill="url(#ga46)" mask="url(#fm)"/>
<rect x="52" y="115" width="177.7" height="2" fill="url(#ga46)"/>
<rect x="52" y="115" width="177.7" height="2" fill="url(#ga47)" mask="url(#fm)"/>
<rect x="52" y="117" width="177.7" height="2" fill="url(#ga47)"/>
<rect x="52" y="117" width="177.7" height="2" fill="url(#ga48)" mask="url(#fm)"/>
<rect x="52" y="119" width="177.7" height="2" fill="url(#ga48)"/>
<rect x="52" y="119" width="177.7" height="2" fill="url(#ga49)" mask="url(#fm)"/>
<rect x="52" y="121" width="177.7" height="2" fill="url(#ga49)"/>
<rect x="52" y="121" width="177.7" height="2" fill="url(#ga50)" mask="url(#fm)"/>
<rect x="52" y="123" width="177.7" height="2" fill="url(#ga50)"/>
<rect x="52" y="123" width="177.7" height="2" fill="url(#ga51)" mask="url(#fm)"/>
<rect x="52" y="125" width="177.7" height="2" fill="url(#ga51)"/>
<rect x="52" y="125" width="177.7" height="2" fill="url(#ga52)" mask="url(#fm)"/>
<rect x="52" y="127" width="177.7" height="2" fill="url(#ga52)"/>
<rect x="52" y="127" width="177.7" height="2" fill="url(#ga53)" mask="url(#fm)"/>
<rect x="52" y="129" width="177.7" height="2" fill="url(#ga53)"/>
<rect x="52" y="129" width="177.7" height="2" fill="url(#ga54)" mask="url(#fm)"/>
<rect x="52" y="131" width="177.7" height="2" fill="url(#ga54)"/>
<rect x="52" y="131" width="177.7" height="2" fill="url(#ga55)" mask="url(#fm)"/>
<rect x="52" y="133" width="177.7" height="2" fill="url(#ga55)"/>
<rect x="52" y="133" width="177.7" height="2" fill="url(#ga56)" mask="url(#fm)"/>
<rect x="52" y="135" width="177.7" height="2" fill="url(#ga56)"/>
<rect x="52" y="135" width="177.7" height="2" fill="url(#ga57)" mask="url(#fm)"/>
<rect x="52" y="137" width="177.7" height="2" fill="url(#ga57)"/>
<rect x="52" y="137" width="177.7" height="2" fill="url(#ga58)" mask="url(#fm)"/>
<rect x="52" y="139" width="177.7" height="2" fill="url(#ga58)"/>
<rect x="52" y="139" width="177.7" height="2" fill="url(#ga59)" mask="url(#fm)"/>
<rect x="52" y="141" width="177.7" height="2" fill="url(#ga59)"/>
<rect x="52" y="141" width="177.7" height="2" fill="url(#ga60)" mask="url(#fm)"/>
<rect x="52" y="143" width="177.7" height="2" fill="url(#ga60)"/>
<rect x="52" y="143" width="177.7" height="2" fill="url(#ga61)" mask="url(#fm)"/>
<rect x="52" y="145" width="177.7" height="2" fill="url(#ga61)"/>
<rect x="52" y="145" width="177.7" height="2" fill="url(#ga62)" mask="url(#fm)"/>
<rect x="52" y="147" width="177.7" height="2" fill="url(#ga62)"/>
<rect x="52" y="147" width="177.7" height="2" fill="url(#ga63)" mask="url(#fm)"/>
<rect x="52" y="149" width="177.7" height="2" fill="url(#ga63)"/>
<rect x="52" y="149" width="177.7" height="2" fill="url(#ga64)" mask="url(#fm)"/>
<rect x="52" y="151" width="177.7" height="2" fill="url(#ga64)"/>
<rect x="52" y="151" width="177.7" height="2" fill="url(#ga65)" mask="url(#fm)"/>
<rect x="52" y="153" width="177.7" height="2" fill="url(#ga65)"/>
<rect x="52" y="153" width="177.7" height="2" fill="url(#ga66)" mask="url(#fm)"/>
<rect x="52" y="155" width="177.7" height="2" fill="url(#ga66)"/>
<rect x="52" y="155" width="177.7" height="2" fill="url(#ga67)" mask="url(#fm)"/>
<rect x="52" y="157" width="177.7" height="2" fill="url(#ga67)"/>
<rect x="52" y="157" width="177.7" height="2" fill="url(#ga68)" mask="url(#fm)"/>
<rect x="52" y="159" width="177.7" height="2" fill="url(#ga68)"/>
<rect x="52" y="159" width="177.7" height="2" fill="url(#ga69)" mask="url(#fm)"/>
<rect x="52" y="161" width="177.7" height="2" fill="url(#ga69)"/>
<rect x="52" y="161" width="177.7" height="2" fill="url(#ga70)" mask="url(#fm)"/>
<rect x="52" y="203" width="177.7" height="2" fill="url(#gb0)"/>
<rect x="52" y="203" width="177.7" height="2" fill="url(#gb1)" mask="url(#fm)"/>
<rect x="52" y="205" width="177.7" height="2" fill="url(#gb1)"/>
<rect x="52" y="205" width="177.7" height="2" fill="url(#gb2)" mask="url(#fm)"/>
<rect x="52" y="207" width="177.7" height="2" fill="url(#gb2)"/>
<rect x="52" y="207" width="177.7" height="2" fill="url(#gb3)" mask="url(#fm)"/>
<rect x="52" y="209" width="177.7" height="2" fill="url(#gb3)"/>
<rect x="52" y="209" width="177.7" height="2" fill="url(#gb4)" mask="url(#fm)"/>
<rect x="52" y="211" width="177.7" height="2" fill="url(#gb4)"/>
<rect x="52" y="211" width="177.7" height="2" fill="url(#gb5)" mask="url(#fm)"/>
<rect x="52" y="213" width="177.7" height="2" fill="url(#gb5)"/>
<rect x="52" y="213" width="177.7" height="2" fill="url(#gb6)" mask="url(#fm)"/>
<rect x="52" y="215" width="177.7" height="2" fill="url(#gb6)"/>
<rect x="52" y="215" width="177.7" height="2" fill="url(#gb7)" mask="url(#fm)"/>
<rect x="52" y="217" width="177.7" height="2" fill="url(#gb7)"/>
<rect x="52" y="217" width="177.7" height="2" fill="url(#gb8)" mask="url(#fm)"/>
<rect x="52" y="219" width="177.7" height="2" fill="url(#gb8)"/>
<rect x="52" y="219" width="177.7" height="2" fill="url(#gb9)" mask="url(#fm)"/>
<rect x="52" y="221" width="177.7" height="2" fill="url(#gb9)"/>
<rect x="52" y="221" width="177.7" height="2" fill="url(#gb10)" mask="url(#fm)"/>
<rect x="52" y="223" width="177.7" height="2" fill="url(#gb10)"/>
<rect x="52" y="223" width="177.7" height="2" fill="url(#gb11)" mask="url(#fm)"/>
<rect x="52" y="225" width="177.7" height="2" fill="url(#gb11)"/>
<rect x="52" y="225" width="177.7" height="2" fill="url(#gb12)" mask="url(#fm)"/>
<rect x="52" y="227" width="177.7" height="2" fill="url(#gb12)"/>
<rect x="52" y="227" width="177.7" height="2" fill="url(#gb13)" mask="url(#fm)"/>
<rect x="52" y="229" width="177.7" height="2" fill="url(#gb13)"/>
<rect x="52" y="229" width="177.7" height="2" fill="url(#gb14)" mask="url(#fm)"/>
<rect x="52" y="231" width="177.7" height="2" fill="url(#gb14)"/>
<rect x="52" y="231" width="177.7" height="2" fill="url(#gb15)" mask="url(#fm)"/>
<rect x="52" y="233" width="177.7" height="2" fill="url(#gb15)"/>
<rect x="52" y="233" width="177.7" height="2" fill="url(#gb16)" mask="url(#fm)"/>
<rect x="52" y="235" width="177.7" height="2" fill="url(#gb16)"/>
<rect x="52" y="235" width="177.7" height="2" fill="url(#gb17)" mask="url(#fm)"/>
<rect x="52" y="237" width="177.7" height="2" fill="url(#gb17)"/>
<rect x="52" y="237" width="177.7" height="2" fill="url(#gb18)" mask="url(#fm)"/>
<rect x="52" y="239" width="177.7" height="2" fill="url(#gb18)"/>
<rect x="52" y="239" width="177.7" height="2" fill="url(#gb19)" mask="url(#fm)"/>
<rect x="52" y="241" width="177.7" height="2" fill="url(#gb19)"/>
<rect x="52" y="241" width="177.7" height="2" fill="url(#gb20)" mask="url(#fm)"/>
<rect x="52" y="243" width="177.7" height="2" fill="url(#gb20)"/>
<rect x="52" y="243" width="177.7" height="2" fill="url(#gb21)" mask="url(#fm)"/>
<rect x="52" y="245" width="177.7" height="2" fill="url(#gb21)"/>
<rect x="52" y="245" width="177.7" height="2" fill="url(#gb22)" mask="url(#fm)"/>
<rect x="52" y="247" width="177.7" height="2" fill="url(#gb22)"/>
<rect x="52" y="247" width="177.7" height="2" fill="url(#gb23)" mask="url(#fm)"/>
<rect x="52" y="249" width="177.7" height="2" fill="url(#gb23)"/>
<rect x="52" y="249" width="177.7" height="2" fill="url(#gb24)" mask="url(#fm)"/>
<rect x="52" y="251" width="177.7" height="2" fill="url(#gb24)"/>
<rect x="52" y="251" width="177.7" height="2" fill="url(#gb25)" mask="url(#fm)"/>
<rect x="52" y="253" width="177.7" height="2" fill="url(#gb25)"/>
<rect x="52" y="253" width="177.7" height="2" fill="url(#gb26)" mask="url(#fm)"/>
<rect x="52" y="255" width="177.7" height="2" fill="url(#gb26)"/>
<rect x="52" y="255" width="177.7" height="2" fill="url(#gb27)" mask="url(#fm)"/>
<rect x="52" y="257" width="177.7" height="2" fill="url(#gb27)"/>
<rect x="52" y="257" width="177.7" height="2" fill="url(#gb28)" mask="url(#fm)"/>
<rect x="52" y="259" width="177.7" height="2" fill="url(#gb28)"/>
<rect x="52" y="259" width="177.7" height="2" fill="url(#gb29)" mask="url(#fm)"/>
<rect x="52" y="261" width="177.7" height="2" fill="url(#gb29)"/>
<rect x="52" y="261" width="177.7" height="2" fill="url(#gb30)" mask="url(#fm)"/>
<rect x="52" y="263" width="177.7" height="2" fill="url(#gb30)"/>
<rect x="52" y="263" width="177.7" height="2" fill="url(#gb31)" mask="url(#fm)"/>
<rect x="52" y="265" width="177.7" height="2" fill="url(#gb31)"/>
<rect x="52" y="265" width="177.7" height="2" fill="url(#gb32)" mask="url(#fm)"/>
<rect x="52" y="267" width="177.7" height="2" fill="url(#gb32)"/>
<rect x="52" y="267" width="177.7" height="2" fill="url(#gb33)" mask="url(#fm)"/>
<rect x="52" y="269" width="177.7" height="2" fill="url(#gb33)"/>
<rect x="52" y="269" width="177.7" height="2" fill="url(#gb34)" mask="url(#fm)"/>
<rect x="52" y="271" width="177.7" height="2" fill="url(#gb34)"/>
<rect x="52" y="271" width="177.7" height="2" fill="url(#gb35)" mask="url(#fm)"/>
<rect x="52" y="273" width="177.7" height="2" fill="url(#gb35)"/>
<rect x="52" y="273" width="177.7" height="2" fill="url(#gb36)" mask="url(#fm)"/>
<rect x="52" y="275" width="177.7" height="2" fill="url(#gb36)"/>
<rect x="52" y="275" width="177.7" height="2" fill="url(#gb37)" mask="url(#fm)"/>
<rect x="52" y="277" width="177.7" height="2" fill="url(#gb37)"/>
<rect x="52" y="277" width="177.7" height="2" fill="url(#gb38)" mask="url(#fm)"/>
<rect x="52" y="279" width="177.7" height="2" fill="url(#gb38)"/>
<rect x="52" y="279" width="177.7" height="2" fill="url(#gb39)" mask="url(#fm)"/>
<rect x="52" y="281" width="177.7" height="2" fill="url(#gb39)"/>
<rect x="52" y="281" width="177.7" height="2" fill="url(#gb40)" mask="url(#fm)"/>
<rect x="52" y="283" width="177.7" height="2" fill="url(#gb40)"/>
<rect x="52" y="283" width="177.7" height="2" fill="url(#gb41)" mask="url(#fm)"/>
<rect x="52" y="285" width="177.7" height="2" fill="url(#gb41)"/>
<rect x="52" y="285" width="177.7" height="2" fill="url(#gb42)" mask="url(#fm)"/>
<rect x="52" y="287" width="177.7" height="2" fill="url(#gb42)"/>
<rect x="52" y="287" width="177.7" height="2" fill="url(#gb43)" mask="url(#fm)"/>
<rect x="52" y="289" width="177.7" height="2" fill="url(#gb43)"/>
<rect x="52" y="289" width="177.7" height="2" fill="url(#gb44)" mask="url(#fm)"/>
<rect x="52" y="291" width="177.7" height="2" fill="url(#gb44)"/>
<rect x="52" y="291" width="177.7" height="2" fill="url(#gb45)" mask="url(#fm)"/>
<rect x="52" y="293" width="177.7" height="2" fill="url(#gb45)"/>
<rect x="52" y="293" width="177.7" height="2" fill="url(#gb46)" mask="url(#fm)"/>
<rect x="52" y="295" width="177.7" height="2" fill="url(#gb46)"/>
<rect x="52" y="295" width="177.7" height="2" fill="url(#gb47)" mask="url(#fm)"/>
<rect x="52" y="297" width="177.7" height="2" fill="url(#gb47)"/>
<rect x="52" y="297" width="177.7" height="2" fill="url(#gb48)" mask="url(#fm)"/>
<rect x="52" y="299" width="177.7" height="2" fill="url(#gb48)"/>
<rect x="52" y="299" width="177.7" height="2" fill="url(#gb49)" mask="url(#fm)"/>
<rect x="52" y="301" width="177.7" height="2" fill="url(#gb49)"/>
<rect x="52" y="301" width="177.7" height="2" fill="url(#gb50)" mask="url(#fm)"/>
<rect x="52" y="303" width="177.7" height="2" fill="url(#gb50)"/>
<rect x="52" y="303" width="177.7" height="2" fill="url(#gb51)" mask="url(#fm)"/>
<rect x="52" y="305" width="177.7" height="2" fill="url(#gb51)"/>
<rect x="52" y="305" width="177.7" height="2" fill="url(#gb52)" mask="url(#fm)"/>
<rect x="52" y="307" width="177.7" height="2" fill="url(#gb52)"/>
<rect x="52" y="307" width="177.7" height="2" fill="url(#gb53)" mask="url(#fm)"/>
<rect x="52" y="309" width="177.7" height="2" fill="url(#gb53)"/>
<rect x="52" y="309" width="177.7" height="2" fill="url(#gb54)" mask="url(#fm)"/>
<rect x="52" y="311" width="177.7" height="2" fill="url(#gb54)"/>
<rect x="52" y="311" width="177.7" height="2" fill="url(#gb55)" mask="url(#fm)"/>
<rect x="52" y="313" width="177.7" height="2" fill="url(#gb55)"/>
<rect x="52" y="313" width="177.7" height="2" fill="url(#gb56)" mask="url(#fm)"/>
<rect x="52" y="315" width="177.7" height="2" fill="url(#gb56)"/>
<rect x="52" y="315" width="177.7" height="2" fill="url(#gb57)" mask="url(#fm)"/>
<rect x="52" y="317" width="177.7" height="2" fill="url(#gb57)"/>
<rect x="52" y="317" width="177.7" height="2" fill="url(#gb58)" mask="url(#fm)"/>
<rect x="52" y="319" width="177.7" height="2" fill="url(#gb58)"/>
<rect x="52" y="319" width="177.7" height="2" fill="url(#gb59)" mask="url(#fm)"/>
<rect x="52" y="321" width="177.7" height="2" fill="url(#gb59)"/>
<rect x="52" y="321" width="177.7" height="2" fill="url(#gb60)" mask="url(#fm)"/>
<rect x="52" y="323" width="177.7" height="2" fill="url(#gb60)"/>
<rect x="52" y="323" width="177.7" height="2" fill="url(#gb61)" mask="url(#fm)"/>
<rect x="52" y="325" width="177.7" height="2" fill="url(#gb61)"/>
<rect x="52" y="325" width="177.7" height="2" fill="url(#gb62)" mask="url(#fm)"/>
<rect x="52" y="327" width="177.7" height="2" fill="url(#gb62)"/>
<rect x="52" y="327" width="177.7" height="2" fill="url(#gb63)" mask="url(#fm)"/>
<rect x="52" y="329" width="177.7" height="2" fill="url(#gb63)"/>
<rect x="52" y="329" width="177.7" height="2" fill="url(#gb64)" mask="url(#fm)"/>
<rect x="52" y="331" width="177.7" height="2" fill="url(#gb64)"/>
<rect x="52" y="331" width="177.7" height="2" fill="url(#gb65)" mask="url(#fm)"/>
<rect x="52" y="333" width="177.7" height="2" fill="url(#gb65)"/>
<rect x="52" y="333" width="177.7" height="2" fill="url(#gb66)" mask="url(#fm)"/>
<rect x="52" y="335" width="177.7" height="2" fill="url(#gb66)"/>
<rect x="52" y="335" width="177.7" height="2" fill="url(#gb67)" mask="url(#fm)"/>
<rect x="52" y="337" width="177.7" height="2" fill="url(#gb67)"/>
<rect x="52" y="337" width="177.7" height="2" fill="url(#gb68)" mask="url(#fm)"/>
<rect x="52" y="339" width="177.7" height="2" fill="url(#gb68)"/>
<rect x="52" y="339" width="177.7" height="2" fill="url(#gb69)" mask="url(#fm)"/>
<rect x="52" y="341" width="177.7" height="2" fill="url(#gb69)"/>
<rect x="52" y="341" width="177.7" height="2" fill="url(#gb70)" mask="url(#fm)"/>
<path d="M111.50,23.00 L112.61,24.77 L113.74,26.53 L114.90,28.30 L116.08,30.07 L117.28,31.84 L118.50,33.60 L119.79,35.37 L121.16,37.14 L122.55,38.90 L123.92,40.67 L125.21,42.44 L126.38,44.21 L127.42,45.97 L128.40,47.74 L129.32,49.51 L130.20,51.27 L131.04,53.04 L131.87,54.81 L132.67,56.57 L133.47,58.34 L134.24,60.11 L134.97,61.88 L135.67,63.64 L136.33,65.41 L136.94,67.18 L137.54,68.94 L138.11,70.71 L138.65,72.48 L139.14,74.25 L139.57,76.01 L139.94,77.78 L140.27,79.55 L140.57,81.31 L140.85,83.08 L141.12,84.85 L141.38,86.62 L141.65,88.38 L141.91,90.15 L142.17,91.92 L142.42,93.68 L142.66,95.45 L142.89,97.22 L143.11,98.98 L143.33,100.75 L143.54,102.52 L143.75,104.29 L143.94,106.05 L144.11,107.82 L144.26,109.59 L144.39,111.35 L144.51,113.12 L144.62,114.89 L144.73,116.66 L144.83,118.42 L144.94,120.19 L145.04,121.96 L145.13,123.72 L145.23,125.49 L145.32,127.26 L145.42,129.03 L145.52,130.79 L145.64,132.56 L145.75,134.33 L145.87,136.09 L145.99,137.86 L146.11,139.63 L146.22,141.39 L146.33,143.16 L146.44,144.93 L146.56,146.70 L146.66,148.46 L146.74,150.23 L146.80,152.00 L146.85,153.76 L146.90,155.53 L146.94,157.30 L146.97,159.07 L146.99,160.83 L147.00,162.60" fill="none" stroke="#1a2333" stroke-width="1.7"/>
<path d="M111.20,203.00 L111.51,204.77 L111.83,206.54 L112.17,208.31 L112.53,210.07 L112.90,211.84 L113.28,213.61 L113.68,215.38 L114.11,217.15 L114.55,218.92 L115.00,220.68 L115.46,222.45 L115.93,224.22 L116.38,225.99 L116.82,227.76 L117.27,229.53 L117.73,231.29 L118.23,233.06 L118.78,234.83 L119.40,236.60 L120.11,238.37 L120.89,240.14 L121.70,241.90 L122.53,243.67 L123.35,245.44 L124.15,247.21 L124.96,248.98 L125.78,250.75 L126.60,252.51 L127.42,254.28 L128.21,256.05 L128.98,257.82 L129.74,259.59 L130.47,261.36 L131.20,263.12 L131.93,264.89 L132.65,266.66 L133.39,268.43 L134.15,270.20 L134.91,271.97 L135.67,273.73 L136.39,275.50 L137.07,277.27 L137.69,279.04 L138.26,280.81 L138.81,282.58 L139.34,284.34 L139.84,286.11 L140.31,287.88 L140.76,289.65 L141.19,291.42 L141.60,293.19 L141.99,294.95 L142.37,296.72 L142.74,298.49 L143.12,300.26 L143.50,302.03 L143.88,303.80 L144.25,305.56 L144.61,307.33 L144.95,309.10 L145.26,310.87 L145.57,312.64 L145.87,314.41 L146.16,316.17 L146.42,317.94 L146.65,319.71 L146.82,321.48 L146.96,323.25 L147.08,325.02 L147.18,326.78 L147.28,328.55 L147.38,330.32 L147.51,332.09 L147.65,333.86 L147.80,335.63 L147.96,337.39 L148.13,339.16 L148.31,340.93 L148.50,342.70" fill="none" stroke="#1a2333" stroke-width="1.7"/>
<line x1="52" y1="288.5" x2="229.7" y2="288.5" stroke="#ffffff" stroke-width="1.2" stroke-dasharray="3.9 2.35"/>
<rect x="52.0" y="23.0" width="177.7" height="140" fill="none" stroke="#1a1a1a" stroke-width="0.9"/>
<rect x="52.0" y="203.0" width="177.7" height="140.2" fill="none" stroke="#1a1a1a" stroke-width="0.9"/>
<line x1="52" y1="23" x2="55" y2="23" stroke="#1a1a1a" stroke-width="1" />
<text x="48.1" y="26.3" font-size="11" text-anchor="end" fill="#1a1a1a" font-weight="normal" >350K</text>
<line x1="52" y1="44.5" x2="55" y2="44.5" stroke="#1a1a1a" stroke-width="1" />
<text x="48.1" y="47.8" font-size="11" text-anchor="end" fill="#1a1a1a" font-weight="normal" >250K</text>
<line x1="52" y1="66" x2="55" y2="66" stroke="#1a1a1a" stroke-width="1" />
<text x="48.1" y="69.3" font-size="11" text-anchor="end" fill="#1a1a1a" font-weight="normal" >200K</text>
<line x1="52" y1="87.4" x2="55" y2="87.4" stroke="#1a1a1a" stroke-width="1" />
<text x="48.1" y="90.7" font-size="11" text-anchor="end" fill="#1a1a1a" font-weight="normal" >160K</text>
<line x1="52" y1="109" x2="55" y2="109" stroke="#1a1a1a" stroke-width="1" />
<text x="48.1" y="112.3" font-size="11" text-anchor="end" fill="#1a1a1a" font-weight="normal" >130K</text>
<line x1="52" y1="130.4" x2="55" y2="130.4" stroke="#1a1a1a" stroke-width="1" />
<text x="48.1" y="133.7" font-size="11" text-anchor="end" fill="#1a1a1a" font-weight="normal" >110K</text>
<line x1="52" y1="151.9" x2="55" y2="151.9" stroke="#1a1a1a" stroke-width="1" />
<text x="48.1" y="155.2" font-size="11" text-anchor="end" fill="#1a1a1a" font-weight="normal" >90K</text>
<line x1="52" y1="203" x2="55" y2="203" stroke="#1a1a1a" stroke-width="1" />
<text x="48.1" y="206.3" font-size="11" text-anchor="end" fill="#1a1a1a" font-weight="normal" >350K</text>
<line x1="52" y1="224.5" x2="55" y2="224.5" stroke="#1a1a1a" stroke-width="1" />
<text x="48.1" y="227.8" font-size="11" text-anchor="end" fill="#1a1a1a" font-weight="normal" >250K</text>
<line x1="52" y1="246" x2="55" y2="246" stroke="#1a1a1a" stroke-width="1" />
<text x="48.1" y="249.3" font-size="11" text-anchor="end" fill="#1a1a1a" font-weight="normal" >200K</text>
<line x1="52" y1="267.4" x2="55" y2="267.4" stroke="#1a1a1a" stroke-width="1" />
<text x="48.1" y="270.7" font-size="11" text-anchor="end" fill="#1a1a1a" font-weight="normal" >160K</text>
<line x1="52" y1="289" x2="55" y2="289" stroke="#1a1a1a" stroke-width="1" />
<text x="48.1" y="292.3" font-size="11" text-anchor="end" fill="#1a1a1a" font-weight="normal" >130K</text>
<line x1="52" y1="310.4" x2="55" y2="310.4" stroke="#1a1a1a" stroke-width="1" />
<text x="48.1" y="313.7" font-size="11" text-anchor="end" fill="#1a1a1a" font-weight="normal" >110K</text>
<line x1="52" y1="331.9" x2="55" y2="331.9" stroke="#1a1a1a" stroke-width="1" />
<text x="48.1" y="335.2" font-size="11" text-anchor="end" fill="#1a1a1a" font-weight="normal" >90K</text>
<line x1="78.4" y1="163" x2="78.4" y2="160.8" stroke="#1a1a1a" stroke-width="1" />
<line x1="116.4" y1="163" x2="116.4" y2="159.8" stroke="#1a1a1a" stroke-width="1" />
<line x1="154.4" y1="163" x2="154.4" y2="160.8" stroke="#1a1a1a" stroke-width="1" />
<line x1="192.4" y1="163" x2="192.4" y2="159.8" stroke="#1a1a1a" stroke-width="1" />
<text x="116.5" y="176.8" font-size="11" text-anchor="middle" fill="#1a1a1a" font-weight="normal" >1.3</text>
<text x="192.3" y="176.8" font-size="11" text-anchor="middle" fill="#1a1a1a" font-weight="normal" >1.4</text>
<text x="80.8" y="191.3" font-size="14.0" text-anchor="start" fill="#1a1a1a" font-weight="normal" >Photon energy (eV)</text>
<line x1="76.6" y1="343.2" x2="76.6" y2="341" stroke="#1a1a1a" stroke-width="1" />
<line x1="113.3" y1="343.2" x2="113.3" y2="340" stroke="#1a1a1a" stroke-width="1" />
<line x1="150" y1="343.2" x2="150" y2="341" stroke="#1a1a1a" stroke-width="1" />
<line x1="186.7" y1="343.2" x2="186.7" y2="340" stroke="#1a1a1a" stroke-width="1" />
<line x1="223.4" y1="343.2" x2="223.4" y2="341" stroke="#1a1a1a" stroke-width="1" />
<text x="113.5" y="356.5" font-size="11" text-anchor="middle" fill="#1a1a1a" font-weight="normal" >1.3</text>
<text x="187.2" y="356.5" font-size="11" text-anchor="middle" fill="#1a1a1a" font-weight="normal" >1.4</text>
<text x="79.9" y="372.5" font-size="14.0" text-anchor="start" fill="#1a1a1a" font-weight="normal" >Photon energy (eV)</text>
<text transform="translate(12.9,93) rotate(-90)" font-size="14" text-anchor="middle" fill="#1a1a1a">Temperature (K)</text>
<text transform="translate(12.9,273) rotate(-90)" font-size="14" text-anchor="middle" fill="#1a1a1a">Temperature (K)</text>
<text x="191" y="38.6" font-size="12" text-anchor="start" fill="#ffffff" font-weight="normal" >CrSBr</text>
<text x="166.7" y="218.5" font-size="12" text-anchor="start" fill="#ffffff" font-weight="normal" >CrSBr/FGT</text>
<rect x="197.3" y="132.6" width="12" height="24.2" rx="1.6" fill="url(#cba)" stroke="#fff" stroke-width="1.4"/>
<rect x="196.6" y="311.9" width="12" height="24.2" rx="1.6" fill="url(#cbb)" stroke="#fff" stroke-width="1.4"/>
<text x="217.3" y="136.2" font-size="10.5" text-anchor="start" fill="#fff" font-weight="normal" >1</text>
<text x="217.3" y="160.5" font-size="10.5" text-anchor="start" fill="#fff" font-weight="normal" >0</text>
<text x="216.6" y="316.7" font-size="10.5" text-anchor="start" fill="#fff" font-weight="normal" >1</text>
<text x="216.6" y="337.9" font-size="10.5" text-anchor="start" fill="#fff" font-weight="normal" >0</text>
<text x="-0.4" y="8.6" font-size="12" text-anchor="start" fill="#000" font-weight="bold" >a</text>
<text x="0" y="191.2" font-size="12" text-anchor="start" fill="#000" font-weight="bold" >b</text>
<text x="252.4" y="8.6" font-size="12" text-anchor="start" fill="#000" font-weight="bold" >c</text>
<text x="477.4" y="8.7" font-size="12" text-anchor="start" fill="#000" font-weight="bold" >d</text>
<text x="472.9" y="191" font-size="12" text-anchor="start" fill="#000" font-weight="bold" >e</text>
<clipPath id="cclip"><rect x="272.0" y="22.0" width="170.0" height="320.3"/></clipPath>
<g clip-path="url(#cclip)" fill="none" stroke-linejoin="round">
<path d="M272.0,91.80 273.0,91.81 274.0,91.83 275.0,91.86 276.0,91.91 277.0,91.97 278.0,92.10 279.0,92.52 280.0,92.87 281.0,92.65 282.0,91.77 283.0,90.82 284.0,89.68 285.0,88.47 286.0,87.38 287.0,86.53 288.0,85.77 289.0,85.07 290.0,84.42 291.0,83.80 292.0,83.22 293.0,82.67 294.0,82.16 295.0,81.65 296.0,81.15 297.0,80.67 298.0,80.21 299.0,79.75 300.0,79.26 301.0,78.72 302.0,78.13 303.0,77.51 304.0,76.89 305.0,76.31 306.0,75.78 307.0,75.26 308.0,74.77 309.0,74.31 310.0,73.90 311.0,73.53 312.0,73.18 313.0,72.86 314.0,72.58 315.0,72.33 316.0,72.11 317.0,71.91 318.0,71.73 319.0,71.57 320.0,71.43 321.0,71.29 322.0,71.15 323.0,71.05 324.0,71.00 325.0,71.02 326.0,71.09 327.0,71.19 328.0,71.33 329.0,71.46 330.0,71.60 331.0,71.73 332.0,71.88 333.0,72.03 334.0,72.20 335.0,72.38 336.0,72.58 337.0,72.80 338.0,73.06 339.0,73.36 340.0,73.70 341.0,74.07 342.0,74.46 343.0,74.84 344.0,75.23 345.0,75.60 346.0,75.99 347.0,76.39 348.0,76.80 349.0,77.21 350.0,77.61 351.0,78.00 352.0,78.38 353.0,78.76 354.0,79.13 355.0,79.50 356.0,79.87 357.0,80.24 358.0,80.61 359.0,80.99 360.0,81.38 361.0,81.77 362.0,82.17 363.0,82.56 364.0,82.95 365.0,83.32 366.0,83.68 367.0,84.03 368.0,84.38 369.0,84.72 370.0,85.05 371.0,85.37 372.0,85.69 373.0,85.99 374.0,86.29 375.0,86.59 376.0,86.88 377.0,87.17 378.0,87.44 379.0,87.71 380.0,87.96 381.0,88.20 382.0,88.43 383.0,88.66 384.0,88.89 385.0,89.10 386.0,89.31 387.0,89.51 388.0,89.69 389.0,89.85 390.0,90.00 391.0,90.14 392.0,90.27 393.0,90.40 394.0,90.53 395.0,90.66 396.0,90.77 397.0,90.88 398.0,90.97 399.0,91.05 400.0,91.12 401.0,91.17 402.0,91.20 403.0,91.22 404.0,91.24 405.0,91.25 406.0,91.27 407.0,91.28 408.0,91.29 409.0,91.30 410.0,91.31 411.0,91.32 412.0,91.32 413.0,91.33 414.0,91.34 415.0,91.35 416.0,91.36 417.0,91.37 418.0,91.38 419.0,91.39 420.0,91.40 421.0,91.41 422.0,91.43 423.0,91.44 424.0,91.46 425.0,91.47 426.0,91.49 427.0,91.51 428.0,91.52 429.0,91.54 430.0,91.56 431.0,91.58 432.0,91.60 433.0,91.61 434.0,91.63 435.0,91.65 436.0,91.67 437.0,91.69 438.0,91.71 439.0,91.74 440.0,91.76 441.0,91.78 442.0,91.80" stroke="#4a7cc4" stroke-width="1.5"/>
<path d="M272.0,91.80 272.6,91.97 273.2,91.66 273.8,91.33 274.4,91.59 275.0,91.32 275.6,91.92 276.2,92.65 276.8,91.68 277.4,91.65 278.0,92.37 278.6,92.53 279.2,92.67 279.8,92.32 280.4,92.88 281.0,93.03 281.6,91.42 282.2,91.32 282.8,89.98 283.4,89.68 284.0,88.67 284.6,88.82 285.2,87.53 285.8,87.73 286.4,87.11 287.0,86.43 287.6,84.68 288.2,85.33 288.8,85.18 289.4,84.87 290.0,83.58 290.6,83.78 291.2,83.14 291.8,82.88 292.4,83.58 293.0,82.23 293.6,82.34 294.2,82.54 294.8,81.43 295.4,81.39 296.0,81.21 296.6,80.90 297.2,79.91 297.8,80.35 298.4,80.78 299.0,78.90 299.6,79.93 300.2,79.22 300.8,78.48 301.4,79.59 302.0,78.55 302.6,77.10 303.2,77.42 303.8,77.33 304.4,76.54 305.0,76.68 305.6,75.95 306.2,76.04 306.8,76.15 307.4,74.69 308.0,74.88 308.6,74.23 309.2,74.29 309.8,73.32 310.4,73.43 311.0,73.42 311.6,73.81 312.2,73.74 312.8,72.19 313.4,72.30 314.0,72.93 314.6,71.33 315.2,72.03 315.8,72.10 316.4,72.72 317.0,72.29 317.6,71.62 318.2,71.49 318.8,71.46 319.4,72.35 320.0,71.19 320.6,71.18 321.2,71.45 321.8,71.11 322.4,71.00 323.0,70.44 323.6,71.01 324.2,70.76 324.8,71.65 325.4,71.39 326.0,71.04 326.6,71.46 327.2,70.96 327.8,71.77 328.4,71.25 329.0,71.63 329.6,70.65 330.2,71.61 330.8,70.55 331.4,70.41 332.0,71.43 332.6,71.17 333.2,71.83 333.8,73.05 334.4,71.44 335.0,71.64 335.6,72.18 336.2,72.44 336.8,72.17 337.4,72.26 338.0,72.88 338.6,72.92 339.2,72.22 339.8,72.90 340.4,73.13 341.0,72.71 341.6,73.62 342.2,73.19 342.8,74.39 343.4,74.15 344.0,74.29 344.6,74.10 345.2,74.57 345.8,73.74 346.4,74.43 347.0,75.48 347.6,74.33 348.2,76.20 348.8,75.00 349.4,76.61 350.0,75.96 350.6,77.08 351.2,76.95 351.8,76.25 352.4,78.01 353.0,78.33 353.6,77.73 354.2,77.84 354.8,78.12 355.4,77.90 356.0,79.26 356.6,78.58 357.2,79.08 357.8,78.90 358.4,79.22 359.0,79.09 359.6,80.71 360.2,80.17 360.8,81.02 361.4,80.73 362.0,80.58 362.6,81.02 363.2,81.12 363.8,81.67 364.4,81.68 365.0,81.95 365.6,81.58 366.2,82.11 366.8,83.68 367.4,82.62 368.0,82.62 368.6,83.59 369.2,84.39 369.8,83.02 370.4,83.91 371.0,83.89 371.6,83.47 372.2,85.04 372.8,84.82 373.4,85.07 374.0,84.82 374.6,85.68 375.2,85.33 375.8,85.75 376.4,85.41 377.0,85.54 377.6,87.14 378.2,86.31 378.8,86.93 379.4,86.93 380.0,86.88 380.6,87.01 381.2,87.80 381.8,87.45 382.4,87.69 383.0,87.95 383.6,88.74 384.2,88.62 384.8,88.61 385.4,88.24 386.0,87.93 386.6,89.36 387.2,89.50 387.8,89.02 388.4,89.51 389.0,89.76 389.6,89.89 390.2,90.04 390.8,89.38 391.4,90.55 392.0,89.13 392.6,90.38 393.2,90.26 393.8,90.56 394.4,91.20 395.0,91.06 395.6,89.70 396.2,89.47 396.8,90.92 397.4,89.99 398.0,90.60 398.6,91.13 399.2,89.82 399.8,89.61 400.4,90.96 401.0,90.88 401.6,90.75 402.2,90.93 402.8,90.46 403.4,90.12 404.0,90.88 404.6,90.46 405.2,90.10 405.8,91.30 406.4,91.01 407.0,91.28 407.6,90.52 408.2,90.72 408.8,90.55 409.4,90.62 410.0,91.23 410.6,90.70 411.2,91.34 411.8,91.34 412.4,92.28 413.0,90.41 413.6,91.67 414.2,91.14 414.8,91.19 415.4,90.41 416.0,90.97 416.6,91.64 417.2,91.20 417.8,91.30 418.4,91.11 419.0,91.91 419.6,91.28 420.2,90.09 420.8,90.94 421.4,90.25 422.0,89.56 422.6,91.07 423.2,92.11 423.8,91.41 424.4,90.75 425.0,90.90 425.6,92.05 426.2,91.53 426.8,91.48 427.4,91.44 428.0,91.50 428.6,91.94 429.2,91.81 429.8,91.64 430.4,90.96 431.0,91.83 431.6,91.19 432.2,92.18 432.8,90.89 433.4,91.53 434.0,91.61 434.6,90.90 435.2,92.59 435.8,92.46 436.4,91.42 437.0,92.11 437.6,91.91 438.2,90.28 438.8,91.86 439.4,91.71 440.0,91.80 440.6,91.18 441.2,91.63 441.8,91.70" stroke="#df5353" stroke-width="2.3"/>
<path d="M272.0,114.30 273.0,114.30 274.0,114.31 275.0,114.33 276.0,114.35 277.0,114.38 278.0,114.46 279.0,114.76 280.0,115.05 281.0,114.99 282.0,114.36 283.0,113.60 284.0,112.95 285.0,112.28 286.0,111.59 287.0,110.90 288.0,110.21 289.0,109.53 290.0,108.87 291.0,108.21 292.0,107.54 293.0,106.88 294.0,106.23 295.0,105.58 296.0,104.95 297.0,104.33 298.0,103.73 299.0,103.15 300.0,102.58 301.0,102.02 302.0,101.47 303.0,100.94 304.0,100.42 305.0,99.92 306.0,99.44 307.0,98.98 308.0,98.54 309.0,98.12 310.0,97.71 311.0,97.32 312.0,96.95 313.0,96.58 314.0,96.20 315.0,95.85 316.0,95.52 317.0,95.23 318.0,95.00 319.0,94.80 320.0,94.60 321.0,94.41 322.0,94.23 323.0,94.05 324.0,93.90 325.0,93.77 326.0,93.65 327.0,93.57 328.0,93.52 329.0,93.50 330.0,93.53 331.0,93.63 332.0,93.77 333.0,93.95 334.0,94.17 335.0,94.41 336.0,94.67 337.0,94.94 338.0,95.20 339.0,95.46 340.0,95.76 341.0,96.09 342.0,96.45 343.0,96.83 344.0,97.23 345.0,97.63 346.0,98.04 347.0,98.44 348.0,98.84 349.0,99.23 350.0,99.64 351.0,100.05 352.0,100.46 353.0,100.88 354.0,101.29 355.0,101.71 356.0,102.13 357.0,102.54 358.0,102.94 359.0,103.35 360.0,103.76 361.0,104.16 362.0,104.57 363.0,104.97 364.0,105.37 365.0,105.76 366.0,106.15 367.0,106.54 368.0,106.93 369.0,107.32 370.0,107.71 371.0,108.10 372.0,108.48 373.0,108.86 374.0,109.21 375.0,109.56 376.0,109.88 377.0,110.18 378.0,110.48 379.0,110.78 380.0,111.06 381.0,111.34 382.0,111.60 383.0,111.84 384.0,112.06 385.0,112.25 386.0,112.41 387.0,112.56 388.0,112.70 389.0,112.84 390.0,112.98 391.0,113.11 392.0,113.23 393.0,113.34 394.0,113.45 395.0,113.55 396.0,113.65 397.0,113.73 398.0,113.81 399.0,113.87 400.0,113.93 401.0,113.97 402.0,114.00 403.0,114.02 404.0,114.05 405.0,114.07 406.0,114.09 407.0,114.12 408.0,114.14 409.0,114.16 410.0,114.18 411.0,114.20 412.0,114.22 413.0,114.24 414.0,114.25 415.0,114.27 416.0,114.29 417.0,114.30 418.0,114.32 419.0,114.33 420.0,114.35 421.0,114.36 422.0,114.37 423.0,114.39 424.0,114.40 425.0,114.41 426.0,114.42 427.0,114.43 428.0,114.44 429.0,114.45 430.0,114.45 431.0,114.46 432.0,114.47 433.0,114.47 434.0,114.48 435.0,114.48 436.0,114.49 437.0,114.49 438.0,114.49 439.0,114.50 440.0,114.50 441.0,114.50 442.0,114.50" stroke="#4a7cc4" stroke-width="1.5"/>
<path d="M272.0,114.89 272.6,114.47 273.2,114.30 273.8,115.08 274.4,114.04 275.0,114.13 275.6,113.43 276.2,115.14 276.8,114.86 277.4,114.85 278.0,114.80 278.6,114.68 279.2,114.94 279.8,114.88 280.4,115.00 281.0,115.02 281.6,115.41 282.2,114.47 282.8,113.70 283.4,113.06 284.0,112.64 284.6,113.35 285.2,112.40 285.8,111.76 286.4,111.14 287.0,110.34 287.6,110.45 288.2,110.51 288.8,109.47 289.4,109.15 290.0,108.76 290.6,108.53 291.2,107.28 291.8,107.56 292.4,106.85 293.0,107.32 293.6,106.10 294.2,106.39 294.8,106.47 295.4,105.17 296.0,104.65 296.6,104.67 297.2,104.21 297.8,103.36 298.4,103.73 299.0,104.16 299.6,102.68 300.2,102.37 300.8,101.61 301.4,101.96 302.0,100.85 302.6,100.60 303.2,101.47 303.8,100.07 304.4,100.76 305.0,100.68 305.6,99.76 306.2,99.62 306.8,100.05 307.4,98.70 308.0,98.24 308.6,97.61 309.2,98.05 309.8,98.53 310.4,98.03 311.0,96.85 311.6,96.67 312.2,96.62 312.8,96.80 313.4,96.32 314.0,96.31 314.6,96.13 315.2,95.63 315.8,95.56 316.4,95.50 317.0,95.19 317.6,95.34 318.2,95.90 318.8,95.14 319.4,94.75 320.0,93.76 320.6,94.68 321.2,93.40 321.8,93.56 322.4,94.58 323.0,94.41 323.6,93.88 324.2,93.02 324.8,93.61 325.4,93.38 326.0,93.97 326.6,94.73 327.2,93.67 327.8,93.14 328.4,92.92 329.0,93.47 329.6,93.41 330.2,92.93 330.8,93.57 331.4,92.94 332.0,94.09 332.6,94.08 333.2,94.10 333.8,93.34 334.4,93.86 335.0,93.55 335.6,93.45 336.2,93.50 336.8,93.05 337.4,93.01 338.0,94.17 338.6,93.71 339.2,93.95 339.8,94.39 340.4,93.08 341.0,93.66 341.6,94.30 342.2,94.62 342.8,94.47 343.4,95.43 344.0,95.29 344.6,94.86 345.2,95.27 345.8,96.40 346.4,96.47 347.0,95.52 347.6,97.38 348.2,97.24 348.8,97.86 349.4,97.24 350.0,97.52 350.6,97.36 351.2,99.44 351.8,98.33 352.4,99.47 353.0,98.60 353.6,99.27 354.2,98.61 354.8,99.52 355.4,100.47 356.0,99.62 356.6,101.05 357.2,100.95 357.8,100.53 358.4,101.08 359.0,101.37 359.6,101.85 360.2,101.88 360.8,102.02 361.4,102.56 362.0,102.48 362.6,102.63 363.2,103.53 363.8,104.27 364.4,103.34 365.0,104.37 365.6,104.31 366.2,104.40 366.8,105.57 367.4,105.14 368.0,106.40 368.6,105.51 369.2,106.33 369.8,106.27 370.4,106.25 371.0,107.16 371.6,107.02 372.2,107.64 372.8,107.54 373.4,107.26 374.0,107.98 374.6,108.28 375.2,108.96 375.8,108.25 376.4,108.91 377.0,108.28 377.6,109.68 378.2,109.03 378.8,108.88 379.4,109.97 380.0,110.77 380.6,109.66 381.2,110.09 381.8,110.47 382.4,110.47 383.0,111.42 383.6,111.00 384.2,111.21 384.8,112.03 385.4,111.52 386.0,112.27 386.6,111.72 387.2,111.75 387.8,111.58 388.4,113.56 389.0,112.59 389.6,112.98 390.2,112.93 390.8,113.10 391.4,113.12 392.0,114.12 392.6,112.71 393.2,112.52 393.8,112.85 394.4,112.75 395.0,113.84 395.6,113.93 396.2,113.09 396.8,112.93 397.4,113.49 398.0,114.40 398.6,112.34 399.2,114.04 399.8,113.27 400.4,114.36 401.0,113.33 401.6,113.74 402.2,113.15 402.8,113.43 403.4,114.63 404.0,114.37 404.6,113.77 405.2,113.55 405.8,113.06 406.4,113.82 407.0,114.02 407.6,114.01 408.2,114.02 408.8,113.52 409.4,114.06 410.0,114.09 410.6,114.77 411.2,115.07 411.8,114.08 412.4,113.78 413.0,114.15 413.6,113.89 414.2,113.83 414.8,114.19 415.4,113.71 416.0,114.54 416.6,114.20 417.2,114.39 417.8,114.18 418.4,113.92 419.0,113.82 419.6,114.19 420.2,114.04 420.8,114.44 421.4,114.33 422.0,113.66 422.6,114.39 423.2,113.69 423.8,114.06 424.4,114.23 425.0,113.35 425.6,114.44 426.2,114.48 426.8,114.33 427.4,114.20 428.0,114.24 428.6,113.94 429.2,114.30 429.8,114.16 430.4,114.49 431.0,113.85 431.6,114.57 432.2,114.53 432.8,114.40 433.4,114.25 434.0,114.75 434.6,113.65 435.2,114.71 435.8,114.61 436.4,114.63 437.0,114.68 437.6,114.17 438.2,114.36 438.8,114.81 439.4,114.71 440.0,114.60 440.6,113.74 441.2,114.77 441.8,115.08" stroke="#df5353" stroke-width="2.3"/>
<path d="M272.0,134.00 273.0,134.00 274.0,134.00 275.0,134.00 276.0,134.00 277.0,134.00 278.0,134.04 279.0,134.30 280.0,134.56 281.0,134.58 282.0,134.46 283.0,134.26 284.0,134.00 285.0,133.44 286.0,132.77 287.0,132.55 288.0,132.48 289.0,132.42 290.0,132.28 291.0,132.06 292.0,131.79 293.0,131.51 294.0,131.25 295.0,131.01 296.0,130.78 297.0,130.53 298.0,130.25 299.0,129.93 300.0,129.55 301.0,129.11 302.0,128.66 303.0,128.20 304.0,127.74 305.0,127.25 306.0,126.76 307.0,126.25 308.0,125.75 309.0,125.24 310.0,124.72 311.0,124.19 312.0,123.66 313.0,123.12 314.0,122.57 315.0,122.02 316.0,121.50 317.0,121.01 318.0,120.53 319.0,120.06 320.0,119.60 321.0,119.13 322.0,118.65 323.0,118.17 324.0,117.70 325.0,117.23 326.0,116.78 327.0,116.34 328.0,115.94 329.0,115.57 330.0,115.23 331.0,114.89 332.0,114.55 333.0,114.23 334.0,113.93 335.0,113.65 336.0,113.39 337.0,113.17 338.0,112.98 339.0,112.83 340.0,112.69 341.0,112.58 342.0,112.48 343.0,112.41 344.0,112.34 345.0,112.29 346.0,112.24 347.0,112.21 348.0,112.21 349.0,112.34 350.0,112.60 351.0,112.94 352.0,113.31 353.0,113.70 354.0,114.19 355.0,114.77 356.0,115.38 357.0,116.00 358.0,116.61 359.0,117.24 360.0,117.90 361.0,118.58 362.0,119.29 363.0,120.08 364.0,120.89 365.0,121.69 366.0,122.40 367.0,123.03 368.0,123.61 369.0,124.16 370.0,124.69 371.0,125.20 372.0,125.70 373.0,126.19 374.0,126.67 375.0,127.14 376.0,127.58 377.0,128.00 378.0,128.40 379.0,128.78 380.0,129.14 381.0,129.49 382.0,129.82 383.0,130.13 384.0,130.42 385.0,130.68 386.0,130.94 387.0,131.18 388.0,131.41 389.0,131.62 390.0,131.80 391.0,131.96 392.0,132.11 393.0,132.25 394.0,132.39 395.0,132.52 396.0,132.64 397.0,132.75 398.0,132.86 399.0,132.95 400.0,133.04 401.0,133.13 402.0,133.20 403.0,133.27 404.0,133.34 405.0,133.41 406.0,133.48 407.0,133.55 408.0,133.61 409.0,133.68 410.0,133.75 411.0,133.81 412.0,133.88 413.0,133.94 414.0,134.00 415.0,134.06 416.0,134.12 417.0,134.18 418.0,134.24 419.0,134.29 420.0,134.35 421.0,134.40 422.0,134.45 423.0,134.50 424.0,134.55 425.0,134.59 426.0,134.64 427.0,134.68 428.0,134.72 429.0,134.75 430.0,134.79 431.0,134.82 432.0,134.85 433.0,134.88 434.0,134.90 435.0,134.92 436.0,134.94 437.0,134.96 438.0,134.97 439.0,134.99 440.0,134.99 441.0,135.00 442.0,135.00" stroke="#4a7cc4" stroke-width="1.5"/>
<path d="M272.0,134.50 272.6,134.12 273.2,133.22 273.8,134.47 274.4,133.93 275.0,132.73 275.6,134.19 276.2,133.25 276.8,133.35 277.4,133.68 278.0,134.68 278.6,134.00 279.2,134.50 279.8,135.39 280.4,135.40 281.0,134.53 281.6,134.39 282.2,133.78 282.8,133.96 283.4,134.44 284.0,134.40 284.6,134.27 285.2,134.74 285.8,133.90 286.4,134.30 287.0,134.75 287.6,134.72 288.2,135.01 288.8,134.69 289.4,134.34 290.0,134.63 290.6,133.86 291.2,133.42 291.8,134.39 292.4,133.92 293.0,133.94 293.6,132.80 294.2,133.33 294.8,133.09 295.4,132.84 296.0,132.02 296.6,132.84 297.2,133.32 297.8,132.90 298.4,132.23 299.0,132.32 299.6,132.46 300.2,130.42 300.8,131.43 301.4,131.44 302.0,131.18 302.6,131.36 303.2,130.76 303.8,130.02 304.4,129.68 305.0,129.57 305.6,128.56 306.2,128.45 306.8,128.57 307.4,128.75 308.0,127.35 308.6,127.08 309.2,126.88 309.8,127.13 310.4,126.11 311.0,126.53 311.6,124.95 312.2,124.97 312.8,124.56 313.4,124.60 314.0,124.25 314.6,122.49 315.2,122.32 315.8,122.51 316.4,121.61 317.0,120.79 317.6,121.69 318.2,121.06 318.8,120.71 319.4,119.89 320.0,120.31 320.6,119.37 321.2,119.72 321.8,118.41 322.4,118.14 323.0,118.37 323.6,117.63 324.2,118.03 324.8,117.55 325.4,116.69 326.0,116.92 326.6,116.45 327.2,116.83 327.8,115.82 328.4,115.68 329.0,116.28 329.6,116.57 330.2,116.23 330.8,115.05 331.4,114.91 332.0,115.35 332.6,114.31 333.2,113.68 333.8,114.03 334.4,114.01 335.0,113.18 335.6,112.61 336.2,112.55 336.8,113.46 337.4,112.62 338.0,112.81 338.6,112.89 339.2,113.00 339.8,112.43 340.4,112.76 341.0,111.99 341.6,112.19 342.2,111.82 342.8,112.87 343.4,112.29 344.0,111.93 344.6,112.14 345.2,112.21 345.8,112.69 346.4,111.56 347.0,111.85 347.6,112.21 348.2,113.72 348.8,113.08 349.4,112.76 350.0,113.44 350.6,114.42 351.2,113.60 351.8,113.86 352.4,114.96 353.0,114.90 353.6,115.30 354.2,115.05 354.8,116.61 355.4,116.86 356.0,116.66 356.6,117.09 357.2,116.11 357.8,117.84 358.4,117.83 359.0,118.55 359.6,119.10 360.2,119.02 360.8,118.78 361.4,120.24 362.0,120.12 362.6,120.79 363.2,121.12 363.8,121.73 364.4,121.21 365.0,123.43 365.6,123.37 366.2,124.18 366.8,124.98 367.4,124.35 368.0,123.77 368.6,124.55 369.2,124.71 369.8,125.36 370.4,125.95 371.0,125.20 371.6,126.66 372.2,126.02 372.8,127.20 373.4,127.27 374.0,127.44 374.6,127.82 375.2,127.84 375.8,128.05 376.4,127.76 377.0,128.82 377.6,129.98 378.2,130.26 378.8,130.14 379.4,130.04 380.0,129.54 380.6,130.79 381.2,130.23 381.8,130.40 382.4,130.47 383.0,130.82 383.6,130.71 384.2,131.03 384.8,130.67 385.4,131.17 386.0,132.63 386.6,131.58 387.2,131.62 387.8,132.12 388.4,132.32 389.0,131.51 389.6,132.06 390.2,132.71 390.8,132.46 391.4,132.46 392.0,133.24 392.6,132.20 393.2,132.64 393.8,132.40 394.4,133.47 395.0,131.80 395.6,132.50 396.2,132.62 396.8,133.27 397.4,133.29 398.0,133.73 398.6,132.29 399.2,133.50 399.8,133.02 400.4,132.87 401.0,133.51 401.6,132.82 402.2,132.27 402.8,133.16 403.4,132.63 404.0,133.09 404.6,133.63 405.2,133.64 405.8,134.31 406.4,133.45 407.0,132.82 407.6,133.24 408.2,133.19 408.8,133.07 409.4,133.93 410.0,133.42 410.6,132.79 411.2,134.16 411.8,133.79 412.4,134.05 413.0,133.96 413.6,134.25 414.2,133.99 414.8,134.62 415.4,134.24 416.0,134.25 416.6,134.29 417.2,133.39 417.8,134.06 418.4,134.04 419.0,134.31 419.6,133.55 420.2,135.07 420.8,134.33 421.4,133.70 422.0,133.48 422.6,134.22 423.2,134.34 423.8,134.05 424.4,134.48 425.0,134.13 425.6,134.75 426.2,134.13 426.8,134.50 427.4,135.03 428.0,135.84 428.6,134.07 429.2,134.36 429.8,134.19 430.4,135.02 431.0,134.07 431.6,134.42 432.2,134.66 432.8,134.20 433.4,134.23 434.0,134.48 434.6,133.68 435.2,134.02 435.8,134.54 436.4,134.83 437.0,134.67 437.6,133.89 438.2,134.55 438.8,135.19 439.4,135.07 440.0,134.76 440.6,134.35 441.2,135.11 441.8,134.51" stroke="#df5353" stroke-width="2.3"/>
<path d="M272.0,152.90 273.0,152.97 274.0,153.02 275.0,153.05 276.0,153.08 277.0,153.09 278.0,153.10 279.0,153.10 280.0,153.10 281.0,153.07 282.0,153.00 283.0,152.89 284.0,152.75 285.0,152.59 286.0,152.41 287.0,152.22 288.0,152.02 289.0,151.84 290.0,151.65 291.0,151.44 292.0,151.22 293.0,150.97 294.0,150.72 295.0,150.46 296.0,150.19 297.0,149.91 298.0,149.64 299.0,149.36 300.0,149.09 301.0,148.80 302.0,148.51 303.0,148.21 304.0,147.91 305.0,147.60 306.0,147.27 307.0,146.94 308.0,146.60 309.0,146.24 310.0,145.88 311.0,145.50 312.0,145.12 313.0,144.72 314.0,144.30 315.0,143.87 316.0,143.42 317.0,142.95 318.0,142.45 319.0,141.89 320.0,141.31 321.0,140.70 322.0,140.08 323.0,139.46 324.0,138.85 325.0,138.26 326.0,137.71 327.0,137.18 328.0,136.65 329.0,136.13 330.0,135.62 331.0,135.12 332.0,134.64 333.0,134.18 334.0,133.75 335.0,133.35 336.0,132.98 337.0,132.62 338.0,132.26 339.0,131.93 340.0,131.62 341.0,131.34 342.0,131.10 343.0,130.92 344.0,130.76 345.0,130.61 346.0,130.49 347.0,130.42 348.0,130.41 349.0,130.57 350.0,130.87 351.0,131.26 352.0,131.68 353.0,132.12 354.0,132.67 355.0,133.30 356.0,133.94 357.0,134.56 358.0,135.15 359.0,135.75 360.0,136.35 361.0,136.94 362.0,137.54 363.0,138.12 364.0,138.69 365.0,139.28 366.0,139.88 367.0,140.51 368.0,141.17 369.0,141.85 370.0,142.53 371.0,143.19 372.0,143.80 373.0,144.39 374.0,144.97 375.0,145.54 376.0,146.10 377.0,146.63 378.0,147.13 379.0,147.59 380.0,148.00 381.0,148.38 382.0,148.75 383.0,149.10 384.0,149.43 385.0,149.75 386.0,150.05 387.0,150.32 388.0,150.57 389.0,150.80 390.0,151.00 391.0,151.19 392.0,151.37 393.0,151.54 394.0,151.71 395.0,151.87 396.0,152.01 397.0,152.15 398.0,152.27 399.0,152.38 400.0,152.47 401.0,152.55 402.0,152.60 403.0,152.64 404.0,152.69 405.0,152.73 406.0,152.77 407.0,152.81 408.0,152.85 409.0,152.88 410.0,152.92 411.0,152.95 412.0,152.99 413.0,153.02 414.0,153.05 415.0,153.08 416.0,153.11 417.0,153.14 418.0,153.17 419.0,153.20 420.0,153.22 421.0,153.25 422.0,153.27 423.0,153.29 424.0,153.31 425.0,153.33 426.0,153.35 427.0,153.37 428.0,153.39 429.0,153.40 430.0,153.42 431.0,153.43 432.0,153.44 433.0,153.45 434.0,153.46 435.0,153.47 436.0,153.48 437.0,153.49 438.0,153.49 439.0,153.49 440.0,153.50 441.0,153.50 442.0,153.50" stroke="#4a7cc4" stroke-width="1.5"/>
<path d="M272.0,152.43 272.6,152.58 273.2,153.48 273.8,153.00 274.4,153.38 275.0,152.74 275.6,153.32 276.2,152.72 276.8,152.91 277.4,153.99 278.0,153.36 278.6,152.99 279.2,153.30 279.8,153.59 280.4,153.98 281.0,153.16 281.6,152.36 282.2,152.57 282.8,152.32 283.4,152.03 284.0,152.16 284.6,151.40 285.2,151.22 285.8,150.07 286.4,150.47 287.0,150.58 287.6,149.68 288.2,149.12 288.8,148.76 289.4,149.12 290.0,147.76 290.6,147.82 291.2,147.80 291.8,147.67 292.4,146.97 293.0,147.04 293.6,146.58 294.2,146.53 294.8,146.21 295.4,145.59 296.0,145.83 296.6,145.97 297.2,145.01 297.8,145.07 298.4,145.21 299.0,144.28 299.6,144.54 300.2,143.81 300.8,144.45 301.4,144.69 302.0,144.33 302.6,143.20 303.2,143.34 303.8,142.86 304.4,142.61 305.0,142.94 305.6,141.55 306.2,142.25 306.8,141.56 307.4,141.89 308.0,141.15 308.6,140.54 309.2,140.65 309.8,140.56 310.4,140.00 311.0,139.89 311.6,139.21 312.2,138.28 312.8,139.21 313.4,138.84 314.0,138.34 314.6,138.03 315.2,138.15 315.8,137.29 316.4,136.93 317.0,136.88 317.6,137.19 318.2,135.92 318.8,136.71 319.4,135.75 320.0,135.33 320.6,136.05 321.2,135.28 321.8,134.57 322.4,134.73 323.0,135.03 323.6,134.91 324.2,134.05 324.8,134.17 325.4,134.07 326.0,133.31 326.6,133.50 327.2,133.12 327.8,132.69 328.4,132.47 329.0,132.47 329.6,132.24 330.2,131.79 330.8,131.65 331.4,132.10 332.0,131.59 332.6,131.71 333.2,131.70 333.8,131.31 334.4,131.85 335.0,130.48 335.6,131.02 336.2,130.47 336.8,131.25 337.4,131.13 338.0,129.63 338.6,130.01 339.2,130.67 339.8,130.72 340.4,130.69 341.0,130.37 341.6,130.58 342.2,130.66 342.8,130.37 343.4,130.82 344.0,129.55 344.6,130.79 345.2,130.24 345.8,131.18 346.4,130.86 347.0,130.75 347.6,131.42 348.2,131.08 348.8,131.28 349.4,131.25 350.0,132.11 350.6,132.59 351.2,133.08 351.8,132.90 352.4,133.67 353.0,133.57 353.6,133.86 354.2,134.48 354.8,135.03 355.4,134.85 356.0,135.26 356.6,135.66 357.2,136.11 357.8,136.07 358.4,137.19 359.0,136.96 359.6,137.66 360.2,137.50 360.8,138.34 361.4,138.73 362.0,138.80 362.6,140.19 363.2,139.96 363.8,140.96 364.4,141.08 365.0,140.87 365.6,141.42 366.2,142.16 366.8,142.40 367.4,142.76 368.0,142.99 368.6,142.74 369.2,143.73 369.8,143.27 370.4,144.65 371.0,144.54 371.6,144.86 372.2,145.36 372.8,145.85 373.4,145.45 374.0,145.59 374.6,146.11 375.2,145.97 375.8,146.64 376.4,147.90 377.0,147.07 377.6,147.99 378.2,147.40 378.8,148.29 379.4,148.25 380.0,148.56 380.6,149.02 381.2,149.68 381.8,149.24 382.4,149.39 383.0,149.12 383.6,149.90 384.2,149.72 384.8,150.29 385.4,150.07 386.0,150.90 386.6,149.52 387.2,150.30 387.8,150.88 388.4,150.49 389.0,150.41 389.6,150.72 390.2,150.37 390.8,151.06 391.4,152.08 392.0,151.65 392.6,150.84 393.2,151.01 393.8,151.28 394.4,151.92 395.0,151.27 395.6,151.39 396.2,152.09 396.8,152.14 397.4,151.71 398.0,151.47 398.6,151.35 399.2,151.74 399.8,151.17 400.4,152.41 401.0,151.89 401.6,152.37 402.2,152.96 402.8,152.71 403.4,151.81 404.0,152.65 404.6,152.79 405.2,152.06 405.8,152.00 406.4,152.37 407.0,151.80 407.6,153.05 408.2,151.53 408.8,152.07 409.4,152.44 410.0,152.48 410.6,152.66 411.2,152.73 411.8,152.56 412.4,153.12 413.0,151.83 413.6,152.71 414.2,152.45 414.8,152.81 415.4,152.87 416.0,152.44 416.6,152.57 417.2,153.16 417.8,153.01 418.4,152.61 419.0,153.72 419.6,153.85 420.2,152.36 420.8,153.08 421.4,153.98 422.0,153.31 422.6,153.10 423.2,152.95 423.8,152.83 424.4,152.98 425.0,152.86 425.6,153.39 426.2,152.95 426.8,152.95 427.4,152.65 428.0,153.13 428.6,152.80 429.2,153.10 429.8,153.60 430.4,153.34 431.0,153.41 431.6,153.36 432.2,153.25 432.8,153.18 433.4,153.12 434.0,153.55 434.6,152.82 435.2,153.80 435.8,153.28 436.4,152.98 437.0,153.08 437.6,153.01 438.2,153.35 438.8,153.00 439.4,153.75 440.0,152.98 440.6,152.39 441.2,153.01 441.8,152.50" stroke="#df5353" stroke-width="2.3"/>
<path d="M272.0,171.30 273.0,171.33 274.0,171.35 275.0,171.37 276.0,171.38 277.0,171.39 278.0,171.40 279.0,171.40 280.0,171.40 281.0,171.40 282.0,171.37 283.0,171.28 284.0,171.14 285.0,170.97 286.0,170.78 287.0,170.59 288.0,170.40 289.0,170.23 290.0,170.08 291.0,169.94 292.0,169.80 293.0,169.67 294.0,169.52 295.0,169.38 296.0,169.23 297.0,169.07 298.0,168.89 299.0,168.70 300.0,168.50 301.0,168.28 302.0,168.05 303.0,167.80 304.0,167.54 305.0,167.27 306.0,166.99 307.0,166.70 308.0,166.41 309.0,166.11 310.0,165.79 311.0,165.45 312.0,165.11 313.0,164.75 314.0,164.37 315.0,163.98 316.0,163.58 317.0,163.16 318.0,162.71 319.0,162.24 320.0,161.74 321.0,161.22 322.0,160.68 323.0,160.13 324.0,159.56 325.0,158.99 326.0,158.42 327.0,157.82 328.0,157.19 329.0,156.54 330.0,155.88 331.0,155.22 332.0,154.59 333.0,154.00 334.0,153.43 335.0,152.85 336.0,152.29 337.0,151.75 338.0,151.25 339.0,150.79 340.0,150.40 341.0,150.04 342.0,149.68 343.0,149.37 344.0,149.13 345.0,149.00 346.0,148.93 347.0,148.88 348.0,148.83 349.0,148.81 350.0,148.80 351.0,148.92 352.0,149.16 353.0,149.47 354.0,149.80 355.0,150.15 356.0,150.58 357.0,151.07 358.0,151.62 359.0,152.20 360.0,152.87 361.0,153.66 362.0,154.51 363.0,155.37 364.0,156.23 365.0,157.13 366.0,158.04 367.0,158.92 368.0,159.74 369.0,160.54 370.0,161.31 371.0,162.01 372.0,162.60 373.0,163.08 374.0,163.48 375.0,163.85 376.0,164.23 377.0,164.64 378.0,165.12 379.0,165.63 380.0,166.14 381.0,166.60 382.0,166.99 383.0,167.35 384.0,167.69 385.0,167.99 386.0,168.25 387.0,168.48 388.0,168.71 389.0,168.94 390.0,169.15 391.0,169.36 392.0,169.57 393.0,169.75 394.0,169.93 395.0,170.09 396.0,170.23 397.0,170.36 398.0,170.46 399.0,170.54 400.0,170.60 401.0,170.64 402.0,170.69 403.0,170.73 404.0,170.77 405.0,170.80 406.0,170.84 407.0,170.88 408.0,170.91 409.0,170.95 410.0,170.98 411.0,171.01 412.0,171.05 413.0,171.08 414.0,171.10 415.0,171.13 416.0,171.16 417.0,171.19 418.0,171.21 419.0,171.23 420.0,171.26 421.0,171.28 422.0,171.30 423.0,171.32 424.0,171.34 425.0,171.36 426.0,171.37 427.0,171.39 428.0,171.40 429.0,171.42 430.0,171.43 431.0,171.44 432.0,171.45 433.0,171.46 434.0,171.47 435.0,171.48 436.0,171.48 437.0,171.49 438.0,171.49 439.0,171.50 440.0,171.50 441.0,171.50 442.0,171.50" stroke="#4a7cc4" stroke-width="1.5"/>
<path d="M272.0,171.29 272.6,171.56 273.2,171.46 273.8,170.95 274.4,171.09 275.0,171.71 275.6,171.34 276.2,171.24 276.8,171.49 277.4,171.82 278.0,171.51 278.6,171.19 279.2,171.22 279.8,171.26 280.4,170.92 281.0,170.73 281.6,170.88 282.2,170.47 282.8,170.51 283.4,170.33 284.0,170.65 284.6,169.60 285.2,169.52 285.8,169.23 286.4,169.10 287.0,168.98 287.6,168.33 288.2,167.99 288.8,167.54 289.4,167.50 290.0,167.65 290.6,167.31 291.2,166.83 291.8,166.78 292.4,166.67 293.0,166.57 293.6,166.09 294.2,165.96 294.8,165.35 295.4,165.30 296.0,165.77 296.6,164.59 297.2,164.83 297.8,164.73 298.4,164.35 299.0,164.00 299.6,163.94 300.2,163.71 300.8,163.44 301.4,162.74 302.0,162.92 302.6,162.48 303.2,162.29 303.8,162.22 304.4,162.05 305.0,161.84 305.6,161.21 306.2,161.28 306.8,161.05 307.4,160.74 308.0,160.49 308.6,159.78 309.2,159.43 309.8,159.32 310.4,158.40 311.0,158.41 311.6,157.84 312.2,157.49 312.8,156.76 313.4,156.59 314.0,156.43 314.6,156.29 315.2,155.96 315.8,155.35 316.4,155.00 317.0,154.54 317.6,154.56 318.2,154.11 318.8,154.04 319.4,154.05 320.0,153.33 320.6,152.70 321.2,152.60 321.8,152.20 322.4,152.02 323.0,152.41 323.6,151.91 324.2,151.26 324.8,151.60 325.4,151.55 326.0,150.97 326.6,150.72 327.2,150.64 327.8,150.63 328.4,150.57 329.0,150.55 329.6,150.41 330.2,150.27 330.8,150.18 331.4,149.87 332.0,149.20 332.6,149.43 333.2,149.43 333.8,149.15 334.4,149.38 335.0,148.97 335.6,148.74 336.2,149.25 336.8,148.98 337.4,148.79 338.0,148.90 338.6,148.87 339.2,148.64 339.8,147.90 340.4,148.31 341.0,148.33 341.6,148.16 342.2,148.43 342.8,148.65 343.4,148.21 344.0,148.03 344.6,148.81 345.2,148.19 345.8,148.01 346.4,148.41 347.0,148.50 347.6,148.27 348.2,148.70 348.8,148.45 349.4,148.43 350.0,148.82 350.6,149.13 351.2,148.97 351.8,149.42 352.4,149.54 353.0,150.51 353.6,149.89 354.2,150.73 354.8,150.73 355.4,151.10 356.0,151.71 356.6,152.17 357.2,152.68 357.8,152.86 358.4,153.06 359.0,153.52 359.6,154.24 360.2,154.73 360.8,155.41 361.4,155.64 362.0,156.27 362.6,156.85 363.2,156.98 363.8,157.05 364.4,157.61 365.0,158.03 365.6,159.26 366.2,159.13 366.8,160.12 367.4,160.42 368.0,161.16 368.6,161.44 369.2,161.62 369.8,162.05 370.4,162.56 371.0,163.01 371.6,163.22 372.2,163.71 372.8,164.45 373.4,163.94 374.0,164.74 374.6,164.74 375.2,165.29 375.8,165.73 376.4,165.77 377.0,166.24 377.6,165.90 378.2,166.83 378.8,166.65 379.4,167.19 380.0,167.31 380.6,166.84 381.2,167.51 381.8,167.96 382.4,168.49 383.0,168.38 383.6,168.57 384.2,168.34 384.8,169.22 385.4,169.47 386.0,169.17 386.6,169.23 387.2,168.99 387.8,169.74 388.4,170.31 389.0,169.93 389.6,170.18 390.2,170.11 390.8,169.83 391.4,170.52 392.0,169.98 392.6,170.33 393.2,170.54 393.8,170.78 394.4,170.75 395.0,170.82 395.6,170.60 396.2,170.54 396.8,170.93 397.4,170.79 398.0,170.68 398.6,170.73 399.2,170.95 399.8,170.63 400.4,170.77 401.0,170.71 401.6,171.18 402.2,171.25 402.8,171.66 403.4,170.79 404.0,171.01 404.6,171.42 405.2,171.15 405.8,171.13 406.4,171.65 407.0,171.15 407.6,170.95 408.2,170.92 408.8,171.34 409.4,171.35 410.0,170.94 410.6,171.04 411.2,171.43 411.8,171.45 412.4,171.15 413.0,171.48 413.6,171.47 414.2,170.89 414.8,171.27 415.4,171.45 416.0,171.21 416.6,170.83 417.2,171.30 417.8,171.57 418.4,171.78 419.0,170.84 419.6,172.05 420.2,171.12 420.8,171.65 421.4,171.72 422.0,171.66 422.6,171.46 423.2,171.14 423.8,171.59 424.4,171.26 425.0,170.81 425.6,172.15 426.2,171.63 426.8,171.91 427.4,171.23 428.0,171.83 428.6,171.86 429.2,171.86 429.8,171.47 430.4,171.17 431.0,171.43 431.6,170.93 432.2,171.06 432.8,171.51 433.4,171.24 434.0,171.45 434.6,171.46 435.2,171.97 435.8,171.82 436.4,171.48 437.0,171.80 437.6,171.30 438.2,171.41 438.8,171.73 439.4,171.19 440.0,171.43 440.6,171.17 441.2,171.53 441.8,171.91" stroke="#df5353" stroke-width="2.3"/>
<path d="M272.0,189.80 273.0,189.83 274.0,189.85 275.0,189.87 276.0,189.88 277.0,189.89 278.0,189.90 279.0,189.90 280.0,189.90 281.0,189.90 282.0,189.89 283.0,189.87 284.0,189.83 285.0,189.78 286.0,189.73 287.0,189.66 288.0,189.59 289.0,189.52 290.0,189.43 291.0,189.30 292.0,189.14 293.0,188.96 294.0,188.75 295.0,188.53 296.0,188.30 297.0,188.06 298.0,187.82 299.0,187.58 300.0,187.32 301.0,187.04 302.0,186.74 303.0,186.43 304.0,186.11 305.0,185.79 306.0,185.46 307.0,185.13 308.0,184.80 309.0,184.48 310.0,184.15 311.0,183.82 312.0,183.48 313.0,183.14 314.0,182.78 315.0,182.42 316.0,182.05 317.0,181.66 318.0,181.26 319.0,180.83 320.0,180.40 321.0,179.95 322.0,179.49 323.0,179.02 324.0,178.55 325.0,178.07 326.0,177.59 327.0,177.12 328.0,176.63 329.0,176.13 330.0,175.63 331.0,175.13 332.0,174.62 333.0,174.11 334.0,173.60 335.0,173.10 336.0,172.60 337.0,172.10 338.0,171.60 339.0,171.10 340.0,170.60 341.0,170.06 342.0,169.49 343.0,168.95 344.0,168.50 345.0,168.19 346.0,167.91 347.0,167.67 348.0,167.49 349.0,167.40 350.0,167.41 351.0,167.47 352.0,167.56 353.0,167.68 354.0,167.82 355.0,168.06 356.0,168.44 357.0,168.92 358.0,169.44 359.0,169.97 360.0,170.61 361.0,171.32 362.0,172.07 363.0,172.83 364.0,173.59 365.0,174.39 366.0,175.21 367.0,176.03 368.0,176.84 369.0,177.66 370.0,178.48 371.0,179.29 372.0,180.07 373.0,180.82 374.0,181.56 375.0,182.27 376.0,182.94 377.0,183.56 378.0,184.14 379.0,184.70 380.0,185.22 381.0,185.69 382.0,186.10 383.0,186.50 384.0,186.87 385.0,187.19 386.0,187.46 387.0,187.67 388.0,187.88 389.0,188.08 390.0,188.27 391.0,188.46 392.0,188.63 393.0,188.79 394.0,188.93 395.0,189.07 396.0,189.19 397.0,189.29 398.0,189.38 399.0,189.45 400.0,189.50 401.0,189.54 402.0,189.58 403.0,189.62 404.0,189.66 405.0,189.70 406.0,189.74 407.0,189.77 408.0,189.81 409.0,189.84 410.0,189.88 411.0,189.91 412.0,189.94 413.0,189.97 414.0,190.00 415.0,190.03 416.0,190.05 417.0,190.08 418.0,190.11 419.0,190.13 420.0,190.15 421.0,190.17 422.0,190.20 423.0,190.21 424.0,190.23 425.0,190.25 426.0,190.27 427.0,190.28 428.0,190.30 429.0,190.31 430.0,190.33 431.0,190.34 432.0,190.35 433.0,190.36 434.0,190.37 435.0,190.37 436.0,190.38 437.0,190.39 438.0,190.39 439.0,190.40 440.0,190.40 441.0,190.40 442.0,190.40" stroke="#4a7cc4" stroke-width="1.5"/>
<path d="M272.0,189.69 272.6,189.88 273.2,189.74 273.8,189.73 274.4,189.75 275.0,190.17 275.6,190.32 276.2,190.05 276.8,189.88 277.4,190.10 278.0,189.95 278.6,190.12 279.2,190.04 279.8,190.04 280.4,190.08 281.0,189.86 281.6,189.82 282.2,189.52 282.8,189.59 283.4,189.29 284.0,189.32 284.6,189.02 285.2,188.99 285.8,188.85 286.4,188.37 287.0,188.26 287.6,188.04 288.2,188.10 288.8,188.07 289.4,187.77 290.0,187.43 290.6,187.53 291.2,186.92 291.8,187.20 292.4,186.71 293.0,186.22 293.6,186.85 294.2,186.52 294.8,185.94 295.4,185.94 296.0,185.69 296.6,185.55 297.2,185.11 297.8,185.04 298.4,185.00 299.0,184.76 299.6,184.69 300.2,184.29 300.8,184.40 301.4,183.70 302.0,183.61 302.6,183.04 303.2,182.89 303.8,183.02 304.4,182.43 305.0,182.40 305.6,182.06 306.2,181.66 306.8,181.51 307.4,181.24 308.0,181.01 308.6,180.96 309.2,180.71 309.8,180.29 310.4,180.01 311.0,179.96 311.6,179.67 312.2,179.61 312.8,179.62 313.4,179.11 314.0,178.74 314.6,178.47 315.2,178.12 315.8,177.86 316.4,177.58 317.0,177.39 317.6,177.10 318.2,176.97 318.8,176.48 319.4,176.18 320.0,175.68 320.6,175.77 321.2,175.25 321.8,175.09 322.4,174.59 323.0,174.35 323.6,173.76 324.2,173.58 324.8,173.56 325.4,172.68 326.0,172.76 326.6,172.58 327.2,172.13 327.8,171.91 328.4,171.72 329.0,171.16 329.6,171.07 330.2,170.62 330.8,170.40 331.4,170.18 332.0,170.03 332.6,169.88 333.2,169.74 333.8,169.29 334.4,169.67 335.0,169.44 335.6,169.29 336.2,169.06 336.8,169.05 337.4,169.10 338.0,169.04 338.6,168.68 339.2,169.00 339.8,169.27 340.4,168.45 341.0,168.76 341.6,168.51 342.2,168.26 342.8,168.32 343.4,167.78 344.0,167.88 344.6,168.03 345.2,167.75 345.8,167.69 346.4,167.76 347.0,167.66 347.6,167.95 348.2,167.57 348.8,167.84 349.4,167.51 350.0,167.83 350.6,167.75 351.2,167.44 351.8,167.92 352.4,167.85 353.0,168.05 353.6,168.48 354.2,168.20 354.8,168.40 355.4,169.04 356.0,169.14 356.6,169.69 357.2,169.86 357.8,170.04 358.4,170.53 359.0,171.09 359.6,171.44 360.2,171.70 360.8,172.14 361.4,172.56 362.0,172.95 362.6,173.80 363.2,173.98 363.8,174.31 364.4,174.93 365.0,175.66 365.6,176.21 366.2,176.64 366.8,177.11 367.4,177.75 368.0,178.00 368.6,178.56 369.2,179.39 369.8,179.70 370.4,180.32 371.0,180.93 371.6,181.30 372.2,181.63 372.8,182.37 373.4,182.54 374.0,182.76 374.6,183.30 375.2,183.60 375.8,183.75 376.4,184.23 377.0,184.53 377.6,184.58 378.2,185.19 378.8,185.50 379.4,185.79 380.0,185.90 380.6,186.38 381.2,186.68 381.8,186.93 382.4,186.95 383.0,187.43 383.6,187.34 384.2,187.68 384.8,188.08 385.4,187.92 386.0,188.08 386.6,188.44 387.2,188.33 387.8,188.46 388.4,188.65 389.0,188.89 389.6,188.50 390.2,188.81 390.8,188.89 391.4,188.97 392.0,189.10 392.6,189.20 393.2,189.46 393.8,189.36 394.4,189.59 395.0,189.71 395.6,189.60 396.2,189.79 396.8,190.08 397.4,189.92 398.0,189.82 398.6,189.94 399.2,189.84 399.8,190.04 400.4,190.14 401.0,189.89 401.6,190.00 402.2,190.21 402.8,189.98 403.4,190.10 404.0,189.92 404.6,189.96 405.2,190.02 405.8,190.44 406.4,190.06 407.0,190.05 407.6,190.06 408.2,190.13 408.8,190.26 409.4,190.20 410.0,190.49 410.6,190.22 411.2,190.41 411.8,190.25 412.4,190.30 413.0,190.00 413.6,190.21 414.2,190.23 414.8,190.21 415.4,189.93 416.0,190.39 416.6,190.21 417.2,190.21 417.8,190.24 418.4,190.25 419.0,190.35 419.6,190.11 420.2,190.16 420.8,190.35 421.4,190.33 422.0,190.26 422.6,190.24 423.2,190.20 423.8,190.32 424.4,190.51 425.0,190.18 425.6,190.57 426.2,190.48 426.8,190.29 427.4,190.47 428.0,190.14 428.6,190.10 429.2,190.17 429.8,190.31 430.4,190.32 431.0,190.30 431.6,190.39 432.2,190.06 432.8,190.46 433.4,190.17 434.0,190.29 434.6,190.33 435.2,190.22 435.8,190.19 436.4,190.24 437.0,190.39 437.6,190.48 438.2,190.48 438.8,190.25 439.4,190.28 440.0,190.26 440.6,190.47 441.2,190.09 441.8,190.59" stroke="#df5353" stroke-width="2.3"/>
<path d="M272.0,211.20 273.0,211.26 274.0,211.31 275.0,211.34 276.0,211.37 277.0,211.38 278.0,211.39 279.0,211.40 280.0,211.40 281.0,211.39 282.0,211.36 283.0,211.31 284.0,211.25 285.0,211.17 286.0,211.09 287.0,211.00 288.0,210.91 289.0,210.82 290.0,210.72 291.0,210.61 292.0,210.48 293.0,210.34 294.0,210.19 295.0,210.03 296.0,209.86 297.0,209.68 298.0,209.49 299.0,209.30 300.0,209.10 301.0,208.88 302.0,208.64 303.0,208.39 304.0,208.13 305.0,207.86 306.0,207.59 307.0,207.30 308.0,207.01 309.0,206.71 310.0,206.38 311.0,206.05 312.0,205.70 313.0,205.34 314.0,204.98 315.0,204.61 316.0,204.23 317.0,203.86 318.0,203.49 319.0,203.11 320.0,202.72 321.0,202.33 322.0,201.93 323.0,201.53 324.0,201.12 325.0,200.71 326.0,200.28 327.0,199.86 328.0,199.42 329.0,198.98 330.0,198.53 331.0,198.07 332.0,197.61 333.0,197.14 334.0,196.67 335.0,196.19 336.0,195.71 337.0,195.22 338.0,194.72 339.0,194.22 340.0,193.70 341.0,193.16 342.0,192.60 343.0,192.05 344.0,191.51 345.0,191.00 346.0,190.48 347.0,189.97 348.0,189.52 349.0,189.16 350.0,188.88 351.0,188.62 352.0,188.40 353.0,188.25 354.0,188.20 355.0,188.25 356.0,188.36 357.0,188.51 358.0,188.70 359.0,188.92 360.0,189.25 361.0,189.68 362.0,190.19 363.0,190.74 364.0,191.38 365.0,192.16 366.0,193.02 367.0,193.90 368.0,194.75 369.0,195.62 370.0,196.51 371.0,197.40 372.0,198.25 373.0,199.07 374.0,199.86 375.0,200.63 376.0,201.37 377.0,202.07 378.0,202.73 379.0,203.38 380.0,203.98 381.0,204.54 382.0,205.05 383.0,205.52 384.0,205.97 385.0,206.37 386.0,206.73 387.0,207.06 388.0,207.39 389.0,207.72 390.0,208.05 391.0,208.36 392.0,208.67 393.0,208.96 394.0,209.22 395.0,209.47 396.0,209.68 397.0,209.87 398.0,210.02 399.0,210.13 400.0,210.20 401.0,210.25 402.0,210.29 403.0,210.33 404.0,210.37 405.0,210.41 406.0,210.45 407.0,210.49 408.0,210.53 409.0,210.56 410.0,210.60 411.0,210.63 412.0,210.66 413.0,210.69 414.0,210.72 415.0,210.75 416.0,210.77 417.0,210.80 418.0,210.82 419.0,210.85 420.0,210.87 421.0,210.89 422.0,210.91 423.0,210.93 424.0,210.95 425.0,210.97 426.0,210.98 427.0,211.00 428.0,211.01 429.0,211.02 430.0,211.03 431.0,211.04 432.0,211.05 433.0,211.06 434.0,211.07 435.0,211.08 436.0,211.08 437.0,211.09 438.0,211.09 439.0,211.10 440.0,211.10 441.0,211.10 442.0,211.10" stroke="#4a7cc4" stroke-width="1.5"/>
<path d="M272.0,210.80 273.0,210.80 274.0,210.80 275.0,210.80 276.0,210.80 277.0,210.80 278.0,210.80 279.0,210.80 280.0,210.80 281.0,210.77 282.0,210.69 283.0,210.57 284.0,210.42 285.0,210.24 286.0,210.05 287.0,209.84 288.0,209.64 289.0,209.44 290.0,209.24 291.0,209.04 292.0,208.81 293.0,208.58 294.0,208.33 295.0,208.07 296.0,207.80 297.0,207.53 298.0,207.24 299.0,206.95 300.0,206.64 301.0,206.31 302.0,205.97 303.0,205.61 304.0,205.25 305.0,204.88 306.0,204.51 307.0,204.15 308.0,203.79 309.0,203.44 310.0,203.09 311.0,202.74 312.0,202.38 313.0,202.03 314.0,201.67 315.0,201.31 316.0,200.94 317.0,200.56 318.0,200.18 319.0,199.80 320.0,199.40 321.0,199.01 322.0,198.61 323.0,198.21 324.0,197.80 325.0,197.39 326.0,196.98 327.0,196.57 328.0,196.15 329.0,195.73 330.0,195.31 331.0,194.89 332.0,194.46 333.0,194.03 334.0,193.60 335.0,193.17 336.0,192.74 337.0,192.29 338.0,191.85 339.0,191.41 340.0,191.00 341.0,190.60 342.0,190.20 343.0,189.83 344.0,189.48 345.0,189.18 346.0,188.90 347.0,188.63 348.0,188.40 349.0,188.23 350.0,188.10 351.0,187.98 352.0,187.89 353.0,187.82 354.0,187.80 355.0,187.91 356.0,188.16 357.0,188.51 358.0,188.90 359.0,189.31 360.0,189.84 361.0,190.46 362.0,191.14 363.0,191.83 364.0,192.54 365.0,193.30 366.0,194.10 367.0,194.92 368.0,195.75 369.0,196.62 370.0,197.52 371.0,198.41 372.0,199.26 373.0,200.04 374.0,200.79 375.0,201.52 376.0,202.21 377.0,202.86 378.0,203.50 379.0,204.12 380.0,204.70 381.0,205.25 382.0,205.75 383.0,206.23 384.0,206.68 385.0,207.09 386.0,207.44 387.0,207.74 388.0,208.05 389.0,208.35 390.0,208.64 391.0,208.92 392.0,209.19 393.0,209.45 394.0,209.68 395.0,209.89 396.0,210.08 397.0,210.23 398.0,210.36 399.0,210.45 400.0,210.50 401.0,210.53 402.0,210.56 403.0,210.59 404.0,210.62 405.0,210.65 406.0,210.67 407.0,210.70 408.0,210.72 409.0,210.75 410.0,210.77 411.0,210.79 412.0,210.81 413.0,210.83 414.0,210.85 415.0,210.87 416.0,210.89 417.0,210.90 418.0,210.92 419.0,210.94 420.0,210.95 421.0,210.97 422.0,210.98 423.0,210.99 424.0,211.00 425.0,211.01 426.0,211.02 427.0,211.03 428.0,211.04 429.0,211.05 430.0,211.06 431.0,211.06 432.0,211.07 433.0,211.08 434.0,211.08 435.0,211.09 436.0,211.09 437.0,211.09 438.0,211.10 439.0,211.10 440.0,211.10 441.0,211.10 442.0,211.10" stroke="#df5353" stroke-width="1.9"/>
<path d="M272.0,229.80 273.0,229.81 274.0,229.83 275.0,229.84 276.0,229.85 277.0,229.86 278.0,229.88 279.0,229.89 280.0,229.90 281.0,229.91 282.0,229.93 283.0,229.94 284.0,229.96 285.0,229.97 286.0,229.98 287.0,229.99 288.0,230.00 289.0,230.00 290.0,229.99 291.0,229.96 292.0,229.90 293.0,229.82 294.0,229.72 295.0,229.62 296.0,229.50 297.0,229.38 298.0,229.26 299.0,229.14 300.0,229.00 301.0,228.83 302.0,228.65 303.0,228.46 304.0,228.25 305.0,228.03 306.0,227.80 307.0,227.57 308.0,227.33 309.0,227.08 310.0,226.81 311.0,226.53 312.0,226.24 313.0,225.93 314.0,225.61 315.0,225.27 316.0,224.93 317.0,224.56 318.0,224.17 319.0,223.75 320.0,223.30 321.0,222.83 322.0,222.34 323.0,221.85 324.0,221.36 325.0,220.87 326.0,220.39 327.0,219.92 328.0,219.45 329.0,218.97 330.0,218.49 331.0,218.00 332.0,217.53 333.0,217.06 334.0,216.61 335.0,216.17 336.0,215.75 337.0,215.37 338.0,215.00 339.0,214.62 340.0,214.20 341.0,213.74 342.0,213.24 343.0,212.73 344.0,212.21 345.0,211.69 346.0,211.15 347.0,210.60 348.0,210.07 349.0,209.59 350.0,209.16 351.0,208.76 352.0,208.38 353.0,208.05 354.0,207.77 355.0,207.51 356.0,207.27 357.0,207.12 358.0,207.11 359.0,207.22 360.0,207.39 361.0,207.60 362.0,207.91 363.0,208.35 364.0,208.94 365.0,209.70 366.0,210.59 367.0,211.54 368.0,212.49 369.0,213.54 370.0,214.67 371.0,215.81 372.0,216.90 373.0,217.89 374.0,218.87 375.0,219.80 376.0,220.68 377.0,221.48 378.0,222.21 379.0,222.91 380.0,223.55 381.0,224.13 382.0,224.66 383.0,225.16 384.0,225.63 385.0,226.04 386.0,226.35 387.0,226.58 388.0,226.80 389.0,227.00 390.0,227.19 391.0,227.36 392.0,227.52 393.0,227.67 394.0,227.80 395.0,227.93 396.0,228.04 397.0,228.14 398.0,228.24 399.0,228.32 400.0,228.40 401.0,228.47 402.0,228.54 403.0,228.61 404.0,228.68 405.0,228.75 406.0,228.82 407.0,228.89 408.0,228.95 409.0,229.02 410.0,229.08 411.0,229.14 412.0,229.20 413.0,229.26 414.0,229.32 415.0,229.38 416.0,229.43 417.0,229.48 418.0,229.54 419.0,229.59 420.0,229.64 421.0,229.68 422.0,229.73 423.0,229.77 424.0,229.81 425.0,229.85 426.0,229.89 427.0,229.93 428.0,229.96 429.0,229.99 430.0,230.02 431.0,230.05 432.0,230.07 433.0,230.10 434.0,230.12 435.0,230.14 436.0,230.15 437.0,230.17 438.0,230.18 439.0,230.19 440.0,230.19 441.0,230.20 442.0,230.20" stroke="#4a7cc4" stroke-width="1.5"/>
<path d="M272.0,229.80 273.0,229.80 274.0,229.80 275.0,229.80 276.0,229.80 277.0,229.80 278.0,229.80 279.0,229.80 280.0,229.80 281.0,229.80 282.0,229.80 283.0,229.80 284.0,229.80 285.0,229.80 286.0,229.80 287.0,229.80 288.0,229.80 289.0,229.80 290.0,229.79 291.0,229.75 292.0,229.68 293.0,229.59 294.0,229.49 295.0,229.37 296.0,229.24 297.0,229.10 298.0,228.97 299.0,228.83 300.0,228.68 301.0,228.50 302.0,228.31 303.0,228.10 304.0,227.88 305.0,227.65 306.0,227.41 307.0,227.17 308.0,226.93 309.0,226.67 310.0,226.40 311.0,226.12 312.0,225.83 313.0,225.53 314.0,225.21 315.0,224.88 316.0,224.53 317.0,224.16 318.0,223.77 319.0,223.33 320.0,222.87 321.0,222.38 322.0,221.88 323.0,221.38 324.0,220.87 325.0,220.37 326.0,219.89 327.0,219.43 328.0,218.95 329.0,218.48 330.0,218.01 331.0,217.54 332.0,217.07 333.0,216.62 334.0,216.18 335.0,215.76 336.0,215.37 337.0,215.01 338.0,214.66 339.0,214.30 340.0,213.90 341.0,213.45 342.0,212.95 343.0,212.43 344.0,211.91 345.0,211.40 346.0,210.88 347.0,210.36 348.0,209.86 349.0,209.39 350.0,208.94 351.0,208.48 352.0,208.06 353.0,207.71 354.0,207.48 355.0,207.32 356.0,207.18 357.0,207.07 358.0,207.01 359.0,207.04 360.0,207.29 361.0,207.72 362.0,208.27 363.0,208.84 364.0,209.50 365.0,210.33 366.0,211.29 367.0,212.30 368.0,213.30 369.0,214.39 370.0,215.55 371.0,216.71 372.0,217.80 373.0,218.79 374.0,219.75 375.0,220.66 376.0,221.51 377.0,222.27 378.0,222.97 379.0,223.61 380.0,224.21 381.0,224.75 382.0,225.24 383.0,225.72 384.0,226.17 385.0,226.56 386.0,226.85 387.0,227.07 388.0,227.26 389.0,227.45 390.0,227.62 391.0,227.77 392.0,227.92 393.0,228.05 394.0,228.17 395.0,228.28 396.0,228.39 397.0,228.48 398.0,228.56 399.0,228.63 400.0,228.70 401.0,228.76 402.0,228.82 403.0,228.88 404.0,228.94 405.0,229.00 406.0,229.06 407.0,229.11 408.0,229.17 409.0,229.22 410.0,229.27 411.0,229.33 412.0,229.38 413.0,229.43 414.0,229.47 415.0,229.52 416.0,229.57 417.0,229.61 418.0,229.65 419.0,229.70 420.0,229.74 421.0,229.78 422.0,229.81 423.0,229.85 424.0,229.88 425.0,229.92 426.0,229.95 427.0,229.98 428.0,230.00 429.0,230.03 430.0,230.05 431.0,230.08 432.0,230.10 433.0,230.12 434.0,230.13 435.0,230.15 436.0,230.16 437.0,230.17 438.0,230.18 439.0,230.19 440.0,230.20 441.0,230.20 442.0,230.20" stroke="#df5353" stroke-width="1.9"/>
<path d="M272.0,247.80 273.0,247.80 274.0,247.80 275.0,247.80 276.0,247.80 277.0,247.80 278.0,247.80 279.0,247.80 280.0,247.80 281.0,247.80 282.0,247.80 283.0,247.80 284.0,247.80 285.0,247.80 286.0,247.80 287.0,247.80 288.0,247.80 289.0,247.80 290.0,247.79 291.0,247.75 292.0,247.68 293.0,247.59 294.0,247.49 295.0,247.37 296.0,247.24 297.0,247.10 298.0,246.97 299.0,246.83 300.0,246.68 301.0,246.50 302.0,246.31 303.0,246.10 304.0,245.88 305.0,245.65 306.0,245.41 307.0,245.17 308.0,244.93 309.0,244.67 310.0,244.41 311.0,244.13 312.0,243.85 313.0,243.55 314.0,243.24 315.0,242.93 316.0,242.60 317.0,242.27 318.0,241.92 319.0,241.54 320.0,241.16 321.0,240.76 322.0,240.35 323.0,239.93 324.0,239.52 325.0,239.10 326.0,238.68 327.0,238.27 328.0,237.86 329.0,237.45 330.0,237.03 331.0,236.61 332.0,236.19 333.0,235.76 334.0,235.32 335.0,234.88 336.0,234.43 337.0,233.98 338.0,233.51 339.0,233.02 340.0,232.50 341.0,231.92 342.0,231.28 343.0,230.62 344.0,229.97 345.0,229.36 346.0,228.74 347.0,228.14 348.0,227.58 349.0,227.09 350.0,226.67 351.0,226.27 352.0,225.91 353.0,225.61 354.0,225.40 355.0,225.24 356.0,225.10 357.0,225.01 358.0,225.02 359.0,225.14 360.0,225.34 361.0,225.60 362.0,226.03 363.0,226.68 364.0,227.40 365.0,228.15 366.0,229.00 367.0,229.92 368.0,230.91 369.0,232.07 370.0,233.26 371.0,234.31 372.0,235.30 373.0,236.25 374.0,237.17 375.0,238.04 376.0,238.88 377.0,239.68 378.0,240.45 379.0,241.18 380.0,241.88 381.0,242.51 382.0,243.08 383.0,243.62 384.0,244.13 385.0,244.58 386.0,244.94 387.0,245.23 388.0,245.51 389.0,245.78 390.0,246.04 391.0,246.28 392.0,246.51 393.0,246.72 394.0,246.92 395.0,247.09 396.0,247.25 397.0,247.38 398.0,247.48 399.0,247.55 400.0,247.60 401.0,247.63 402.0,247.66 403.0,247.69 404.0,247.72 405.0,247.74 406.0,247.77 407.0,247.80 408.0,247.82 409.0,247.84 410.0,247.87 411.0,247.89 412.0,247.91 413.0,247.93 414.0,247.95 415.0,247.97 416.0,247.99 417.0,248.00 418.0,248.02 419.0,248.03 420.0,248.05 421.0,248.06 422.0,248.08 423.0,248.09 424.0,248.10 425.0,248.11 426.0,248.12 427.0,248.13 428.0,248.14 429.0,248.15 430.0,248.16 431.0,248.16 432.0,248.17 433.0,248.18 434.0,248.18 435.0,248.19 436.0,248.19 437.0,248.19 438.0,248.20 439.0,248.20 440.0,248.20 441.0,248.20 442.0,248.20" stroke="#4a7cc4" stroke-width="1.5"/>
<path d="M272.0,247.80 273.0,247.80 274.0,247.80 275.0,247.80 276.0,247.80 277.0,247.80 278.0,247.80 279.0,247.80 280.0,247.80 281.0,247.80 282.0,247.80 283.0,247.80 284.0,247.80 285.0,247.80 286.0,247.80 287.0,247.80 288.0,247.80 289.0,247.80 290.0,247.79 291.0,247.75 292.0,247.68 293.0,247.59 294.0,247.49 295.0,247.37 296.0,247.24 297.0,247.10 298.0,246.97 299.0,246.83 300.0,246.68 301.0,246.50 302.0,246.31 303.0,246.10 304.0,245.88 305.0,245.65 306.0,245.41 307.0,245.17 308.0,244.93 309.0,244.67 310.0,244.39 311.0,244.11 312.0,243.81 313.0,243.49 314.0,243.17 315.0,242.84 316.0,242.51 317.0,242.17 318.0,241.81 319.0,241.43 320.0,241.04 321.0,240.63 322.0,240.22 323.0,239.81 324.0,239.39 325.0,238.98 326.0,238.58 327.0,238.19 328.0,237.80 329.0,237.42 330.0,237.04 331.0,236.66 332.0,236.27 333.0,235.88 334.0,235.48 335.0,235.07 336.0,234.64 337.0,234.21 338.0,233.77 339.0,233.30 340.0,232.80 341.0,232.24 342.0,231.63 343.0,230.99 344.0,230.36 345.0,229.76 346.0,229.16 347.0,228.55 348.0,227.99 349.0,227.49 350.0,227.06 351.0,226.65 352.0,226.27 353.0,225.95 354.0,225.70 355.0,225.48 356.0,225.28 357.0,225.11 358.0,225.01 359.0,225.02 360.0,225.19 361.0,225.46 362.0,225.80 363.0,226.33 364.0,227.10 365.0,228.00 366.0,229.07 367.0,230.33 368.0,231.56 369.0,232.82 370.0,234.04 371.0,235.13 372.0,236.15 373.0,237.14 374.0,238.07 375.0,238.96 376.0,239.80 377.0,240.58 378.0,241.31 379.0,242.00 380.0,242.64 381.0,243.23 382.0,243.77 383.0,244.29 384.0,244.78 385.0,245.21 386.0,245.55 387.0,245.81 388.0,246.06 389.0,246.31 390.0,246.54 391.0,246.76 392.0,246.97 393.0,247.16 394.0,247.33 395.0,247.48 396.0,247.62 397.0,247.73 398.0,247.81 399.0,247.87 400.0,247.90 401.0,247.92 402.0,247.93 403.0,247.95 404.0,247.96 405.0,247.97 406.0,247.99 407.0,248.00 408.0,248.01 409.0,248.03 410.0,248.04 411.0,248.05 412.0,248.06 413.0,248.07 414.0,248.08 415.0,248.09 416.0,248.10 417.0,248.11 418.0,248.11 419.0,248.12 420.0,248.13 421.0,248.14 422.0,248.14 423.0,248.15 424.0,248.15 425.0,248.16 426.0,248.16 427.0,248.17 428.0,248.17 429.0,248.18 430.0,248.18 431.0,248.18 432.0,248.19 433.0,248.19 434.0,248.19 435.0,248.19 436.0,248.20 437.0,248.20 438.0,248.20 439.0,248.20 440.0,248.20 441.0,248.20 442.0,248.20" stroke="#df5353" stroke-width="1.9"/>
<path d="M272.0,266.60 273.0,266.60 274.0,266.60 275.0,266.60 276.0,266.60 277.0,266.60 278.0,266.60 279.0,266.60 280.0,266.60 281.0,266.59 282.0,266.57 283.0,266.53 284.0,266.47 285.0,266.41 286.0,266.34 287.0,266.27 288.0,266.19 289.0,266.12 290.0,266.03 291.0,265.94 292.0,265.83 293.0,265.71 294.0,265.58 295.0,265.44 296.0,265.29 297.0,265.14 298.0,264.98 299.0,264.82 300.0,264.65 301.0,264.47 302.0,264.28 303.0,264.07 304.0,263.86 305.0,263.64 306.0,263.41 307.0,263.17 308.0,262.92 309.0,262.66 310.0,262.37 311.0,262.07 312.0,261.75 313.0,261.43 314.0,261.09 315.0,260.75 316.0,260.41 317.0,260.07 318.0,259.72 319.0,259.36 320.0,259.00 321.0,258.63 322.0,258.25 323.0,257.87 324.0,257.48 325.0,257.08 326.0,256.68 327.0,256.27 328.0,255.84 329.0,255.39 330.0,254.94 331.0,254.48 332.0,254.03 333.0,253.59 334.0,253.16 335.0,252.76 336.0,252.38 337.0,252.04 338.0,251.71 339.0,251.38 340.0,251.00 341.0,250.57 342.0,250.10 343.0,249.60 344.0,249.10 345.0,248.60 346.0,248.11 347.0,247.60 348.0,247.10 349.0,246.60 350.0,246.08 351.0,245.53 352.0,244.99 353.0,244.52 354.0,244.17 355.0,243.89 356.0,243.64 357.0,243.43 358.0,243.32 359.0,243.31 360.0,243.36 361.0,243.45 362.0,243.57 363.0,243.83 364.0,244.37 365.0,245.10 366.0,245.88 367.0,246.84 368.0,248.01 369.0,249.22 370.0,250.37 371.0,251.54 372.0,252.69 373.0,253.72 374.0,254.59 375.0,255.37 376.0,256.08 377.0,256.77 378.0,257.43 379.0,258.06 380.0,258.65 381.0,259.23 382.0,259.77 383.0,260.33 384.0,260.87 385.0,261.35 386.0,261.74 387.0,262.04 388.0,262.32 389.0,262.58 390.0,262.83 391.0,263.07 392.0,263.29 393.0,263.49 394.0,263.68 395.0,263.85 396.0,264.01 397.0,264.16 398.0,264.29 399.0,264.40 400.0,264.50 401.0,264.59 402.0,264.68 403.0,264.77 404.0,264.86 405.0,264.94 406.0,265.03 407.0,265.11 408.0,265.19 409.0,265.27 410.0,265.35 411.0,265.42 412.0,265.50 413.0,265.57 414.0,265.64 415.0,265.71 416.0,265.78 417.0,265.84 418.0,265.90 419.0,265.96 420.0,266.02 421.0,266.08 422.0,266.14 423.0,266.19 424.0,266.24 425.0,266.29 426.0,266.33 427.0,266.37 428.0,266.41 429.0,266.45 430.0,266.49 431.0,266.52 432.0,266.55 433.0,266.58 434.0,266.60 435.0,266.63 436.0,266.65 437.0,266.66 438.0,266.68 439.0,266.69 440.0,266.69 441.0,266.70 442.0,266.70" stroke="#4a7cc4" stroke-width="1.5"/>
<path d="M272.0,266.60 273.0,266.60 274.0,266.60 275.0,266.60 276.0,266.60 277.0,266.60 278.0,266.60 279.0,266.60 280.0,266.60 281.0,266.60 282.0,266.59 283.0,266.57 284.0,266.56 285.0,266.53 286.0,266.51 287.0,266.48 288.0,266.44 289.0,266.41 290.0,266.36 291.0,266.28 292.0,266.18 293.0,266.06 294.0,265.92 295.0,265.76 296.0,265.60 297.0,265.44 298.0,265.28 299.0,265.12 300.0,264.96 301.0,264.79 302.0,264.60 303.0,264.41 304.0,264.22 305.0,264.01 306.0,263.79 307.0,263.56 308.0,263.33 309.0,263.07 310.0,262.79 311.0,262.50 312.0,262.19 313.0,261.87 314.0,261.55 315.0,261.22 316.0,260.89 317.0,260.57 318.0,260.24 319.0,259.91 320.0,259.58 321.0,259.24 322.0,258.90 323.0,258.55 324.0,258.20 325.0,257.84 326.0,257.47 327.0,257.10 328.0,256.70 329.0,256.29 330.0,255.87 331.0,255.45 332.0,255.03 333.0,254.62 334.0,254.22 335.0,253.84 336.0,253.49 337.0,253.16 338.0,252.84 339.0,252.52 340.0,252.20 341.0,251.88 342.0,251.56 343.0,251.24 344.0,250.91 345.0,250.56 346.0,250.20 347.0,249.83 348.0,249.43 349.0,248.99 350.0,248.48 351.0,247.87 352.0,247.22 353.0,246.59 354.0,246.05 355.0,245.55 356.0,245.06 357.0,244.63 358.0,244.31 359.0,244.12 360.0,243.97 361.0,243.85 362.0,243.80 363.0,243.96 364.0,244.53 365.0,245.33 366.0,246.19 367.0,247.29 368.0,248.66 369.0,250.06 370.0,251.30 371.0,252.49 372.0,253.64 373.0,254.70 374.0,255.67 375.0,256.58 376.0,257.42 377.0,258.17 378.0,258.87 379.0,259.52 380.0,260.12 381.0,260.66 382.0,261.13 383.0,261.57 384.0,261.97 385.0,262.33 386.0,262.64 387.0,262.92 388.0,263.20 389.0,263.47 390.0,263.73 391.0,263.99 392.0,264.23 393.0,264.46 394.0,264.67 395.0,264.87 396.0,265.04 397.0,265.20 398.0,265.33 399.0,265.43 400.0,265.50 401.0,265.56 402.0,265.61 403.0,265.67 404.0,265.72 405.0,265.77 406.0,265.82 407.0,265.87 408.0,265.91 409.0,265.96 410.0,266.00 411.0,266.05 412.0,266.09 413.0,266.13 414.0,266.17 415.0,266.21 416.0,266.24 417.0,266.28 418.0,266.31 419.0,266.34 420.0,266.37 421.0,266.40 422.0,266.43 423.0,266.46 424.0,266.48 425.0,266.50 426.0,266.53 427.0,266.55 428.0,266.57 429.0,266.59 430.0,266.60 431.0,266.62 432.0,266.63 433.0,266.65 434.0,266.66 435.0,266.67 436.0,266.68 437.0,266.68 438.0,266.69 439.0,266.69 440.0,266.70 441.0,266.70 442.0,266.70" stroke="#df5353" stroke-width="1.9"/>
<path d="M272.0,284.20 273.0,284.20 274.0,284.20 275.0,284.20 276.0,284.20 277.0,284.20 278.0,284.20 279.0,284.20 280.0,284.20 281.0,284.20 282.0,284.19 283.0,284.17 284.0,284.16 285.0,284.13 286.0,284.11 287.0,284.08 288.0,284.04 289.0,284.01 290.0,283.96 291.0,283.88 292.0,283.78 293.0,283.66 294.0,283.52 295.0,283.37 296.0,283.21 297.0,283.04 298.0,282.88 299.0,282.72 300.0,282.55 301.0,282.36 302.0,282.16 303.0,281.96 304.0,281.74 305.0,281.52 306.0,281.30 307.0,281.06 308.0,280.83 309.0,280.59 310.0,280.34 311.0,280.08 312.0,279.82 313.0,279.55 314.0,279.27 315.0,278.98 316.0,278.68 317.0,278.37 318.0,278.05 319.0,277.72 320.0,277.38 321.0,277.02 322.0,276.66 323.0,276.28 324.0,275.89 325.0,275.49 326.0,275.08 327.0,274.65 328.0,274.19 329.0,273.70 330.0,273.19 331.0,272.68 332.0,272.16 333.0,271.65 334.0,271.15 335.0,270.68 336.0,270.24 337.0,269.84 338.0,269.45 339.0,269.05 340.0,268.60 341.0,268.08 342.0,267.51 343.0,266.92 344.0,266.33 345.0,265.78 346.0,265.23 347.0,264.69 348.0,264.17 349.0,263.69 350.0,263.24 351.0,262.78 352.0,262.36 353.0,262.01 354.0,261.78 355.0,261.62 356.0,261.48 357.0,261.37 358.0,261.31 359.0,261.31 360.0,261.40 361.0,261.56 362.0,261.76 363.0,262.02 364.0,262.42 365.0,262.95 366.0,263.57 367.0,264.45 368.0,265.59 369.0,266.82 370.0,267.97 371.0,269.16 372.0,270.35 373.0,271.50 374.0,272.62 375.0,273.73 376.0,274.77 377.0,275.68 378.0,276.47 379.0,277.19 380.0,277.86 381.0,278.49 382.0,279.11 383.0,279.75 384.0,280.37 385.0,280.92 386.0,281.34 387.0,281.64 388.0,281.93 389.0,282.21 390.0,282.48 391.0,282.73 392.0,282.96 393.0,283.18 394.0,283.37 395.0,283.54 396.0,283.69 397.0,283.81 398.0,283.90 399.0,283.97 400.0,284.00 401.0,284.02 402.0,284.03 403.0,284.05 404.0,284.06 405.0,284.08 406.0,284.09 407.0,284.10 408.0,284.11 409.0,284.13 410.0,284.14 411.0,284.15 412.0,284.16 413.0,284.17 414.0,284.18 415.0,284.19 416.0,284.20 417.0,284.21 418.0,284.21 419.0,284.22 420.0,284.23 421.0,284.24 422.0,284.24 423.0,284.25 424.0,284.25 425.0,284.26 426.0,284.26 427.0,284.27 428.0,284.27 429.0,284.28 430.0,284.28 431.0,284.28 432.0,284.29 433.0,284.29 434.0,284.29 435.0,284.29 436.0,284.30 437.0,284.30 438.0,284.30 439.0,284.30 440.0,284.30 441.0,284.30 442.0,284.30" stroke="#4a7cc4" stroke-width="1.5"/>
<path d="M272.0,284.20 273.0,284.20 274.0,284.20 275.0,284.20 276.0,284.20 277.0,284.20 278.0,284.20 279.0,284.20 280.0,284.20 281.0,284.20 282.0,284.19 283.0,284.17 284.0,284.16 285.0,284.13 286.0,284.11 287.0,284.08 288.0,284.04 289.0,284.01 290.0,283.96 291.0,283.88 292.0,283.78 293.0,283.66 294.0,283.52 295.0,283.37 296.0,283.21 297.0,283.04 298.0,282.88 299.0,282.72 300.0,282.54 301.0,282.36 302.0,282.16 303.0,281.95 304.0,281.73 305.0,281.51 306.0,281.29 307.0,281.06 308.0,280.83 309.0,280.60 310.0,280.37 311.0,280.14 312.0,279.90 313.0,279.65 314.0,279.39 315.0,279.13 316.0,278.86 317.0,278.57 318.0,278.27 319.0,277.96 320.0,277.64 321.0,277.31 322.0,276.96 323.0,276.61 324.0,276.24 325.0,275.86 326.0,275.48 327.0,275.07 328.0,274.63 329.0,274.17 330.0,273.69 331.0,273.20 332.0,272.71 333.0,272.24 334.0,271.78 335.0,271.36 336.0,270.98 337.0,270.64 338.0,270.32 339.0,269.98 340.0,269.60 341.0,269.15 342.0,268.66 343.0,268.13 344.0,267.61 345.0,267.10 346.0,266.60 347.0,266.10 348.0,265.60 349.0,265.10 350.0,264.58 351.0,264.03 352.0,263.49 353.0,263.02 354.0,262.67 355.0,262.39 356.0,262.14 357.0,261.93 358.0,261.82 359.0,261.80 360.0,261.80 361.0,261.80 362.0,261.80 363.0,261.92 364.0,262.35 365.0,262.97 366.0,263.67 367.0,264.71 368.0,266.09 369.0,267.54 370.0,268.83 371.0,270.09 372.0,271.33 373.0,272.50 374.0,273.62 375.0,274.71 376.0,275.71 377.0,276.58 378.0,277.33 379.0,278.00 380.0,278.62 381.0,279.21 382.0,279.80 383.0,280.42 384.0,281.02 385.0,281.54 386.0,281.94 387.0,282.22 388.0,282.49 389.0,282.74 390.0,282.98 391.0,283.21 392.0,283.42 393.0,283.61 394.0,283.78 395.0,283.93 396.0,284.06 397.0,284.16 398.0,284.24 399.0,284.28 400.0,284.30 401.0,284.30 402.0,284.30 403.0,284.30 404.0,284.30 405.0,284.30 406.0,284.30 407.0,284.30 408.0,284.30 409.0,284.30 410.0,284.30 411.0,284.30 412.0,284.30 413.0,284.30 414.0,284.30 415.0,284.30 416.0,284.30 417.0,284.30 418.0,284.30 419.0,284.30 420.0,284.30 421.0,284.30 422.0,284.30 423.0,284.30 424.0,284.30 425.0,284.30 426.0,284.30 427.0,284.30 428.0,284.30 429.0,284.30 430.0,284.30 431.0,284.30 432.0,284.30 433.0,284.30 434.0,284.30 435.0,284.30 436.0,284.30 437.0,284.30 438.0,284.30 439.0,284.30 440.0,284.30 441.0,284.30 442.0,284.30" stroke="#df5353" stroke-width="1.9"/>
<path d="M272.0,302.10 273.0,302.10 274.0,302.10 275.0,302.10 276.0,302.10 277.0,302.10 278.0,302.10 279.0,302.10 280.0,302.10 281.0,302.09 282.0,302.08 283.0,302.06 284.0,302.02 285.0,301.99 286.0,301.95 287.0,301.90 288.0,301.86 289.0,301.81 290.0,301.76 291.0,301.71 292.0,301.65 293.0,301.58 294.0,301.51 295.0,301.43 296.0,301.34 297.0,301.25 298.0,301.15 299.0,301.05 300.0,300.92 301.0,300.78 302.0,300.63 303.0,300.46 304.0,300.28 305.0,300.10 306.0,299.91 307.0,299.73 308.0,299.55 309.0,299.36 310.0,299.18 311.0,298.99 312.0,298.79 313.0,298.59 314.0,298.38 315.0,298.15 316.0,297.92 317.0,297.67 318.0,297.41 319.0,297.12 320.0,296.82 321.0,296.50 322.0,296.17 323.0,295.83 324.0,295.48 325.0,295.13 326.0,294.77 327.0,294.41 328.0,294.04 329.0,293.66 330.0,293.27 331.0,292.86 332.0,292.46 333.0,292.04 334.0,291.61 335.0,291.18 336.0,290.73 337.0,290.26 338.0,289.77 339.0,289.28 340.0,288.80 341.0,288.33 342.0,287.87 343.0,287.40 344.0,286.91 345.0,286.39 346.0,285.82 347.0,285.23 348.0,284.62 349.0,284.02 350.0,283.41 351.0,282.78 352.0,282.16 353.0,281.57 354.0,281.05 355.0,280.55 356.0,280.06 357.0,279.63 358.0,279.31 359.0,279.12 360.0,278.97 361.0,278.85 362.0,278.80 363.0,278.86 364.0,279.08 365.0,279.42 366.0,279.85 367.0,280.75 368.0,282.13 369.0,283.63 370.0,284.93 371.0,286.19 372.0,287.44 373.0,288.66 374.0,289.87 375.0,291.09 376.0,292.22 377.0,293.19 378.0,294.01 379.0,294.76 380.0,295.44 381.0,296.03 382.0,296.55 383.0,297.03 384.0,297.46 385.0,297.84 386.0,298.15 387.0,298.40 388.0,298.64 389.0,298.87 390.0,299.08 391.0,299.29 392.0,299.48 393.0,299.66 394.0,299.82 395.0,299.97 396.0,300.11 397.0,300.23 398.0,300.34 399.0,300.43 400.0,300.50 401.0,300.57 402.0,300.63 403.0,300.69 404.0,300.75 405.0,300.81 406.0,300.87 407.0,300.93 408.0,300.99 409.0,301.04 410.0,301.10 411.0,301.15 412.0,301.20 413.0,301.25 414.0,301.30 415.0,301.35 416.0,301.39 417.0,301.44 418.0,301.48 419.0,301.52 420.0,301.56 421.0,301.60 422.0,301.63 423.0,301.67 424.0,301.70 425.0,301.73 426.0,301.76 427.0,301.79 428.0,301.82 429.0,301.84 430.0,301.86 431.0,301.89 432.0,301.91 433.0,301.92 434.0,301.94 435.0,301.95 436.0,301.97 437.0,301.98 438.0,301.98 439.0,301.99 440.0,302.00 441.0,302.00 442.0,302.00" stroke="#4a7cc4" stroke-width="1.5"/>
<path d="M272.0,302.10 273.0,302.10 274.0,302.10 275.0,302.10 276.0,302.10 277.0,302.10 278.0,302.10 279.0,302.10 280.0,302.10 281.0,302.09 282.0,302.08 283.0,302.06 284.0,302.03 285.0,301.99 286.0,301.95 287.0,301.91 288.0,301.86 289.0,301.81 290.0,301.76 291.0,301.69 292.0,301.61 293.0,301.52 294.0,301.42 295.0,301.32 296.0,301.20 297.0,301.08 298.0,300.96 299.0,300.84 300.0,300.70 301.0,300.55 302.0,300.38 303.0,300.21 304.0,300.03 305.0,299.84 306.0,299.64 307.0,299.44 308.0,299.24 309.0,299.03 310.0,298.81 311.0,298.59 312.0,298.36 313.0,298.11 314.0,297.85 315.0,297.57 316.0,297.28 317.0,296.97 318.0,296.62 319.0,296.24 320.0,295.82 321.0,295.38 322.0,294.92 323.0,294.43 324.0,293.93 325.0,293.42 326.0,292.90 327.0,292.37 328.0,291.78 329.0,291.17 330.0,290.57 331.0,289.99 332.0,289.44 333.0,288.90 334.0,288.36 335.0,287.82 336.0,287.25 337.0,286.63 338.0,286.00 339.0,285.44 340.0,285.00 341.0,284.67 342.0,284.39 343.0,284.15 344.0,283.93 345.0,283.72 346.0,283.55 347.0,283.40 348.0,283.25 349.0,283.05 350.0,282.76 351.0,282.36 352.0,281.90 353.0,281.45 354.0,281.07 355.0,280.71 356.0,280.36 357.0,280.04 358.0,279.79 359.0,279.62 360.0,279.47 361.0,279.33 362.0,279.24 363.0,279.20 364.0,279.34 365.0,279.73 366.0,280.26 367.0,281.21 368.0,282.59 369.0,284.10 370.0,285.48 371.0,286.89 372.0,288.31 373.0,289.65 374.0,290.88 375.0,292.06 376.0,293.15 377.0,294.09 378.0,294.91 379.0,295.66 380.0,296.34 381.0,296.93 382.0,297.45 383.0,297.93 384.0,298.36 385.0,298.74 386.0,299.05 387.0,299.30 388.0,299.55 389.0,299.78 390.0,300.01 391.0,300.22 392.0,300.43 393.0,300.62 394.0,300.79 395.0,300.94 396.0,301.08 397.0,301.19 398.0,301.29 399.0,301.36 400.0,301.40 401.0,301.43 402.0,301.46 403.0,301.49 404.0,301.52 405.0,301.54 406.0,301.57 407.0,301.59 408.0,301.62 409.0,301.64 410.0,301.66 411.0,301.69 412.0,301.71 413.0,301.73 414.0,301.75 415.0,301.77 416.0,301.78 417.0,301.80 418.0,301.82 419.0,301.83 420.0,301.85 421.0,301.86 422.0,301.87 423.0,301.89 424.0,301.90 425.0,301.91 426.0,301.92 427.0,301.93 428.0,301.94 429.0,301.95 430.0,301.96 431.0,301.96 432.0,301.97 433.0,301.98 434.0,301.98 435.0,301.99 436.0,301.99 437.0,301.99 438.0,302.00 439.0,302.00 440.0,302.00 441.0,302.00 442.0,302.00" stroke="#df5353" stroke-width="1.9"/>
<path d="M272.0,319.80 273.0,319.80 274.0,319.80 275.0,319.80 276.0,319.80 277.0,319.80 278.0,319.80 279.0,319.80 280.0,319.80 281.0,319.80 282.0,319.80 283.0,319.80 284.0,319.80 285.0,319.80 286.0,319.80 287.0,319.80 288.0,319.80 289.0,319.80 290.0,319.79 291.0,319.77 292.0,319.73 293.0,319.68 294.0,319.62 295.0,319.56 296.0,319.49 297.0,319.41 298.0,319.34 299.0,319.26 300.0,319.18 301.0,319.09 302.0,318.99 303.0,318.89 304.0,318.77 305.0,318.65 306.0,318.53 307.0,318.39 308.0,318.26 309.0,318.11 310.0,317.96 311.0,317.79 312.0,317.62 313.0,317.43 314.0,317.23 315.0,317.03 316.0,316.81 317.0,316.58 318.0,316.33 319.0,316.06 320.0,315.76 321.0,315.45 322.0,315.13 323.0,314.78 324.0,314.43 325.0,314.06 326.0,313.68 327.0,313.28 328.0,312.86 329.0,312.41 330.0,311.95 331.0,311.46 332.0,310.96 333.0,310.45 334.0,309.93 335.0,309.41 336.0,308.88 337.0,308.34 338.0,307.78 339.0,307.20 340.0,306.60 341.0,305.97 342.0,305.30 343.0,304.63 344.0,303.97 345.0,303.36 346.0,302.74 347.0,302.12 348.0,301.53 349.0,300.97 350.0,300.47 351.0,300.04 352.0,299.67 353.0,299.34 354.0,299.03 355.0,298.70 356.0,298.31 357.0,297.78 358.0,297.31 359.0,297.16 360.0,297.09 361.0,297.04 362.0,297.01 363.0,297.00 364.0,297.07 365.0,297.26 366.0,297.55 367.0,297.87 368.0,298.29 369.0,298.91 370.0,299.88 371.0,301.78 372.0,303.77 373.0,305.75 374.0,307.67 375.0,309.25 376.0,310.63 377.0,311.80 378.0,312.83 379.0,313.80 380.0,314.68 381.0,315.45 382.0,316.09 383.0,316.62 384.0,317.11 385.0,317.54 386.0,317.90 387.0,318.19 388.0,318.40 389.0,318.59 390.0,318.77 391.0,318.94 392.0,319.10 393.0,319.24 394.0,319.37 395.0,319.49 396.0,319.59 397.0,319.67 398.0,319.73 399.0,319.78 400.0,319.80 401.0,319.81 402.0,319.82 403.0,319.83 404.0,319.84 405.0,319.85 406.0,319.86 407.0,319.87 408.0,319.88 409.0,319.88 410.0,319.89 411.0,319.90 412.0,319.91 413.0,319.91 414.0,319.92 415.0,319.93 416.0,319.93 417.0,319.94 418.0,319.94 419.0,319.95 420.0,319.95 421.0,319.96 422.0,319.96 423.0,319.97 424.0,319.97 425.0,319.97 426.0,319.98 427.0,319.98 428.0,319.98 429.0,319.98 430.0,319.99 431.0,319.99 432.0,319.99 433.0,319.99 434.0,319.99 435.0,320.00 436.0,320.00 437.0,320.00 438.0,320.00 439.0,320.00 440.0,320.00 441.0,320.00 442.0,320.00" stroke="#4a7cc4" stroke-width="1.5"/>
<path d="M272.0,319.80 273.0,319.80 274.0,319.80 275.0,319.80 276.0,319.80 277.0,319.80 278.0,319.80 279.0,319.80 280.0,319.80 281.0,319.80 282.0,319.80 283.0,319.80 284.0,319.80 285.0,319.80 286.0,319.80 287.0,319.80 288.0,319.80 289.0,319.80 290.0,319.79 291.0,319.77 292.0,319.73 293.0,319.68 294.0,319.62 295.0,319.56 296.0,319.49 297.0,319.41 298.0,319.34 299.0,319.26 300.0,319.18 301.0,319.09 302.0,318.99 303.0,318.88 304.0,318.77 305.0,318.65 306.0,318.52 307.0,318.39 308.0,318.26 309.0,318.12 310.0,317.97 311.0,317.81 312.0,317.65 313.0,317.47 314.0,317.29 315.0,317.09 316.0,316.89 317.0,316.68 318.0,316.45 319.0,316.21 320.0,315.95 321.0,315.67 322.0,315.38 323.0,315.07 324.0,314.75 325.0,314.42 326.0,314.07 327.0,313.70 328.0,313.30 329.0,312.87 330.0,312.42 331.0,311.95 332.0,311.46 333.0,310.97 334.0,310.48 335.0,309.99 336.0,309.51 337.0,309.04 338.0,308.55 339.0,308.04 340.0,307.50 341.0,306.87 342.0,306.16 343.0,305.45 344.0,304.81 345.0,304.32 346.0,303.92 347.0,303.57 348.0,303.25 349.0,302.93 350.0,302.61 351.0,302.26 352.0,301.92 353.0,301.59 354.0,301.25 355.0,300.86 356.0,300.40 357.0,299.75 358.0,299.07 359.0,298.56 360.0,298.09 361.0,297.66 362.0,297.34 363.0,297.20 364.0,297.20 365.0,297.20 366.0,297.20 367.0,297.22 368.0,297.84 369.0,299.01 370.0,300.44 371.0,302.64 372.0,304.80 373.0,306.82 374.0,308.69 375.0,310.24 376.0,311.57 377.0,312.70 378.0,313.69 379.0,314.62 380.0,315.46 381.0,316.20 382.0,316.80 383.0,317.29 384.0,317.73 385.0,318.12 386.0,318.45 387.0,318.70 388.0,318.89 389.0,319.05 390.0,319.21 391.0,319.36 392.0,319.51 393.0,319.63 394.0,319.75 395.0,319.85 396.0,319.94 397.0,320.01 398.0,320.06 399.0,320.09 400.0,320.10 401.0,320.10 402.0,320.10 403.0,320.10 404.0,320.10 405.0,320.10 406.0,320.10 407.0,320.10 408.0,320.10 409.0,320.10 410.0,320.10 411.0,320.10 412.0,320.10 413.0,320.10 414.0,320.10 415.0,320.10 416.0,320.09 417.0,320.09 418.0,320.09 419.0,320.09 420.0,320.09 421.0,320.09 422.0,320.09 423.0,320.08 424.0,320.08 425.0,320.08 426.0,320.08 427.0,320.07 428.0,320.07 429.0,320.07 430.0,320.06 431.0,320.06 432.0,320.06 433.0,320.05 434.0,320.05 435.0,320.04 436.0,320.04 437.0,320.03 438.0,320.03 439.0,320.02 440.0,320.01 441.0,320.01 442.0,320.00" stroke="#df5353" stroke-width="1.9"/>
<path d="M272.0,337.80 273.0,337.80 274.0,337.80 275.0,337.80 276.0,337.80 277.0,337.80 278.0,337.80 279.0,337.80 280.0,337.80 281.0,337.79 282.0,337.78 283.0,337.75 284.0,337.72 285.0,337.68 286.0,337.64 287.0,337.60 288.0,337.55 289.0,337.51 290.0,337.46 291.0,337.41 292.0,337.36 293.0,337.30 294.0,337.24 295.0,337.17 296.0,337.10 297.0,337.02 298.0,336.94 299.0,336.86 300.0,336.76 301.0,336.66 302.0,336.56 303.0,336.44 304.0,336.32 305.0,336.19 306.0,336.05 307.0,335.90 308.0,335.75 309.0,335.59 310.0,335.41 311.0,335.23 312.0,335.02 313.0,334.81 314.0,334.59 315.0,334.36 316.0,334.12 317.0,333.88 318.0,333.62 319.0,333.34 320.0,333.06 321.0,332.75 322.0,332.44 323.0,332.11 324.0,331.78 325.0,331.43 326.0,331.07 327.0,330.70 328.0,330.31 329.0,329.89 330.0,329.46 331.0,329.02 332.0,328.57 333.0,328.11 334.0,327.64 335.0,327.18 336.0,326.72 337.0,326.24 338.0,325.75 339.0,325.26 340.0,324.80 341.0,324.37 342.0,323.96 343.0,323.56 344.0,323.15 345.0,322.73 346.0,322.29 347.0,321.84 348.0,321.39 349.0,320.91 350.0,320.41 351.0,319.88 352.0,319.26 353.0,318.60 354.0,317.94 355.0,317.32 356.0,316.80 357.0,316.28 358.0,315.75 359.0,315.29 360.0,314.95 361.0,314.80 362.0,314.80 363.0,314.80 364.0,314.80 365.0,314.80 366.0,314.91 367.0,315.38 368.0,316.09 369.0,316.90 370.0,318.00 371.0,319.49 372.0,321.10 373.0,323.01 374.0,325.00 375.0,326.71 376.0,328.19 377.0,329.51 378.0,330.60 379.0,331.50 380.0,332.30 381.0,332.98 382.0,333.51 383.0,333.91 384.0,334.26 385.0,334.56 386.0,334.81 387.0,335.01 388.0,335.18 389.0,335.33 390.0,335.47 391.0,335.61 392.0,335.73 393.0,335.84 394.0,335.95 395.0,336.04 396.0,336.13 397.0,336.21 398.0,336.28 399.0,336.34 400.0,336.40 401.0,336.45 402.0,336.50 403.0,336.56 404.0,336.61 405.0,336.66 406.0,336.71 407.0,336.75 408.0,336.80 409.0,336.85 410.0,336.89 411.0,336.94 412.0,336.98 413.0,337.02 414.0,337.07 415.0,337.11 416.0,337.15 417.0,337.18 418.0,337.22 419.0,337.26 420.0,337.29 421.0,337.33 422.0,337.36 423.0,337.39 424.0,337.42 425.0,337.45 426.0,337.48 427.0,337.50 428.0,337.53 429.0,337.55 430.0,337.57 431.0,337.59 432.0,337.61 433.0,337.63 434.0,337.64 435.0,337.66 436.0,337.67 437.0,337.68 438.0,337.69 439.0,337.69 440.0,337.70 441.0,337.70 442.0,337.70" stroke="#4a7cc4" stroke-width="1.5"/>
<path d="M272.0,337.80 273.0,337.80 274.0,337.80 275.0,337.80 276.0,337.80 277.0,337.80 278.0,337.80 279.0,337.80 280.0,337.80 281.0,337.79 282.0,337.78 283.0,337.75 284.0,337.72 285.0,337.68 286.0,337.64 287.0,337.60 288.0,337.55 289.0,337.51 290.0,337.46 291.0,337.41 292.0,337.36 293.0,337.30 294.0,337.23 295.0,337.17 296.0,337.09 297.0,337.02 298.0,336.94 299.0,336.86 300.0,336.77 301.0,336.68 302.0,336.58 303.0,336.48 304.0,336.37 305.0,336.25 306.0,336.13 307.0,336.00 308.0,335.86 309.0,335.71 310.0,335.54 311.0,335.36 312.0,335.17 313.0,334.97 314.0,334.76 315.0,334.54 316.0,334.31 317.0,334.08 318.0,333.83 319.0,333.56 320.0,333.28 321.0,332.99 322.0,332.69 323.0,332.37 324.0,332.04 325.0,331.71 326.0,331.37 327.0,331.02 328.0,330.65 329.0,330.26 330.0,329.86 331.0,329.45 332.0,329.04 333.0,328.61 334.0,328.19 335.0,327.77 336.0,327.34 337.0,326.87 338.0,326.40 339.0,325.96 340.0,325.60 341.0,325.32 342.0,325.08 343.0,324.87 344.0,324.64 345.0,324.39 346.0,324.08 347.0,323.72 348.0,323.33 349.0,322.91 350.0,322.47 351.0,322.02 352.0,321.52 353.0,320.99 354.0,320.45 355.0,319.91 356.0,319.40 357.0,318.88 358.0,318.35 359.0,317.83 360.0,317.36 361.0,316.94 362.0,316.55 363.0,316.14 364.0,315.76 365.0,315.47 366.0,315.32 367.0,315.42 368.0,316.03 369.0,316.90 370.0,318.29 371.0,320.24 372.0,322.16 373.0,324.15 374.0,326.12 375.0,327.81 376.0,329.32 377.0,330.66 378.0,331.70 379.0,332.50 380.0,333.19 381.0,333.76 382.0,334.22 383.0,334.59 384.0,334.92 385.0,335.21 386.0,335.45 387.0,335.63 388.0,335.76 389.0,335.87 390.0,335.97 391.0,336.07 392.0,336.15 393.0,336.22 394.0,336.29 395.0,336.35 396.0,336.41 397.0,336.46 398.0,336.51 399.0,336.56 400.0,336.60 401.0,336.64 402.0,336.68 403.0,336.72 404.0,336.77 405.0,336.81 406.0,336.85 407.0,336.89 408.0,336.92 409.0,336.96 410.0,337.00 411.0,337.04 412.0,337.07 413.0,337.11 414.0,337.15 415.0,337.18 416.0,337.21 417.0,337.25 418.0,337.28 419.0,337.31 420.0,337.34 421.0,337.37 422.0,337.40 423.0,337.43 424.0,337.45 425.0,337.48 426.0,337.50 427.0,337.52 428.0,337.55 429.0,337.57 430.0,337.58 431.0,337.60 432.0,337.62 433.0,337.63 434.0,337.65 435.0,337.66 436.0,337.67 437.0,337.68 438.0,337.69 439.0,337.69 440.0,337.70 441.0,337.70 442.0,337.70" stroke="#df5353" stroke-width="1.9"/>
</g>
<path d="M319.80,60.70 L326.60,60.70 L323.20,66.30 Z" fill="#4a7cc4"/>
<path d="M317.00,60.70 L323.80,60.70 L320.40,66.30 Z" fill="#df5353"/>
<path d="M323.60,83.80 L330.40,83.80 L327.00,89.40 Z" fill="#4a7cc4"/>
<path d="M322.30,83.80 L329.10,83.80 L325.70,89.40 Z" fill="#df5353"/>
<path d="M339.00,102.60 L345.80,102.60 L342.40,108.20 Z" fill="#4a7cc4"/>
<path d="M335.10,102.60 L341.90,102.60 L338.50,108.20 Z" fill="#df5353"/>
<path d="M343.80,121.20 L350.60,121.20 L347.20,126.80 Z" fill="#4a7cc4"/>
<path d="M337.90,121.20 L344.70,121.20 L341.30,126.80 Z" fill="#df5353"/>
<path d="M345.60,141.40 L352.40,141.40 L349.00,147.00 Z" fill="#4a7cc4"/>
<path d="M338.00,141.40 L344.80,141.40 L341.40,147.00 Z" fill="#df5353"/>
<path d="M347.70,159.20 L354.50,159.20 L351.10,164.80 Z" fill="#4a7cc4"/>
<path d="M341.70,159.20 L348.50,159.20 L345.10,164.80 Z" fill="#df5353"/>
<path d="M352.10,179.60 L358.90,179.60 L355.50,185.20 Z" fill="#4a7cc4"/>
<path d="M348.10,179.60 L354.90,179.60 L351.50,185.20 Z" fill="#df5353"/>
<path d="M354.80,199.20 L361.60,199.20 L358.20,204.80 Z" fill="#4a7cc4"/>
<path d="M352.80,199.20 L359.60,199.20 L356.20,204.80 Z" fill="#df5353"/>
<path d="M352.80,217.30 L359.60,217.30 L356.20,222.90 Z" fill="#4a7cc4"/>
<path d="M355.10,217.30 L361.90,217.30 L358.50,222.90 Z" fill="#df5353"/>
<path d="M352.30,236.40 L359.10,236.40 L355.70,242.00 Z" fill="#4a7cc4"/>
<path d="M358.00,236.40 L364.80,236.40 L361.40,242.00 Z" fill="#df5353"/>
<path d="M353.20,254.00 L360.00,254.00 L356.60,259.60 Z" fill="#4a7cc4"/>
<path d="M358.80,254.00 L365.60,254.00 L362.20,259.60 Z" fill="#df5353"/>
<path d="M354.70,271.10 L361.50,271.10 L358.10,276.70 Z" fill="#4a7cc4"/>
<path d="M359.40,271.10 L366.20,271.10 L362.80,276.70 Z" fill="#df5353"/>
<path d="M357.40,288.90 L364.20,288.90 L360.80,294.50 Z" fill="#4a7cc4"/>
<path d="M362.50,288.90 L369.30,288.90 L365.90,294.50 Z" fill="#df5353"/>
<path d="M357.70,306.40 L364.50,306.40 L361.10,312.00 Z" fill="#4a7cc4"/>
<path d="M363.00,306.40 L369.80,306.40 L366.40,312.00 Z" fill="#df5353"/>
<text x="406.5" y="86.5" font-size="10.8" text-anchor="start" fill="#1a1a1a" font-weight="normal" >350 K</text>
<text x="406.5" y="109.6" font-size="10.8" text-anchor="start" fill="#1a1a1a" font-weight="normal" >300 K</text>
<text x="406.5" y="128.2" font-size="10.8" text-anchor="start" fill="#1a1a1a" font-weight="normal" >250 K</text>
<text x="406.5" y="147.3" font-size="10.8" text-anchor="start" fill="#1a1a1a" font-weight="normal" >220 K</text>
<text x="406.5" y="165.6" font-size="10.8" text-anchor="start" fill="#1a1a1a" font-weight="normal" >200 K</text>
<text x="406.5" y="184" font-size="10.8" text-anchor="start" fill="#1a1a1a" font-weight="normal" >180 K</text>
<text x="406.5" y="204.2" font-size="10.8" text-anchor="start" fill="#1a1a1a" font-weight="normal" >160 K</text>
<text x="406.5" y="224.3" font-size="10.8" text-anchor="start" fill="#1a1a1a" font-weight="normal" >140 K</text>
<text x="406.5" y="242.4" font-size="10.8" text-anchor="start" fill="#1a1a1a" font-weight="normal" >130 K</text>
<text x="406.5" y="261.4" font-size="10.8" text-anchor="start" fill="#1a1a1a" font-weight="normal" >120 K</text>
<text x="406.5" y="278.5" font-size="10.8" text-anchor="start" fill="#1a1a1a" font-weight="normal" >110 K</text>
<text x="406.5" y="296.5" font-size="10.8" text-anchor="start" fill="#1a1a1a" font-weight="normal" >100 K</text>
<text x="406.5" y="314.6" font-size="10.8" text-anchor="start" fill="#1a1a1a" font-weight="normal" >90 K</text>
<text x="406.5" y="332.6" font-size="10.8" text-anchor="start" fill="#1a1a1a" font-weight="normal" >80 K</text>
<rect x="272.0" y="22.0" width="170.0" height="320.3" fill="none" stroke="#1a1a1a" stroke-width="1.3"/>
<line x1="296.3" y1="342.3" x2="296.3" y2="339.9" stroke="#1a1a1a" stroke-width="1.1" />
<line x1="331.2" y1="342.3" x2="331.2" y2="339.1" stroke="#1a1a1a" stroke-width="1.1" />
<line x1="366.1" y1="342.3" x2="366.1" y2="339.9" stroke="#1a1a1a" stroke-width="1.1" />
<line x1="401" y1="342.3" x2="401" y2="339.1" stroke="#1a1a1a" stroke-width="1.1" />
<line x1="435.9" y1="342.3" x2="435.9" y2="339.9" stroke="#1a1a1a" stroke-width="1.1" />
<text x="331.3" y="355.3" font-size="11" text-anchor="middle" fill="#1a1a1a" font-weight="normal" >1.3</text>
<text x="401" y="355.3" font-size="11" text-anchor="middle" fill="#1a1a1a" font-weight="normal" >1.4</text>
<text x="294.3" y="375.2" font-size="14.5" text-anchor="start" fill="#1a1a1a" font-weight="normal" >Photon energy (eV)</text>
<text transform="translate(259.8,181.6) rotate(-90)" font-size="14.45" text-anchor="middle" fill="#1a1a1a">PL intensity (arb. units)</text>
<line x1="293.8" y1="31.4" x2="320" y2="31.4" stroke="#4a7cc4" stroke-width="1.5" />
<line x1="293.8" y1="46.3" x2="320" y2="46.3" stroke="#df5353" stroke-width="1.5" />
<text x="335.6" y="35.6" font-size="11.1" text-anchor="start" fill="#4a7cc4" font-weight="normal" >CrSBr</text>
<text x="324.6" y="50.3" font-size="11.1" text-anchor="start" fill="#df5353" font-weight="normal" >CrSBr/FGT</text>
<path d="M391.00,29.10 L397.80,29.10 L394.40,34.70 Z" fill="#4a7cc4"/>
<path d="M391.00,43.70 L397.80,43.70 L394.40,49.30 Z" fill="#df5353"/>
<text x="405.4" y="34.1" font-size="10.9" text-anchor="start" fill="#4a7cc4" font-weight="normal" >peak</text>
<text x="405.4" y="48.9" font-size="10.9" text-anchor="start" fill="#df5353" font-weight="normal" >peak</text>
<rect x="501.6" y="22.7" width="36.82" height="139.5" fill="#fcf6e9"/>
<rect x="538.42" y="22.7" width="139.38" height="139.5" fill="#e9f5fe"/>
<line x1="507.22" y1="39.2" x2="507.22" y2="51.4" stroke="#4a7cc4" stroke-width="0.8" />
<line x1="505.52" y1="39.2" x2="508.92" y2="39.2" stroke="#4a7cc4" stroke-width="0.8" />
<line x1="505.52" y1="51.4" x2="508.92" y2="51.4" stroke="#4a7cc4" stroke-width="0.8" />
<line x1="513.46" y1="43.4" x2="513.46" y2="50.6" stroke="#4a7cc4" stroke-width="0.8" />
<line x1="511.76" y1="43.4" x2="515.16" y2="43.4" stroke="#4a7cc4" stroke-width="0.8" />
<line x1="511.76" y1="50.6" x2="515.16" y2="50.6" stroke="#4a7cc4" stroke-width="0.8" />
<line x1="519.7" y1="44.5" x2="519.7" y2="52.5" stroke="#4a7cc4" stroke-width="0.8" />
<line x1="518" y1="44.5" x2="521.4" y2="44.5" stroke="#4a7cc4" stroke-width="0.8" />
<line x1="518" y1="52.5" x2="521.4" y2="52.5" stroke="#4a7cc4" stroke-width="0.8" />
<line x1="525.94" y1="52.3" x2="525.94" y2="56.7" stroke="#4a7cc4" stroke-width="0.8" />
<line x1="524.24" y1="52.3" x2="527.64" y2="52.3" stroke="#4a7cc4" stroke-width="0.8" />
<line x1="524.24" y1="56.7" x2="527.64" y2="56.7" stroke="#4a7cc4" stroke-width="0.8" />
<line x1="532.18" y1="55.4" x2="532.18" y2="65.4" stroke="#4a7cc4" stroke-width="0.8" />
<line x1="530.48" y1="55.4" x2="533.88" y2="55.4" stroke="#4a7cc4" stroke-width="0.8" />
<line x1="530.48" y1="65.4" x2="533.88" y2="65.4" stroke="#4a7cc4" stroke-width="0.8" />
<line x1="538.42" y1="59.5" x2="538.42" y2="65.5" stroke="#4a7cc4" stroke-width="0.8" />
<line x1="536.72" y1="59.5" x2="540.12" y2="59.5" stroke="#4a7cc4" stroke-width="0.8" />
<line x1="536.72" y1="65.5" x2="540.12" y2="65.5" stroke="#4a7cc4" stroke-width="0.8" />
<line x1="544.66" y1="64" x2="544.66" y2="70" stroke="#4a7cc4" stroke-width="0.8" />
<line x1="542.96" y1="64" x2="546.36" y2="64" stroke="#4a7cc4" stroke-width="0.8" />
<line x1="542.96" y1="70" x2="546.36" y2="70" stroke="#4a7cc4" stroke-width="0.8" />
<line x1="557.14" y1="70.1" x2="557.14" y2="76.7" stroke="#4a7cc4" stroke-width="0.8" />
<line x1="555.44" y1="70.1" x2="558.84" y2="70.1" stroke="#4a7cc4" stroke-width="0.8" />
<line x1="555.44" y1="76.7" x2="558.84" y2="76.7" stroke="#4a7cc4" stroke-width="0.8" />
<line x1="569.62" y1="75.7" x2="569.62" y2="88.5" stroke="#4a7cc4" stroke-width="0.8" />
<line x1="567.92" y1="75.7" x2="571.32" y2="75.7" stroke="#4a7cc4" stroke-width="0.8" />
<line x1="567.92" y1="88.5" x2="571.32" y2="88.5" stroke="#4a7cc4" stroke-width="0.8" />
<line x1="582.1" y1="82.3" x2="582.1" y2="97.1" stroke="#4a7cc4" stroke-width="0.8" />
<line x1="580.4" y1="82.3" x2="583.8" y2="82.3" stroke="#4a7cc4" stroke-width="0.8" />
<line x1="580.4" y1="97.1" x2="583.8" y2="97.1" stroke="#4a7cc4" stroke-width="0.8" />
<line x1="594.58" y1="89.3" x2="594.58" y2="104.3" stroke="#4a7cc4" stroke-width="0.8" />
<line x1="592.88" y1="89.3" x2="596.28" y2="89.3" stroke="#4a7cc4" stroke-width="0.8" />
<line x1="592.88" y1="104.3" x2="596.28" y2="104.3" stroke="#4a7cc4" stroke-width="0.8" />
<line x1="613.3" y1="103.6" x2="613.3" y2="108.8" stroke="#4a7cc4" stroke-width="0.8" />
<line x1="611.6" y1="103.6" x2="615" y2="103.6" stroke="#4a7cc4" stroke-width="0.8" />
<line x1="611.6" y1="108.8" x2="615" y2="108.8" stroke="#4a7cc4" stroke-width="0.8" />
<line x1="644.5" y1="126.4" x2="644.5" y2="146.6" stroke="#4a7cc4" stroke-width="0.8" />
<line x1="642.8" y1="126.4" x2="646.2" y2="126.4" stroke="#4a7cc4" stroke-width="0.8" />
<line x1="642.8" y1="146.6" x2="646.2" y2="146.6" stroke="#4a7cc4" stroke-width="0.8" />
<line x1="675.7" y1="141.8" x2="675.7" y2="151.8" stroke="#4a7cc4" stroke-width="0.8" />
<line x1="674" y1="141.8" x2="677.4" y2="141.8" stroke="#4a7cc4" stroke-width="0.8" />
<line x1="674" y1="151.8" x2="677.4" y2="151.8" stroke="#4a7cc4" stroke-width="0.8" />
<polyline points="507.22,45.30 513.46,47.00 519.70,48.50 525.94,54.50 532.18,60.40 538.42,62.50 544.66,67.00 557.14,73.40 569.62,82.10 582.10,89.70 594.58,96.80 613.30,106.20 644.50,136.50 675.70,146.80" fill="none" stroke="#4a7cc4" stroke-width="1.5"/>
<rect x="504.72" y="42.80" width="5" height="5" fill="#4a7cc4"/>
<rect x="510.96" y="44.50" width="5" height="5" fill="#4a7cc4"/>
<rect x="517.20" y="46.00" width="5" height="5" fill="#4a7cc4"/>
<rect x="523.44" y="52.00" width="5" height="5" fill="#4a7cc4"/>
<rect x="529.68" y="57.90" width="5" height="5" fill="#4a7cc4"/>
<rect x="535.92" y="60.00" width="5" height="5" fill="#4a7cc4"/>
<rect x="542.16" y="64.50" width="5" height="5" fill="#4a7cc4"/>
<rect x="554.64" y="70.90" width="5" height="5" fill="#4a7cc4"/>
<rect x="567.12" y="79.60" width="5" height="5" fill="#4a7cc4"/>
<rect x="579.60" y="87.20" width="5" height="5" fill="#4a7cc4"/>
<rect x="592.08" y="94.30" width="5" height="5" fill="#4a7cc4"/>
<rect x="610.80" y="103.70" width="5" height="5" fill="#4a7cc4"/>
<rect x="642.00" y="134.00" width="5" height="5" fill="#4a7cc4"/>
<rect x="673.20" y="144.30" width="5" height="5" fill="#4a7cc4"/>
<line x1="507.22" y1="28.3" x2="507.22" y2="36.1" stroke="#df5353" stroke-width="0.8" />
<line x1="505.52" y1="28.3" x2="508.92" y2="28.3" stroke="#df5353" stroke-width="0.8" />
<line x1="505.52" y1="36.1" x2="508.92" y2="36.1" stroke="#df5353" stroke-width="0.8" />
<line x1="513.46" y1="31.2" x2="513.46" y2="42" stroke="#df5353" stroke-width="0.8" />
<line x1="511.76" y1="31.2" x2="515.16" y2="31.2" stroke="#df5353" stroke-width="0.8" />
<line x1="511.76" y1="42" x2="515.16" y2="42" stroke="#df5353" stroke-width="0.8" />
<line x1="519.7" y1="33" x2="519.7" y2="40.2" stroke="#df5353" stroke-width="0.8" />
<line x1="518" y1="33" x2="521.4" y2="33" stroke="#df5353" stroke-width="0.8" />
<line x1="518" y1="40.2" x2="521.4" y2="40.2" stroke="#df5353" stroke-width="0.8" />
<line x1="525.94" y1="33.2" x2="525.94" y2="43.2" stroke="#df5353" stroke-width="0.8" />
<line x1="524.24" y1="33.2" x2="527.64" y2="33.2" stroke="#df5353" stroke-width="0.8" />
<line x1="524.24" y1="43.2" x2="527.64" y2="43.2" stroke="#df5353" stroke-width="0.8" />
<line x1="532.18" y1="39.5" x2="532.18" y2="50.3" stroke="#df5353" stroke-width="0.8" />
<line x1="530.48" y1="39.5" x2="533.88" y2="39.5" stroke="#df5353" stroke-width="0.8" />
<line x1="530.48" y1="50.3" x2="533.88" y2="50.3" stroke="#df5353" stroke-width="0.8" />
<line x1="538.42" y1="58.5" x2="538.42" y2="66.5" stroke="#df5353" stroke-width="0.8" />
<line x1="536.72" y1="58.5" x2="540.12" y2="58.5" stroke="#df5353" stroke-width="0.8" />
<line x1="536.72" y1="66.5" x2="540.12" y2="66.5" stroke="#df5353" stroke-width="0.8" />
<line x1="544.66" y1="62.9" x2="544.66" y2="73.9" stroke="#df5353" stroke-width="0.8" />
<line x1="542.96" y1="62.9" x2="546.36" y2="62.9" stroke="#df5353" stroke-width="0.8" />
<line x1="542.96" y1="73.9" x2="546.36" y2="73.9" stroke="#df5353" stroke-width="0.8" />
<line x1="557.14" y1="74.6" x2="557.14" y2="86.6" stroke="#df5353" stroke-width="0.8" />
<line x1="555.44" y1="74.6" x2="558.84" y2="74.6" stroke="#df5353" stroke-width="0.8" />
<line x1="555.44" y1="86.6" x2="558.84" y2="86.6" stroke="#df5353" stroke-width="0.8" />
<line x1="569.62" y1="91.7" x2="569.62" y2="107.5" stroke="#df5353" stroke-width="0.8" />
<line x1="567.92" y1="91.7" x2="571.32" y2="91.7" stroke="#df5353" stroke-width="0.8" />
<line x1="567.92" y1="107.5" x2="571.32" y2="107.5" stroke="#df5353" stroke-width="0.8" />
<line x1="582.1" y1="102" x2="582.1" y2="112" stroke="#df5353" stroke-width="0.8" />
<line x1="580.4" y1="102" x2="583.8" y2="102" stroke="#df5353" stroke-width="0.8" />
<line x1="580.4" y1="112" x2="583.8" y2="112" stroke="#df5353" stroke-width="0.8" />
<line x1="594.58" y1="105.8" x2="594.58" y2="120" stroke="#df5353" stroke-width="0.8" />
<line x1="592.88" y1="105.8" x2="596.28" y2="105.8" stroke="#df5353" stroke-width="0.8" />
<line x1="592.88" y1="120" x2="596.28" y2="120" stroke="#df5353" stroke-width="0.8" />
<line x1="613.3" y1="109" x2="613.3" y2="119.6" stroke="#df5353" stroke-width="0.8" />
<line x1="611.6" y1="109" x2="615" y2="109" stroke="#df5353" stroke-width="0.8" />
<line x1="611.6" y1="119.6" x2="615" y2="119.6" stroke="#df5353" stroke-width="0.8" />
<line x1="644.5" y1="127.9" x2="644.5" y2="143.9" stroke="#df5353" stroke-width="0.8" />
<line x1="642.8" y1="127.9" x2="646.2" y2="127.9" stroke="#df5353" stroke-width="0.8" />
<line x1="642.8" y1="143.9" x2="646.2" y2="143.9" stroke="#df5353" stroke-width="0.8" />
<line x1="675.7" y1="141.8" x2="675.7" y2="151.8" stroke="#df5353" stroke-width="0.8" />
<line x1="674" y1="141.8" x2="677.4" y2="141.8" stroke="#df5353" stroke-width="0.8" />
<line x1="674" y1="151.8" x2="677.4" y2="151.8" stroke="#df5353" stroke-width="0.8" />
<polyline points="507.22,32.20 513.46,36.60 519.70,36.60 525.94,38.20 532.18,44.90 538.42,62.50 544.66,68.40 557.14,80.60 569.62,99.60 582.10,107.00 594.58,112.90 613.30,114.30 644.50,135.90 675.70,146.80" fill="none" stroke="#df5353" stroke-width="1.5"/>
<circle cx="507.22" cy="32.20" r="2.9" fill="#df5353"/>
<circle cx="513.46" cy="36.60" r="2.9" fill="#df5353"/>
<circle cx="519.70" cy="36.60" r="2.9" fill="#df5353"/>
<circle cx="525.94" cy="38.20" r="2.9" fill="#df5353"/>
<circle cx="532.18" cy="44.90" r="2.9" fill="#df5353"/>
<circle cx="538.42" cy="62.50" r="2.9" fill="#df5353"/>
<circle cx="544.66" cy="68.40" r="2.9" fill="#df5353"/>
<circle cx="557.14" cy="80.60" r="2.9" fill="#df5353"/>
<circle cx="569.62" cy="99.60" r="2.9" fill="#df5353"/>
<circle cx="582.10" cy="107.00" r="2.9" fill="#df5353"/>
<circle cx="594.58" cy="112.90" r="2.9" fill="#df5353"/>
<circle cx="613.30" cy="114.30" r="2.9" fill="#df5353"/>
<circle cx="644.50" cy="135.90" r="2.9" fill="#df5353"/>
<circle cx="675.70" cy="146.80" r="2.9" fill="#df5353"/>
<rect x="501.6" y="22.7" width="176.2" height="139.5" fill="none" stroke="#1a1a1a" stroke-width="1.3"/>
<line x1="501.6" y1="151.85" x2="503.8" y2="151.85" stroke="#1a1a1a" stroke-width="1.1" />
<line x1="501.6" y1="131.8" x2="504.8" y2="131.8" stroke="#1a1a1a" stroke-width="1.1" />
<text x="497.8" y="137" font-size="12" text-anchor="end" fill="#1a1a1a" font-weight="normal" >1.30</text>
<line x1="501.6" y1="111.75" x2="503.8" y2="111.75" stroke="#1a1a1a" stroke-width="1.1" />
<line x1="501.6" y1="91.7" x2="504.8" y2="91.7" stroke="#1a1a1a" stroke-width="1.1" />
<text x="497.8" y="96.9" font-size="12" text-anchor="end" fill="#1a1a1a" font-weight="normal" >1.32</text>
<line x1="501.6" y1="71.65" x2="503.8" y2="71.65" stroke="#1a1a1a" stroke-width="1.1" />
<line x1="501.6" y1="51.6" x2="504.8" y2="51.6" stroke="#1a1a1a" stroke-width="1.1" />
<text x="497.8" y="56.8" font-size="12" text-anchor="end" fill="#1a1a1a" font-weight="normal" >1.34</text>
<line x1="501.6" y1="31.55" x2="503.8" y2="31.55" stroke="#1a1a1a" stroke-width="1.1" />
<line x1="504.1" y1="162.2" x2="504.1" y2="160" stroke="#1a1a1a" stroke-width="1.1" />
<line x1="519.7" y1="162.2" x2="519.7" y2="159" stroke="#1a1a1a" stroke-width="1.1" />
<text x="520" y="175.4" font-size="12" text-anchor="middle" fill="#1a1a1a" font-weight="normal" >100</text>
<line x1="535.3" y1="162.2" x2="535.3" y2="160" stroke="#1a1a1a" stroke-width="1.1" />
<line x1="550.9" y1="162.2" x2="550.9" y2="159" stroke="#1a1a1a" stroke-width="1.1" />
<text x="551.2" y="175.4" font-size="12" text-anchor="middle" fill="#1a1a1a" font-weight="normal" >150</text>
<line x1="566.5" y1="162.2" x2="566.5" y2="160" stroke="#1a1a1a" stroke-width="1.1" />
<line x1="582.1" y1="162.2" x2="582.1" y2="159" stroke="#1a1a1a" stroke-width="1.1" />
<text x="582.4" y="175.4" font-size="12" text-anchor="middle" fill="#1a1a1a" font-weight="normal" >200</text>
<line x1="597.7" y1="162.2" x2="597.7" y2="160" stroke="#1a1a1a" stroke-width="1.1" />
<line x1="613.3" y1="162.2" x2="613.3" y2="159" stroke="#1a1a1a" stroke-width="1.1" />
<text x="613.6" y="175.4" font-size="12" text-anchor="middle" fill="#1a1a1a" font-weight="normal" >250</text>
<line x1="628.9" y1="162.2" x2="628.9" y2="160" stroke="#1a1a1a" stroke-width="1.1" />
<line x1="644.5" y1="162.2" x2="644.5" y2="159" stroke="#1a1a1a" stroke-width="1.1" />
<text x="644.8" y="175.4" font-size="12" text-anchor="middle" fill="#1a1a1a" font-weight="normal" >300</text>
<line x1="660.1" y1="162.2" x2="660.1" y2="160" stroke="#1a1a1a" stroke-width="1.1" />
<line x1="675.7" y1="162.2" x2="675.7" y2="159" stroke="#1a1a1a" stroke-width="1.1" />
<text x="676" y="175.4" font-size="12" text-anchor="middle" fill="#1a1a1a" font-weight="normal" >350</text>
<text x="536.9" y="194.1" font-size="14.7" text-anchor="start" fill="#1a1a1a" font-weight="normal" >Temperature (K)</text>
<text transform="translate(467,91.85) rotate(-90)" font-size="14.35" text-anchor="middle" fill="#1a1a1a">Peak energy (eV)</text>
<line x1="584.1" y1="34.2" x2="608" y2="34.2" stroke="#4a7cc4" stroke-width="1.3" />
<rect x="594.0" y="31.800000000000004" width="4.8" height="4.8" fill="#4a7cc4"/>
<line x1="584.1" y1="49.6" x2="608" y2="49.6" stroke="#df5353" stroke-width="1.3" />
<circle cx="596.4" cy="49.6" r="2.8" fill="#df5353"/>
<text x="612.3" y="38.7" font-size="11.8" text-anchor="start" fill="#4a7cc4" font-weight="normal" >CrSBr</text>
<text x="612.3" y="52.9" font-size="12" text-anchor="start" fill="#df5353" font-weight="normal" >CrSBr/FGT</text>
<text x="510" y="141.1" font-size="11.7" text-anchor="start" fill="#1a1a1a" font-weight="normal" >AFM</text>
<text x="510" y="155.2" font-size="11.7" text-anchor="start" fill="#1a1a1a" font-weight="normal" >/FM</text>
<text x="542.6" y="149.6" font-size="12" text-anchor="start" fill="#1a1a1a" font-weight="normal" >PM/FM</text>
<rect x="500.3" y="203.4" width="37.12" height="139.7" fill="#fcf6e9"/>
<rect x="537.42" y="203.4" width="140.38" height="139.7" fill="#e9f5fe"/>
<line x1="506.22" y1="218" x2="506.22" y2="227.2" stroke="#8a55c6" stroke-width="0.8" />
<line x1="504.52" y1="218" x2="507.92" y2="218" stroke="#8a55c6" stroke-width="0.8" />
<line x1="504.52" y1="227.2" x2="507.92" y2="227.2" stroke="#8a55c6" stroke-width="0.8" />
<line x1="512.46" y1="221.2" x2="512.46" y2="225.2" stroke="#8a55c6" stroke-width="0.8" />
<line x1="510.76" y1="221.2" x2="514.16" y2="221.2" stroke="#8a55c6" stroke-width="0.8" />
<line x1="510.76" y1="225.2" x2="514.16" y2="225.2" stroke="#8a55c6" stroke-width="0.8" />
<line x1="518.7" y1="219.2" x2="518.7" y2="226.4" stroke="#8a55c6" stroke-width="0.8" />
<line x1="517" y1="219.2" x2="520.4" y2="219.2" stroke="#8a55c6" stroke-width="0.8" />
<line x1="517" y1="226.4" x2="520.4" y2="226.4" stroke="#8a55c6" stroke-width="0.8" />
<line x1="524.94" y1="213.9" x2="524.94" y2="223.3" stroke="#8a55c6" stroke-width="0.8" />
<line x1="523.24" y1="213.9" x2="526.64" y2="213.9" stroke="#8a55c6" stroke-width="0.8" />
<line x1="523.24" y1="223.3" x2="526.64" y2="223.3" stroke="#8a55c6" stroke-width="0.8" />
<line x1="531.18" y1="217.4" x2="531.18" y2="221.4" stroke="#8a55c6" stroke-width="0.8" />
<line x1="529.48" y1="217.4" x2="532.88" y2="217.4" stroke="#8a55c6" stroke-width="0.8" />
<line x1="529.48" y1="221.4" x2="532.88" y2="221.4" stroke="#8a55c6" stroke-width="0.8" />
<line x1="537.42" y1="263.8" x2="537.42" y2="273.8" stroke="#8a55c6" stroke-width="0.8" />
<line x1="535.72" y1="263.8" x2="539.12" y2="263.8" stroke="#8a55c6" stroke-width="0.8" />
<line x1="535.72" y1="273.8" x2="539.12" y2="273.8" stroke="#8a55c6" stroke-width="0.8" />
<line x1="543.66" y1="273.5" x2="543.66" y2="293.1" stroke="#8a55c6" stroke-width="0.8" />
<line x1="541.96" y1="273.5" x2="545.36" y2="273.5" stroke="#8a55c6" stroke-width="0.8" />
<line x1="541.96" y1="293.1" x2="545.36" y2="293.1" stroke="#8a55c6" stroke-width="0.8" />
<line x1="556.14" y1="297.1" x2="556.14" y2="323.3" stroke="#8a55c6" stroke-width="0.8" />
<line x1="554.44" y1="297.1" x2="557.84" y2="297.1" stroke="#8a55c6" stroke-width="0.8" />
<line x1="554.44" y1="323.3" x2="557.84" y2="323.3" stroke="#8a55c6" stroke-width="0.8" />
<line x1="568.62" y1="313.3" x2="568.62" y2="335.1" stroke="#8a55c6" stroke-width="0.8" />
<line x1="566.92" y1="313.3" x2="570.32" y2="313.3" stroke="#8a55c6" stroke-width="0.8" />
<line x1="566.92" y1="335.1" x2="570.32" y2="335.1" stroke="#8a55c6" stroke-width="0.8" />
<line x1="581.1" y1="322.8" x2="581.1" y2="343.6" stroke="#8a55c6" stroke-width="0.8" />
<line x1="579.4" y1="322.8" x2="582.8" y2="322.8" stroke="#8a55c6" stroke-width="0.8" />
<line x1="579.4" y1="343.6" x2="582.8" y2="343.6" stroke="#8a55c6" stroke-width="0.8" />
<line x1="593.58" y1="328.2" x2="593.58" y2="330.2" stroke="#8a55c6" stroke-width="0.8" />
<line x1="591.88" y1="328.2" x2="595.28" y2="328.2" stroke="#8a55c6" stroke-width="0.8" />
<line x1="591.88" y1="330.2" x2="595.28" y2="330.2" stroke="#8a55c6" stroke-width="0.8" />
<line x1="612.3" y1="287.6" x2="612.3" y2="307.8" stroke="#8a55c6" stroke-width="0.8" />
<line x1="610.6" y1="287.6" x2="614" y2="287.6" stroke="#8a55c6" stroke-width="0.8" />
<line x1="610.6" y1="307.8" x2="614" y2="307.8" stroke="#8a55c6" stroke-width="0.8" />
<line x1="643.5" y1="255.9" x2="643.5" y2="278.7" stroke="#8a55c6" stroke-width="0.8" />
<line x1="641.8" y1="255.9" x2="645.2" y2="255.9" stroke="#8a55c6" stroke-width="0.8" />
<line x1="641.8" y1="278.7" x2="645.2" y2="278.7" stroke="#8a55c6" stroke-width="0.8" />
<line x1="674.7" y1="267.5" x2="674.7" y2="269.5" stroke="#8a55c6" stroke-width="0.8" />
<line x1="673" y1="267.5" x2="676.4" y2="267.5" stroke="#8a55c6" stroke-width="0.8" />
<line x1="673" y1="269.5" x2="676.4" y2="269.5" stroke="#8a55c6" stroke-width="0.8" />
<polyline points="506.22,222.60 512.46,223.20 518.70,222.80 524.94,218.60 531.18,219.40 537.42,268.80 543.66,283.30 556.14,310.20 568.62,324.20 581.10,333.20 593.58,329.20 612.30,297.70 643.50,267.30 674.70,268.50" fill="none" stroke="#8a55c6" stroke-width="1.5"/>
<rect x="503.72" y="220.10" width="5" height="5" fill="#8a55c6"/>
<rect x="509.96" y="220.70" width="5" height="5" fill="#8a55c6"/>
<rect x="516.20" y="220.30" width="5" height="5" fill="#8a55c6"/>
<rect x="522.44" y="216.10" width="5" height="5" fill="#8a55c6"/>
<rect x="528.68" y="216.90" width="5" height="5" fill="#8a55c6"/>
<rect x="534.92" y="266.30" width="5" height="5" fill="#8a55c6"/>
<rect x="541.16" y="280.80" width="5" height="5" fill="#8a55c6"/>
<rect x="553.64" y="307.70" width="5" height="5" fill="#8a55c6"/>
<rect x="566.12" y="321.70" width="5" height="5" fill="#8a55c6"/>
<rect x="578.60" y="330.70" width="5" height="5" fill="#8a55c6"/>
<rect x="591.08" y="326.70" width="5" height="5" fill="#8a55c6"/>
<rect x="609.80" y="295.20" width="5" height="5" fill="#8a55c6"/>
<rect x="641.00" y="264.80" width="5" height="5" fill="#8a55c6"/>
<rect x="672.20" y="266.00" width="5" height="5" fill="#8a55c6"/>
<rect x="500.3" y="203.4" width="177.5" height="139.7" fill="none" stroke="#1a1a1a" stroke-width="1.3"/>
<line x1="500.3" y1="328.2" x2="503.5" y2="328.2" stroke="#1a1a1a" stroke-width="1.1" />
<text x="496.8" y="332.6" font-size="12" text-anchor="end" fill="#1a1a1a" font-weight="normal" >−8</text>
<line x1="500.3" y1="313.5" x2="502.5" y2="313.5" stroke="#1a1a1a" stroke-width="1.1" />
<line x1="500.3" y1="298.8" x2="503.5" y2="298.8" stroke="#1a1a1a" stroke-width="1.1" />
<text x="496.8" y="303.2" font-size="12" text-anchor="end" fill="#1a1a1a" font-weight="normal" >−4</text>
<line x1="500.3" y1="284.1" x2="502.5" y2="284.1" stroke="#1a1a1a" stroke-width="1.1" />
<line x1="500.3" y1="269.4" x2="503.5" y2="269.4" stroke="#1a1a1a" stroke-width="1.1" />
<text x="496.8" y="273.8" font-size="12" text-anchor="end" fill="#1a1a1a" font-weight="normal" >0</text>
<line x1="500.3" y1="254.7" x2="502.5" y2="254.7" stroke="#1a1a1a" stroke-width="1.1" />
<line x1="500.3" y1="240" x2="503.5" y2="240" stroke="#1a1a1a" stroke-width="1.1" />
<text x="496.8" y="244.4" font-size="12" text-anchor="end" fill="#1a1a1a" font-weight="normal" >4</text>
<line x1="500.3" y1="225.3" x2="502.5" y2="225.3" stroke="#1a1a1a" stroke-width="1.1" />
<line x1="500.3" y1="210.6" x2="503.5" y2="210.6" stroke="#1a1a1a" stroke-width="1.1" />
<text x="496.8" y="215" font-size="12" text-anchor="end" fill="#1a1a1a" font-weight="normal" >8</text>
<line x1="503.1" y1="343.1" x2="503.1" y2="340.9" stroke="#1a1a1a" stroke-width="1.1" />
<line x1="518.7" y1="343.1" x2="518.7" y2="339.9" stroke="#1a1a1a" stroke-width="1.1" />
<text x="518.7" y="356.3" font-size="12" text-anchor="middle" fill="#1a1a1a" font-weight="normal" >100</text>
<line x1="534.3" y1="343.1" x2="534.3" y2="340.9" stroke="#1a1a1a" stroke-width="1.1" />
<line x1="549.9" y1="343.1" x2="549.9" y2="339.9" stroke="#1a1a1a" stroke-width="1.1" />
<text x="549.9" y="356.3" font-size="12" text-anchor="middle" fill="#1a1a1a" font-weight="normal" >150</text>
<line x1="565.5" y1="343.1" x2="565.5" y2="340.9" stroke="#1a1a1a" stroke-width="1.1" />
<line x1="581.1" y1="343.1" x2="581.1" y2="339.9" stroke="#1a1a1a" stroke-width="1.1" />
<text x="581.1" y="356.3" font-size="12" text-anchor="middle" fill="#1a1a1a" font-weight="normal" >200</text>
<line x1="596.7" y1="343.1" x2="596.7" y2="340.9" stroke="#1a1a1a" stroke-width="1.1" />
<line x1="612.3" y1="343.1" x2="612.3" y2="339.9" stroke="#1a1a1a" stroke-width="1.1" />
<text x="612.3" y="356.3" font-size="12" text-anchor="middle" fill="#1a1a1a" font-weight="normal" >250</text>
<line x1="627.9" y1="343.1" x2="627.9" y2="340.9" stroke="#1a1a1a" stroke-width="1.1" />
<line x1="643.5" y1="343.1" x2="643.5" y2="339.9" stroke="#1a1a1a" stroke-width="1.1" />
<text x="643.5" y="356.3" font-size="12" text-anchor="middle" fill="#1a1a1a" font-weight="normal" >300</text>
<line x1="659.1" y1="343.1" x2="659.1" y2="340.9" stroke="#1a1a1a" stroke-width="1.1" />
<line x1="674.7" y1="343.1" x2="674.7" y2="339.9" stroke="#1a1a1a" stroke-width="1.1" />
<text x="674.7" y="356.3" font-size="12" text-anchor="middle" fill="#1a1a1a" font-weight="normal" >350</text>
<text x="536.6" y="375.5" font-size="14.65" text-anchor="start" fill="#1a1a1a" font-weight="normal" >Temperature (K)</text>
<text transform="translate(476.5,273.5) rotate(-90)" font-size="14.45" text-anchor="middle" fill="#1a1a1a">Δ<tspan font-style="italic">E</tspan> (meV)</text>
<text x="505.9" y="281.1" font-size="11.7" text-anchor="start" fill="#1a1a1a" font-weight="normal" >AFM</text>
<text x="505.9" y="295.6" font-size="11.7" text-anchor="start" fill="#1a1a1a" font-weight="normal" >/FM</text>
<text x="550.8" y="288.8" font-size="11.9" text-anchor="start" fill="#1a1a1a" font-weight="normal" >PM/FM</text>
</svg></div></body></html>
